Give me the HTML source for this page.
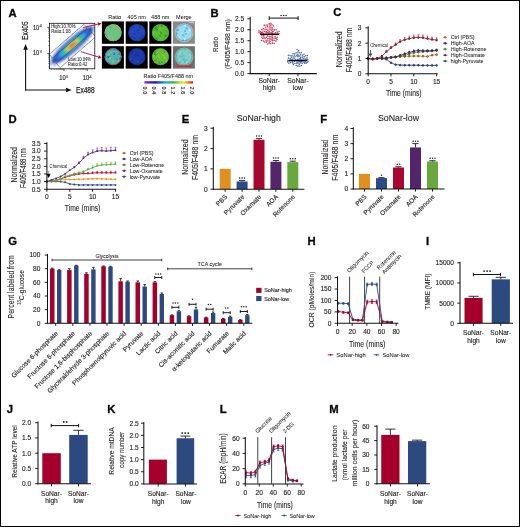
<!DOCTYPE html><html><head><meta charset="utf-8"><style>html,body{margin:0;padding:0;background:#fff;}svg{display:block;will-change:transform;} text{font-family:"Liberation Sans", sans-serif;stroke:#231f20;}</style></head><body><svg width="520" height="527" viewBox="0 0 520 527" font-family="'Liberation Sans', sans-serif" fill="#231f20"><defs><clipPath id="fbox"><rect x="49.4" y="23.3" width="45.4" height="45.5"/></clipPath><filter id="blur1" x="-20%" y="-20%" width="140%" height="140%"><feGaussianBlur stdDeviation="0.9"/></filter><filter id="blur2" x="-20%" y="-20%" width="140%" height="140%"><feGaussianBlur stdDeviation="0.45"/></filter><clipPath id="cc00"><circle cx="113.10" cy="32.70" r="8.60"/></clipPath><clipPath id="cc01"><circle cx="136.90" cy="32.70" r="8.60"/></clipPath><clipPath id="cc02"><circle cx="160.50" cy="32.70" r="8.60"/></clipPath><clipPath id="cc03"><circle cx="184.10" cy="32.70" r="8.60"/></clipPath><clipPath id="cc10"><circle cx="113.10" cy="56.80" r="8.50"/></clipPath><clipPath id="cc11"><circle cx="136.90" cy="56.80" r="8.50"/></clipPath><clipPath id="cc12"><circle cx="160.50" cy="56.80" r="8.50"/></clipPath><clipPath id="cc13"><circle cx="184.10" cy="56.80" r="8.50"/></clipPath><linearGradient id="cbar" x1="0" x2="1" y1="0" y2="0"><stop offset="0" stop-color="#a030a0"/><stop offset="0.22" stop-color="#1a1ab8"/><stop offset="0.45" stop-color="#20b0e8"/><stop offset="0.6" stop-color="#40b840"/><stop offset="0.8" stop-color="#f0f020"/><stop offset="1" stop-color="#e01818"/></linearGradient></defs><rect x="0" y="0" width="520" height="527" fill="#fff"/><text x="8.52" y="16.50" font-size="11.3" font-weight="bold" fill="#000" stroke-width="0.35">A</text>
<text transform="translate(28.40,30.70) rotate(-90)" font-size="9.0" text-anchor="middle" textLength="18.4" lengthAdjust="spacingAndGlyphs" stroke-width="0.1" style="stroke-width:0.25px">Ex405</text>
<line x1="25.60" y1="90.40" x2="25.60" y2="48.00" stroke="#111" stroke-width="1.1"/>
<polygon points="25.6,44 23.3,49.7 27.9,49.7" fill="#111"/>
<line x1="25.05" y1="90.00" x2="67.00" y2="90.00" stroke="#111" stroke-width="1.1"/>
<polygon points="71.7,90 66,87.7 66,92.3" fill="#111"/>
<text x="76.00" y="92.90" font-size="8.9" textLength="18.7" lengthAdjust="spacingAndGlyphs" stroke-width="0.1" style="stroke-width:0.25px">Ex488</text>
<g clip-path="url(#fbox)">
<g transform="translate(72,45.5) rotate(-41)">
<g fill="#3b6fd0" opacity="0.35"><circle cx="-3.3" cy="1.7" r="0.45"/><circle cx="-2.9" cy="-1.1" r="0.45"/><circle cx="-12.1" cy="-0.7" r="0.45"/><circle cx="14.5" cy="1.4" r="0.45"/><circle cx="13.5" cy="0.8" r="0.45"/><circle cx="5.1" cy="0.6" r="0.45"/><circle cx="-21.7" cy="2.9" r="0.45"/><circle cx="6.6" cy="1.7" r="0.45"/><circle cx="-22.0" cy="-5.9" r="0.45"/><circle cx="-11.6" cy="-1.6" r="0.45"/><circle cx="4.0" cy="-0.2" r="0.45"/><circle cx="6.8" cy="-2.2" r="0.45"/><circle cx="4.0" cy="1.3" r="0.45"/><circle cx="-8.6" cy="5.8" r="0.45"/><circle cx="7.2" cy="4.1" r="0.45"/><circle cx="-8.1" cy="-2.5" r="0.45"/><circle cx="-4.5" cy="-0.4" r="0.45"/><circle cx="8.2" cy="0.8" r="0.45"/><circle cx="-5.8" cy="-3.3" r="0.45"/><circle cx="-6.8" cy="4.2" r="0.45"/><circle cx="-10.5" cy="0.8" r="0.45"/><circle cx="5.5" cy="-5.1" r="0.45"/><circle cx="0.6" cy="4.4" r="0.45"/><circle cx="-26.2" cy="-1.1" r="0.45"/><circle cx="-1.4" cy="-2.8" r="0.45"/><circle cx="6.5" cy="-0.2" r="0.45"/><circle cx="-19.0" cy="2.8" r="0.45"/><circle cx="8.7" cy="3.2" r="0.45"/><circle cx="18.7" cy="1.2" r="0.45"/><circle cx="1.6" cy="-4.4" r="0.45"/><circle cx="8.0" cy="-2.1" r="0.45"/><circle cx="-5.9" cy="-4.3" r="0.45"/><circle cx="-12.6" cy="-1.8" r="0.45"/><circle cx="16.8" cy="-6.9" r="0.45"/><circle cx="-19.0" cy="0.8" r="0.45"/><circle cx="18.8" cy="2.0" r="0.45"/><circle cx="-24.7" cy="-8.6" r="0.45"/><circle cx="4.6" cy="-2.5" r="0.45"/><circle cx="-14.6" cy="3.3" r="0.45"/><circle cx="14.3" cy="0.5" r="0.45"/><circle cx="3.2" cy="1.5" r="0.45"/><circle cx="20.7" cy="2.1" r="0.45"/><circle cx="6.7" cy="1.9" r="0.45"/><circle cx="-20.4" cy="4.4" r="0.45"/><circle cx="12.4" cy="1.8" r="0.45"/><circle cx="-25.7" cy="-2.2" r="0.45"/><circle cx="10.9" cy="-6.2" r="0.45"/><circle cx="-2.4" cy="3.5" r="0.45"/><circle cx="-17.0" cy="5.5" r="0.45"/><circle cx="7.2" cy="-0.5" r="0.45"/><circle cx="4.2" cy="2.2" r="0.45"/><circle cx="1.6" cy="3.9" r="0.45"/><circle cx="-8.6" cy="-1.4" r="0.45"/><circle cx="13.5" cy="0.1" r="0.45"/><circle cx="-11.4" cy="3.2" r="0.45"/><circle cx="19.1" cy="-1.5" r="0.45"/><circle cx="-17.9" cy="-0.5" r="0.45"/><circle cx="-1.9" cy="-1.0" r="0.45"/><circle cx="18.3" cy="-3.5" r="0.45"/><circle cx="16.4" cy="-4.3" r="0.45"/><circle cx="-10.2" cy="2.1" r="0.45"/><circle cx="14.7" cy="2.9" r="0.45"/><circle cx="4.5" cy="0.5" r="0.45"/><circle cx="2.0" cy="2.0" r="0.45"/><circle cx="-2.3" cy="0.9" r="0.45"/><circle cx="7.4" cy="0.0" r="0.45"/><circle cx="9.9" cy="1.9" r="0.45"/><circle cx="26.1" cy="1.1" r="0.45"/><circle cx="-5.6" cy="-1.3" r="0.45"/><circle cx="-0.2" cy="3.1" r="0.45"/><circle cx="-4.4" cy="1.3" r="0.45"/><circle cx="23.9" cy="-8.7" r="0.45"/><circle cx="-14.6" cy="0.8" r="0.45"/><circle cx="5.2" cy="0.8" r="0.45"/><circle cx="-5.6" cy="2.2" r="0.45"/><circle cx="3.7" cy="-1.8" r="0.45"/><circle cx="31.6" cy="1.2" r="0.45"/><circle cx="-7.2" cy="-0.3" r="0.45"/><circle cx="-2.9" cy="-0.2" r="0.45"/><circle cx="-35.5" cy="-1.7" r="0.45"/><circle cx="13.1" cy="-4.0" r="0.45"/><circle cx="-0.9" cy="3.2" r="0.45"/><circle cx="11.1" cy="5.1" r="0.45"/><circle cx="-22.1" cy="-1.2" r="0.45"/><circle cx="-4.4" cy="2.1" r="0.45"/><circle cx="14.2" cy="-9.1" r="0.45"/><circle cx="14.2" cy="-4.9" r="0.45"/><circle cx="8.9" cy="-5.1" r="0.45"/><circle cx="2.3" cy="4.1" r="0.45"/><circle cx="-1.9" cy="0.6" r="0.45"/><circle cx="10.4" cy="0.5" r="0.45"/><circle cx="-1.2" cy="5.2" r="0.45"/><circle cx="13.6" cy="-1.0" r="0.45"/><circle cx="35.7" cy="-3.9" r="0.45"/><circle cx="11.9" cy="-0.9" r="0.45"/><circle cx="1.7" cy="2.4" r="0.45"/><circle cx="2.9" cy="2.2" r="0.45"/><circle cx="-19.9" cy="-5.1" r="0.45"/><circle cx="8.0" cy="-3.3" r="0.45"/><circle cx="-13.3" cy="-5.0" r="0.45"/><circle cx="16.5" cy="2.5" r="0.45"/><circle cx="19.1" cy="-3.2" r="0.45"/><circle cx="0.0" cy="-3.9" r="0.45"/><circle cx="10.0" cy="5.4" r="0.45"/><circle cx="-11.6" cy="5.3" r="0.45"/><circle cx="12.8" cy="-0.6" r="0.45"/><circle cx="-25.6" cy="4.8" r="0.45"/><circle cx="-1.3" cy="-2.0" r="0.45"/><circle cx="5.2" cy="1.4" r="0.45"/><circle cx="19.5" cy="-3.5" r="0.45"/><circle cx="14.8" cy="5.1" r="0.45"/><circle cx="18.9" cy="-0.6" r="0.45"/><circle cx="-9.7" cy="3.5" r="0.45"/><circle cx="1.5" cy="0.4" r="0.45"/><circle cx="18.5" cy="-0.9" r="0.45"/><circle cx="-29.9" cy="-1.3" r="0.45"/><circle cx="-24.1" cy="2.8" r="0.45"/><circle cx="4.1" cy="-2.1" r="0.45"/><circle cx="-0.1" cy="2.8" r="0.45"/><circle cx="1.0" cy="4.5" r="0.45"/><circle cx="-0.8" cy="3.5" r="0.45"/><circle cx="19.4" cy="5.5" r="0.45"/><circle cx="-8.7" cy="3.0" r="0.45"/><circle cx="-24.4" cy="-3.7" r="0.45"/><circle cx="-25.5" cy="3.6" r="0.45"/><circle cx="-16.0" cy="-0.0" r="0.45"/><circle cx="-2.5" cy="-0.1" r="0.45"/><circle cx="-7.7" cy="0.8" r="0.45"/><circle cx="23.3" cy="0.2" r="0.45"/><circle cx="6.9" cy="3.4" r="0.45"/><circle cx="-2.6" cy="-4.3" r="0.45"/><circle cx="-7.2" cy="3.7" r="0.45"/><circle cx="-21.4" cy="-2.0" r="0.45"/><circle cx="13.1" cy="2.7" r="0.45"/><circle cx="0.1" cy="2.7" r="0.45"/><circle cx="2.2" cy="-4.0" r="0.45"/><circle cx="-20.3" cy="-2.2" r="0.45"/><circle cx="12.0" cy="-1.9" r="0.45"/><circle cx="-11.7" cy="-2.6" r="0.45"/><circle cx="-19.9" cy="-0.4" r="0.45"/><circle cx="-15.3" cy="1.2" r="0.45"/><circle cx="-30.7" cy="1.1" r="0.45"/><circle cx="-8.3" cy="-6.6" r="0.45"/><circle cx="9.4" cy="-0.9" r="0.45"/><circle cx="-29.0" cy="-3.0" r="0.45"/><circle cx="3.8" cy="-1.6" r="0.45"/><circle cx="10.1" cy="2.5" r="0.45"/><circle cx="8.7" cy="1.1" r="0.45"/><circle cx="17.3" cy="2.2" r="0.45"/><circle cx="5.9" cy="-7.1" r="0.45"/><circle cx="11.7" cy="4.5" r="0.45"/><circle cx="-3.9" cy="-1.6" r="0.45"/><circle cx="25.2" cy="-6.0" r="0.45"/><circle cx="6.1" cy="8.2" r="0.45"/><circle cx="-12.1" cy="2.3" r="0.45"/><circle cx="24.5" cy="-0.4" r="0.45"/><circle cx="7.3" cy="3.1" r="0.45"/><circle cx="-11.8" cy="-0.3" r="0.45"/><circle cx="3.8" cy="2.8" r="0.45"/><circle cx="-0.4" cy="-0.7" r="0.45"/><circle cx="-13.2" cy="-1.2" r="0.45"/><circle cx="11.6" cy="0.3" r="0.45"/><circle cx="-11.1" cy="-2.9" r="0.45"/><circle cx="34.7" cy="3.9" r="0.45"/><circle cx="8.3" cy="-8.8" r="0.45"/><circle cx="8.1" cy="1.6" r="0.45"/><circle cx="21.9" cy="1.5" r="0.45"/><circle cx="-0.9" cy="1.8" r="0.45"/><circle cx="-25.3" cy="3.5" r="0.45"/><circle cx="4.2" cy="-2.4" r="0.45"/><circle cx="17.2" cy="6.2" r="0.45"/><circle cx="-18.2" cy="-2.3" r="0.45"/><circle cx="3.8" cy="0.6" r="0.45"/><circle cx="-5.2" cy="-3.3" r="0.45"/><circle cx="27.6" cy="3.5" r="0.45"/><circle cx="-15.5" cy="-4.6" r="0.45"/><circle cx="22.1" cy="3.4" r="0.45"/><circle cx="23.7" cy="2.8" r="0.45"/><circle cx="-11.3" cy="0.9" r="0.45"/><circle cx="-28.1" cy="-2.5" r="0.45"/><circle cx="-0.8" cy="1.8" r="0.45"/><circle cx="-9.5" cy="-0.4" r="0.45"/><circle cx="6.0" cy="1.3" r="0.45"/><circle cx="8.3" cy="0.7" r="0.45"/><circle cx="-4.2" cy="2.7" r="0.45"/><circle cx="0.6" cy="-2.8" r="0.45"/><circle cx="-8.1" cy="-0.0" r="0.45"/><circle cx="-1.4" cy="0.5" r="0.45"/><circle cx="-0.0" cy="0.6" r="0.45"/><circle cx="-1.7" cy="-4.3" r="0.45"/><circle cx="5.5" cy="3.6" r="0.45"/><circle cx="5.7" cy="-0.6" r="0.45"/><circle cx="5.8" cy="-3.3" r="0.45"/><circle cx="-24.6" cy="0.2" r="0.45"/><circle cx="-12.1" cy="2.5" r="0.45"/><circle cx="-14.1" cy="-8.9" r="0.45"/><circle cx="-13.5" cy="5.4" r="0.45"/><circle cx="-5.0" cy="-4.7" r="0.45"/><circle cx="-9.9" cy="1.8" r="0.45"/><circle cx="6.5" cy="0.6" r="0.45"/><circle cx="19.3" cy="2.4" r="0.45"/><circle cx="-0.3" cy="2.0" r="0.45"/><circle cx="21.5" cy="3.3" r="0.45"/><circle cx="13.3" cy="-3.7" r="0.45"/><circle cx="-1.9" cy="2.5" r="0.45"/><circle cx="-3.9" cy="3.6" r="0.45"/><circle cx="7.8" cy="3.1" r="0.45"/><circle cx="-2.8" cy="8.7" r="0.45"/><circle cx="16.1" cy="-0.7" r="0.45"/><circle cx="1.2" cy="8.8" r="0.45"/><circle cx="-4.5" cy="3.0" r="0.45"/><circle cx="12.7" cy="0.0" r="0.45"/><circle cx="-15.2" cy="0.6" r="0.45"/><circle cx="4.7" cy="3.8" r="0.45"/><circle cx="10.2" cy="0.1" r="0.45"/><circle cx="11.1" cy="1.8" r="0.45"/><circle cx="2.7" cy="0.2" r="0.45"/><circle cx="-3.2" cy="2.3" r="0.45"/><circle cx="-13.7" cy="-2.1" r="0.45"/><circle cx="0.1" cy="-5.0" r="0.45"/><circle cx="-5.7" cy="-6.8" r="0.45"/><circle cx="-8.9" cy="1.9" r="0.45"/><circle cx="7.4" cy="-0.2" r="0.45"/><circle cx="-3.0" cy="-4.8" r="0.45"/><circle cx="23.8" cy="1.8" r="0.45"/><circle cx="14.2" cy="-3.0" r="0.45"/><circle cx="-2.4" cy="-6.2" r="0.45"/><circle cx="10.1" cy="3.2" r="0.45"/><circle cx="-24.7" cy="-0.2" r="0.45"/><circle cx="8.2" cy="-6.0" r="0.45"/><circle cx="-23.7" cy="-3.6" r="0.45"/><circle cx="-8.2" cy="-4.8" r="0.45"/><circle cx="0.4" cy="0.8" r="0.45"/><circle cx="8.2" cy="2.4" r="0.45"/><circle cx="19.5" cy="4.0" r="0.45"/><circle cx="-17.1" cy="-1.7" r="0.45"/><circle cx="-13.8" cy="-3.7" r="0.45"/><circle cx="-1.1" cy="0.0" r="0.45"/><circle cx="6.4" cy="-5.4" r="0.45"/><circle cx="-16.1" cy="-0.1" r="0.45"/><circle cx="-2.6" cy="-1.1" r="0.45"/><circle cx="-0.8" cy="-2.6" r="0.45"/><circle cx="9.1" cy="1.2" r="0.45"/><circle cx="-1.1" cy="-2.3" r="0.45"/><circle cx="-2.3" cy="-9.3" r="0.45"/><circle cx="-12.8" cy="0.1" r="0.45"/><circle cx="-19.6" cy="0.7" r="0.45"/><circle cx="1.9" cy="-4.7" r="0.45"/><circle cx="-3.3" cy="-1.1" r="0.45"/><circle cx="6.0" cy="2.1" r="0.45"/><circle cx="-0.5" cy="-2.9" r="0.45"/><circle cx="-1.9" cy="-0.2" r="0.45"/><circle cx="9.5" cy="1.0" r="0.45"/><circle cx="-9.4" cy="-4.6" r="0.45"/><circle cx="-4.9" cy="-2.5" r="0.45"/><circle cx="-14.5" cy="-0.4" r="0.45"/><circle cx="-6.4" cy="0.4" r="0.45"/><circle cx="6.8" cy="-1.4" r="0.45"/><circle cx="30.2" cy="-1.1" r="0.45"/><circle cx="14.3" cy="0.4" r="0.45"/><circle cx="14.5" cy="-8.1" r="0.45"/><circle cx="-9.8" cy="0.8" r="0.45"/><circle cx="7.8" cy="7.9" r="0.45"/><circle cx="4.2" cy="4.4" r="0.45"/><circle cx="10.0" cy="3.2" r="0.45"/><circle cx="6.6" cy="-0.5" r="0.45"/><circle cx="6.6" cy="-3.7" r="0.45"/><circle cx="15.4" cy="-3.5" r="0.45"/><circle cx="3.2" cy="7.2" r="0.45"/><circle cx="-2.9" cy="0.1" r="0.45"/><circle cx="15.1" cy="0.1" r="0.45"/><circle cx="-10.5" cy="0.9" r="0.45"/><circle cx="7.6" cy="2.4" r="0.45"/><circle cx="-10.0" cy="6.0" r="0.45"/><circle cx="21.7" cy="0.1" r="0.45"/><circle cx="3.5" cy="-1.5" r="0.45"/><circle cx="18.4" cy="-2.4" r="0.45"/><circle cx="8.8" cy="-1.6" r="0.45"/><circle cx="-9.0" cy="2.4" r="0.45"/><circle cx="17.3" cy="-0.0" r="0.45"/><circle cx="-8.8" cy="2.8" r="0.45"/><circle cx="-0.6" cy="1.1" r="0.45"/><circle cx="19.8" cy="3.8" r="0.45"/><circle cx="-6.8" cy="7.8" r="0.45"/><circle cx="0.0" cy="2.7" r="0.45"/><circle cx="-8.4" cy="-0.2" r="0.45"/><circle cx="-22.7" cy="6.1" r="0.45"/><circle cx="17.8" cy="-4.1" r="0.45"/><circle cx="-19.6" cy="-5.5" r="0.45"/><circle cx="15.3" cy="-1.6" r="0.45"/><circle cx="-0.8" cy="-1.1" r="0.45"/><circle cx="-1.6" cy="-3.7" r="0.45"/><circle cx="0.3" cy="-4.9" r="0.45"/><circle cx="-0.9" cy="1.0" r="0.45"/><circle cx="6.1" cy="-0.8" r="0.45"/><circle cx="-11.7" cy="0.5" r="0.45"/><circle cx="-6.3" cy="5.3" r="0.45"/><circle cx="10.0" cy="-0.4" r="0.45"/><circle cx="-6.1" cy="-2.4" r="0.45"/><circle cx="-12.2" cy="-1.2" r="0.45"/><circle cx="3.8" cy="1.8" r="0.45"/><circle cx="7.4" cy="7.1" r="0.45"/><circle cx="-9.2" cy="0.0" r="0.45"/><circle cx="-6.8" cy="0.6" r="0.45"/><circle cx="2.0" cy="1.4" r="0.45"/><circle cx="-3.1" cy="1.2" r="0.45"/><circle cx="0.7" cy="2.6" r="0.45"/><circle cx="-24.6" cy="-3.0" r="0.45"/><circle cx="-0.0" cy="-3.5" r="0.45"/><circle cx="-13.6" cy="2.1" r="0.45"/><circle cx="-8.4" cy="2.2" r="0.45"/><circle cx="9.7" cy="1.0" r="0.45"/><circle cx="6.6" cy="-0.4" r="0.45"/><circle cx="-18.3" cy="-0.1" r="0.45"/><circle cx="5.9" cy="-1.8" r="0.45"/><circle cx="-1.3" cy="2.5" r="0.45"/><circle cx="-11.4" cy="2.2" r="0.45"/><circle cx="24.2" cy="-1.9" r="0.45"/><circle cx="1.9" cy="-0.5" r="0.45"/><circle cx="20.0" cy="1.1" r="0.45"/><circle cx="11.7" cy="-2.3" r="0.45"/><circle cx="-0.2" cy="-0.0" r="0.45"/><circle cx="-23.1" cy="4.9" r="0.45"/><circle cx="11.7" cy="-5.9" r="0.45"/><circle cx="9.7" cy="-0.4" r="0.45"/><circle cx="5.8" cy="1.2" r="0.45"/><circle cx="-19.5" cy="-0.7" r="0.45"/><circle cx="19.4" cy="-2.0" r="0.45"/><circle cx="-13.3" cy="-4.6" r="0.45"/><circle cx="-15.9" cy="1.1" r="0.45"/><circle cx="22.0" cy="1.5" r="0.45"/><circle cx="3.2" cy="7.6" r="0.45"/><circle cx="-6.8" cy="-2.3" r="0.45"/><circle cx="6.9" cy="1.9" r="0.45"/><circle cx="-13.2" cy="-4.0" r="0.45"/><circle cx="3.8" cy="0.8" r="0.45"/><circle cx="-17.0" cy="-0.7" r="0.45"/><circle cx="-7.1" cy="1.6" r="0.45"/><circle cx="-1.5" cy="-0.3" r="0.45"/><circle cx="-4.6" cy="3.6" r="0.45"/><circle cx="18.1" cy="-1.2" r="0.45"/><circle cx="11.0" cy="-2.6" r="0.45"/><circle cx="0.9" cy="2.5" r="0.45"/><circle cx="19.7" cy="-1.3" r="0.45"/><circle cx="-1.0" cy="0.7" r="0.45"/><circle cx="-19.5" cy="0.1" r="0.45"/><circle cx="-8.8" cy="1.3" r="0.45"/><circle cx="-14.7" cy="-6.7" r="0.45"/><circle cx="0.5" cy="0.9" r="0.45"/><circle cx="-7.1" cy="3.0" r="0.45"/><circle cx="-3.6" cy="-2.1" r="0.45"/><circle cx="6.2" cy="-5.3" r="0.45"/><circle cx="-8.8" cy="-0.1" r="0.45"/><circle cx="11.0" cy="-0.6" r="0.45"/><circle cx="4.0" cy="-2.2" r="0.45"/><circle cx="3.9" cy="5.7" r="0.45"/><circle cx="-8.9" cy="8.0" r="0.45"/><circle cx="-8.4" cy="0.1" r="0.45"/><circle cx="2.3" cy="3.5" r="0.45"/><circle cx="-16.1" cy="-7.1" r="0.45"/><circle cx="7.9" cy="2.7" r="0.45"/><circle cx="8.1" cy="8.9" r="0.45"/><circle cx="2.7" cy="0.9" r="0.45"/><circle cx="12.1" cy="1.3" r="0.45"/><circle cx="21.6" cy="-4.2" r="0.45"/><circle cx="-4.9" cy="-11.7" r="0.45"/><circle cx="10.6" cy="-1.3" r="0.45"/><circle cx="12.0" cy="7.3" r="0.45"/><circle cx="-0.1" cy="-0.9" r="0.45"/><circle cx="-6.5" cy="-2.8" r="0.45"/><circle cx="-8.2" cy="2.2" r="0.45"/><circle cx="0.5" cy="0.2" r="0.45"/><circle cx="-2.3" cy="3.1" r="0.45"/><circle cx="6.4" cy="-0.5" r="0.45"/><circle cx="8.6" cy="-0.5" r="0.45"/><circle cx="-15.0" cy="4.9" r="0.45"/><circle cx="6.0" cy="-3.3" r="0.45"/><circle cx="14.0" cy="1.2" r="0.45"/><circle cx="-20.3" cy="5.5" r="0.45"/><circle cx="4.3" cy="3.0" r="0.45"/><circle cx="2.6" cy="-0.5" r="0.45"/><circle cx="-20.1" cy="3.3" r="0.45"/><circle cx="0.4" cy="-1.0" r="0.45"/><circle cx="4.6" cy="0.3" r="0.45"/><circle cx="8.8" cy="-1.3" r="0.45"/><circle cx="-0.5" cy="-7.3" r="0.45"/><circle cx="-5.5" cy="2.3" r="0.45"/><circle cx="17.4" cy="-1.2" r="0.45"/><circle cx="-1.6" cy="5.4" r="0.45"/><circle cx="-4.2" cy="2.5" r="0.45"/><circle cx="21.8" cy="0.1" r="0.45"/><circle cx="15.9" cy="-2.4" r="0.45"/><circle cx="2.7" cy="-0.3" r="0.45"/><circle cx="1.5" cy="3.8" r="0.45"/><circle cx="31.1" cy="-2.3" r="0.45"/><circle cx="-7.5" cy="1.7" r="0.45"/><circle cx="-13.7" cy="1.7" r="0.45"/><circle cx="7.4" cy="-0.9" r="0.45"/><circle cx="6.9" cy="-5.3" r="0.45"/><circle cx="9.9" cy="-5.3" r="0.45"/><circle cx="-9.1" cy="-1.9" r="0.45"/><circle cx="-5.2" cy="2.9" r="0.45"/><circle cx="1.1" cy="-1.4" r="0.45"/><circle cx="7.1" cy="5.4" r="0.45"/><circle cx="0.1" cy="1.2" r="0.45"/><circle cx="16.1" cy="0.9" r="0.45"/><circle cx="-16.7" cy="8.5" r="0.45"/><circle cx="28.7" cy="-6.7" r="0.45"/><circle cx="-0.5" cy="1.4" r="0.45"/><circle cx="12.6" cy="2.3" r="0.45"/><circle cx="-3.5" cy="-3.6" r="0.45"/><circle cx="1.3" cy="3.5" r="0.45"/><circle cx="-14.2" cy="-3.5" r="0.45"/><circle cx="-0.3" cy="-6.6" r="0.45"/><circle cx="-3.4" cy="-1.5" r="0.45"/><circle cx="5.9" cy="-2.4" r="0.45"/><circle cx="-11.5" cy="-1.3" r="0.45"/><circle cx="-0.6" cy="-2.3" r="0.45"/><circle cx="0.2" cy="2.6" r="0.45"/><circle cx="15.4" cy="5.8" r="0.45"/><circle cx="-10.2" cy="-1.4" r="0.45"/><circle cx="-32.3" cy="6.5" r="0.45"/><circle cx="-9.4" cy="-0.1" r="0.45"/><circle cx="6.8" cy="-4.6" r="0.45"/><circle cx="6.0" cy="-0.1" r="0.45"/><circle cx="-23.7" cy="1.0" r="0.45"/><circle cx="15.5" cy="-6.4" r="0.45"/><circle cx="10.5" cy="0.7" r="0.45"/><circle cx="6.2" cy="1.5" r="0.45"/><circle cx="17.0" cy="-0.8" r="0.45"/><circle cx="11.4" cy="-1.4" r="0.45"/><circle cx="9.5" cy="-2.8" r="0.45"/><circle cx="-1.4" cy="5.9" r="0.45"/><circle cx="5.8" cy="-0.5" r="0.45"/><circle cx="-14.9" cy="-2.7" r="0.45"/><circle cx="2.5" cy="3.2" r="0.45"/><circle cx="5.5" cy="1.8" r="0.45"/><circle cx="-0.5" cy="4.6" r="0.45"/><circle cx="-5.1" cy="-1.9" r="0.45"/><circle cx="11.5" cy="0.2" r="0.45"/><circle cx="-3.6" cy="-2.0" r="0.45"/><circle cx="-3.3" cy="2.1" r="0.45"/><circle cx="4.6" cy="-4.1" r="0.45"/><circle cx="5.5" cy="0.6" r="0.45"/><circle cx="-13.0" cy="2.6" r="0.45"/><circle cx="-3.6" cy="-1.1" r="0.45"/><circle cx="10.3" cy="4.5" r="0.45"/><circle cx="-9.0" cy="1.5" r="0.45"/><circle cx="-11.4" cy="7.9" r="0.45"/><circle cx="-6.4" cy="4.1" r="0.45"/><circle cx="-8.4" cy="2.8" r="0.45"/><circle cx="28.8" cy="-8.6" r="0.45"/><circle cx="-5.6" cy="1.7" r="0.45"/><circle cx="-1.2" cy="-2.3" r="0.45"/><circle cx="28.0" cy="0.3" r="0.45"/><circle cx="-21.4" cy="2.9" r="0.45"/><circle cx="-22.4" cy="3.9" r="0.45"/><circle cx="-7.5" cy="0.5" r="0.45"/><circle cx="16.4" cy="0.4" r="0.45"/><circle cx="-18.1" cy="-5.8" r="0.45"/><circle cx="15.4" cy="2.5" r="0.45"/><circle cx="-10.6" cy="2.9" r="0.45"/><circle cx="6.5" cy="2.2" r="0.45"/><circle cx="-29.4" cy="-1.0" r="0.45"/><circle cx="11.7" cy="2.5" r="0.45"/><circle cx="11.5" cy="-8.4" r="0.45"/><circle cx="2.2" cy="1.7" r="0.45"/><circle cx="33.2" cy="-3.2" r="0.45"/><circle cx="-4.3" cy="0.1" r="0.45"/><circle cx="11.5" cy="-1.5" r="0.45"/><circle cx="14.9" cy="-2.7" r="0.45"/><circle cx="3.5" cy="-1.8" r="0.45"/><circle cx="2.1" cy="-2.3" r="0.45"/><circle cx="-20.8" cy="3.7" r="0.45"/><circle cx="3.9" cy="-1.9" r="0.45"/><circle cx="2.6" cy="3.4" r="0.45"/><circle cx="-12.7" cy="-0.4" r="0.45"/><circle cx="7.0" cy="1.8" r="0.45"/><circle cx="-4.4" cy="-7.2" r="0.45"/><circle cx="16.2" cy="1.1" r="0.45"/><circle cx="0.2" cy="-0.9" r="0.45"/><circle cx="3.4" cy="-1.4" r="0.45"/><circle cx="-13.3" cy="-2.5" r="0.45"/><circle cx="-7.8" cy="-2.1" r="0.45"/><circle cx="-15.1" cy="2.2" r="0.45"/><circle cx="-17.0" cy="2.2" r="0.45"/><circle cx="-13.2" cy="1.2" r="0.45"/><circle cx="17.9" cy="0.7" r="0.45"/><circle cx="-9.5" cy="0.2" r="0.45"/><circle cx="1.9" cy="-5.9" r="0.45"/><circle cx="-7.9" cy="0.6" r="0.45"/><circle cx="-6.1" cy="0.3" r="0.45"/><circle cx="9.5" cy="2.6" r="0.45"/><circle cx="11.8" cy="2.0" r="0.45"/><circle cx="-3.7" cy="-0.1" r="0.45"/><circle cx="-3.5" cy="-1.1" r="0.45"/><circle cx="-2.3" cy="-5.9" r="0.45"/><circle cx="-4.3" cy="-0.1" r="0.45"/><circle cx="-12.7" cy="-0.1" r="0.45"/><circle cx="6.7" cy="-0.6" r="0.45"/><circle cx="27.0" cy="-8.9" r="0.45"/><circle cx="-2.7" cy="-6.2" r="0.45"/><circle cx="12.7" cy="9.0" r="0.45"/><circle cx="-32.5" cy="0.4" r="0.45"/><circle cx="6.7" cy="-1.0" r="0.45"/><circle cx="7.2" cy="-7.6" r="0.45"/><circle cx="11.1" cy="1.3" r="0.45"/><circle cx="0.3" cy="-2.0" r="0.45"/><circle cx="8.3" cy="-1.7" r="0.45"/><circle cx="2.9" cy="-1.7" r="0.45"/><circle cx="-29.2" cy="-0.1" r="0.45"/><circle cx="2.6" cy="2.6" r="0.45"/><circle cx="-11.4" cy="-0.1" r="0.45"/><circle cx="8.0" cy="0.5" r="0.45"/><circle cx="16.2" cy="6.8" r="0.45"/><circle cx="-11.8" cy="-6.5" r="0.45"/><circle cx="11.1" cy="5.2" r="0.45"/><circle cx="12.0" cy="2.8" r="0.45"/><circle cx="-8.0" cy="-2.4" r="0.45"/><circle cx="11.5" cy="-3.1" r="0.45"/><circle cx="-23.6" cy="-3.4" r="0.45"/><circle cx="32.4" cy="6.5" r="0.45"/><circle cx="-8.9" cy="-2.5" r="0.45"/><circle cx="3.0" cy="-2.5" r="0.45"/><circle cx="17.0" cy="-0.3" r="0.45"/><circle cx="-14.1" cy="4.5" r="0.45"/><circle cx="-7.6" cy="0.8" r="0.45"/><circle cx="-0.2" cy="-1.1" r="0.45"/><circle cx="4.2" cy="-2.4" r="0.45"/><circle cx="-24.0" cy="-7.5" r="0.45"/><circle cx="-16.5" cy="-2.6" r="0.45"/><circle cx="-0.3" cy="0.2" r="0.45"/><circle cx="7.2" cy="0.4" r="0.45"/><circle cx="-10.3" cy="-2.4" r="0.45"/><circle cx="-27.5" cy="-0.6" r="0.45"/><circle cx="6.3" cy="1.8" r="0.45"/><circle cx="-1.6" cy="-0.6" r="0.45"/><circle cx="12.2" cy="0.1" r="0.45"/><circle cx="9.6" cy="2.0" r="0.45"/><circle cx="2.8" cy="4.4" r="0.45"/><circle cx="-7.4" cy="-1.2" r="0.45"/><circle cx="-10.5" cy="-2.7" r="0.45"/><circle cx="20.2" cy="6.0" r="0.45"/><circle cx="0.3" cy="1.9" r="0.45"/><circle cx="15.3" cy="2.7" r="0.45"/><circle cx="15.7" cy="-4.3" r="0.45"/><circle cx="-8.3" cy="1.5" r="0.45"/><circle cx="18.7" cy="0.4" r="0.45"/><circle cx="-11.2" cy="-1.2" r="0.45"/><circle cx="-8.6" cy="-2.9" r="0.45"/><circle cx="19.5" cy="-2.1" r="0.45"/><circle cx="0.3" cy="7.4" r="0.45"/><circle cx="15.4" cy="1.1" r="0.45"/><circle cx="-8.0" cy="1.4" r="0.45"/><circle cx="21.1" cy="2.1" r="0.45"/><circle cx="16.4" cy="0.3" r="0.45"/><circle cx="6.7" cy="-0.7" r="0.45"/><circle cx="5.5" cy="4.4" r="0.45"/><circle cx="-18.6" cy="-0.2" r="0.45"/><circle cx="3.1" cy="-1.9" r="0.45"/><circle cx="-4.0" cy="2.7" r="0.45"/><circle cx="26.0" cy="2.1" r="0.45"/><circle cx="4.2" cy="-5.3" r="0.45"/><circle cx="25.1" cy="0.3" r="0.45"/><circle cx="-0.4" cy="-3.8" r="0.45"/><circle cx="-0.7" cy="-3.7" r="0.45"/><circle cx="0.9" cy="1.6" r="0.45"/><circle cx="0.4" cy="1.0" r="0.45"/><circle cx="-11.1" cy="4.9" r="0.45"/><circle cx="-8.5" cy="-6.2" r="0.45"/><circle cx="-2.4" cy="-2.6" r="0.45"/><circle cx="-13.1" cy="-1.2" r="0.45"/><circle cx="3.8" cy="-4.0" r="0.45"/><circle cx="-1.8" cy="4.9" r="0.45"/><circle cx="8.9" cy="-0.5" r="0.45"/><circle cx="1.7" cy="-0.4" r="0.45"/><circle cx="-0.6" cy="2.5" r="0.45"/><circle cx="-1.2" cy="-8.2" r="0.45"/><circle cx="-0.3" cy="-3.0" r="0.45"/><circle cx="8.5" cy="-2.1" r="0.45"/><circle cx="1.9" cy="7.4" r="0.45"/><circle cx="-13.6" cy="-3.8" r="0.45"/><circle cx="-18.3" cy="-8.1" r="0.45"/><circle cx="-24.4" cy="1.2" r="0.45"/><circle cx="-8.3" cy="-6.4" r="0.45"/><circle cx="-19.3" cy="2.1" r="0.45"/><circle cx="-10.1" cy="-1.2" r="0.45"/><circle cx="4.3" cy="4.6" r="0.45"/><circle cx="25.2" cy="3.5" r="0.45"/><circle cx="1.9" cy="0.6" r="0.45"/><circle cx="23.4" cy="4.9" r="0.45"/><circle cx="-4.0" cy="1.6" r="0.45"/><circle cx="3.7" cy="0.2" r="0.45"/><circle cx="-6.5" cy="-4.5" r="0.45"/><circle cx="-6.9" cy="-5.3" r="0.45"/><circle cx="15.9" cy="1.8" r="0.45"/><circle cx="-15.7" cy="4.7" r="0.45"/><circle cx="11.6" cy="-6.5" r="0.45"/><circle cx="23.9" cy="2.8" r="0.45"/><circle cx="26.8" cy="-4.2" r="0.45"/><circle cx="6.9" cy="1.4" r="0.45"/><circle cx="2.6" cy="0.6" r="0.45"/><circle cx="13.7" cy="-5.1" r="0.45"/><circle cx="-16.1" cy="-4.7" r="0.45"/><circle cx="-7.2" cy="-2.1" r="0.45"/><circle cx="4.8" cy="0.9" r="0.45"/><circle cx="0.4" cy="-2.3" r="0.45"/><circle cx="-5.7" cy="3.2" r="0.45"/><circle cx="9.9" cy="0.3" r="0.45"/><circle cx="-4.2" cy="5.3" r="0.45"/><circle cx="-7.7" cy="2.2" r="0.45"/><circle cx="15.0" cy="-0.9" r="0.45"/><circle cx="10.7" cy="-3.8" r="0.45"/><circle cx="13.2" cy="0.7" r="0.45"/><circle cx="-20.6" cy="2.3" r="0.45"/><circle cx="-11.6" cy="4.4" r="0.45"/><circle cx="-8.8" cy="-0.6" r="0.45"/><circle cx="3.7" cy="-1.1" r="0.45"/><circle cx="3.4" cy="-1.9" r="0.45"/><circle cx="8.7" cy="0.0" r="0.45"/><circle cx="2.7" cy="-9.4" r="0.45"/><circle cx="15.1" cy="0.1" r="0.45"/><circle cx="-23.2" cy="0.3" r="0.45"/><circle cx="6.1" cy="3.6" r="0.45"/><circle cx="-14.1" cy="5.3" r="0.45"/><circle cx="-2.1" cy="8.1" r="0.45"/><circle cx="-1.9" cy="2.3" r="0.45"/><circle cx="-4.8" cy="-3.8" r="0.45"/><circle cx="14.3" cy="3.1" r="0.45"/><circle cx="20.0" cy="2.9" r="0.45"/><circle cx="-7.5" cy="-5.7" r="0.45"/><circle cx="-8.5" cy="-2.3" r="0.45"/><circle cx="-10.6" cy="2.0" r="0.45"/><circle cx="4.3" cy="-0.9" r="0.45"/><circle cx="2.2" cy="-0.5" r="0.45"/><circle cx="2.8" cy="2.6" r="0.45"/><circle cx="12.5" cy="-2.3" r="0.45"/><circle cx="-19.6" cy="4.9" r="0.45"/><circle cx="1.5" cy="3.8" r="0.45"/><circle cx="-21.4" cy="-1.1" r="0.45"/><circle cx="0.4" cy="-4.9" r="0.45"/><circle cx="-6.7" cy="2.5" r="0.45"/><circle cx="14.0" cy="5.4" r="0.45"/><circle cx="-11.2" cy="-4.8" r="0.45"/><circle cx="6.8" cy="3.2" r="0.45"/><circle cx="2.5" cy="-4.4" r="0.45"/><circle cx="10.2" cy="2.7" r="0.45"/><circle cx="7.2" cy="-1.7" r="0.45"/><circle cx="4.0" cy="2.7" r="0.45"/><circle cx="-7.3" cy="-6.3" r="0.45"/><circle cx="4.3" cy="1.6" r="0.45"/><circle cx="0.2" cy="3.0" r="0.45"/><circle cx="-7.6" cy="-0.3" r="0.45"/><circle cx="-4.0" cy="1.9" r="0.45"/><circle cx="20.7" cy="-0.9" r="0.45"/><circle cx="26.7" cy="5.2" r="0.45"/><circle cx="10.3" cy="2.0" r="0.45"/><circle cx="23.0" cy="-0.6" r="0.45"/><circle cx="-1.5" cy="-3.6" r="0.45"/><circle cx="6.1" cy="4.6" r="0.45"/><circle cx="6.9" cy="1.4" r="0.45"/><circle cx="-2.6" cy="0.6" r="0.45"/><circle cx="-18.5" cy="3.6" r="0.45"/><circle cx="-5.3" cy="-3.8" r="0.45"/><circle cx="-9.8" cy="-2.8" r="0.45"/><circle cx="11.1" cy="3.6" r="0.45"/><circle cx="-17.7" cy="3.1" r="0.45"/><circle cx="11.5" cy="-2.0" r="0.45"/><circle cx="-19.3" cy="-2.5" r="0.45"/><circle cx="-8.2" cy="1.2" r="0.45"/><circle cx="-4.6" cy="-6.9" r="0.45"/><circle cx="3.0" cy="-5.2" r="0.45"/><circle cx="11.8" cy="-4.1" r="0.45"/><circle cx="-9.0" cy="-2.9" r="0.45"/><circle cx="-7.1" cy="4.4" r="0.45"/><circle cx="11.1" cy="2.0" r="0.45"/><circle cx="4.2" cy="-5.3" r="0.45"/><circle cx="-6.8" cy="-1.9" r="0.45"/><circle cx="-12.7" cy="1.7" r="0.45"/><circle cx="-9.6" cy="-2.4" r="0.45"/><circle cx="-13.6" cy="-7.0" r="0.45"/><circle cx="7.7" cy="4.5" r="0.45"/><circle cx="2.3" cy="-3.3" r="0.45"/><circle cx="-35.2" cy="0.6" r="0.45"/><circle cx="15.8" cy="1.0" r="0.45"/><circle cx="12.1" cy="5.0" r="0.45"/><circle cx="14.6" cy="-1.5" r="0.45"/><circle cx="13.7" cy="2.6" r="0.45"/><circle cx="-20.0" cy="-1.4" r="0.45"/><circle cx="-18.5" cy="-0.4" r="0.45"/><circle cx="7.5" cy="-3.6" r="0.45"/><circle cx="-26.7" cy="4.4" r="0.45"/><circle cx="4.9" cy="5.0" r="0.45"/><circle cx="-17.2" cy="3.6" r="0.45"/><circle cx="27.0" cy="6.8" r="0.45"/><circle cx="-2.7" cy="0.9" r="0.45"/><circle cx="-2.0" cy="3.4" r="0.45"/><circle cx="13.5" cy="0.3" r="0.45"/><circle cx="-17.7" cy="2.5" r="0.45"/></g>
<g filter="url(#blur1)">
<ellipse cx="0.5" cy="0" rx="31" ry="7.6" fill="#a8c0ec" opacity="0.75"/>
<ellipse cx="0.5" cy="0" rx="27" ry="6.3" fill="#2448b8" opacity="1"/>
<ellipse cx="0.5" cy="0" rx="22" ry="5.0" fill="#2a70dc" opacity="1"/>
<ellipse cx="0.5" cy="0" rx="17" ry="3.9" fill="#30b4e0" opacity="1"/>
<ellipse cx="0.5" cy="0" rx="13" ry="3.1" fill="#48c060" opacity="1"/>
<ellipse cx="0.5" cy="0" rx="9.5" ry="2.4" fill="#c8e040" opacity="1"/>
<ellipse cx="0.5" cy="0" rx="6.5" ry="1.75" fill="#f0a020" opacity="1"/>
<ellipse cx="0.5" cy="0" rx="3.8" ry="1.1" fill="#f03a20" opacity="1"/>
</g>
<rect x="-23" y="-8.2" width="46" height="5" fill="none" stroke="#333" stroke-width="0.45"/>
<rect x="-23.5" y="3" width="47" height="6" fill="none" stroke="#333" stroke-width="0.45"/>
</g></g>
<rect x="49.4" y="23.3" width="45.4" height="45.5" fill="none" stroke="#111" stroke-width="0.8"/>
<text x="51.20" y="28.40" font-size="4.5" textLength="24.3" lengthAdjust="spacingAndGlyphs" stroke-width="0.06">High:10.70%</text>
<text x="51.20" y="32.90" font-size="4.5" textLength="19.3" lengthAdjust="spacingAndGlyphs" stroke-width="0.06">Ratio:1.08</text>
<text x="68.30" y="61.30" font-size="4.5" textLength="22.7" lengthAdjust="spacingAndGlyphs" stroke-width="0.06">Low:10.04%</text>
<text x="67.80" y="66.20" font-size="4.5" textLength="19.5" lengthAdjust="spacingAndGlyphs" stroke-width="0.06">Ratio:0.42</text>
<line x1="47.20" y1="27.60" x2="49.40" y2="27.60" stroke="#111" stroke-width="0.7"/>
<line x1="47.20" y1="53.40" x2="49.40" y2="53.40" stroke="#111" stroke-width="0.7"/>
<line x1="48.20" y1="45.63" x2="49.40" y2="45.63" stroke="#111" stroke-width="0.5"/>
<line x1="48.20" y1="41.09" x2="49.40" y2="41.09" stroke="#111" stroke-width="0.5"/>
<line x1="48.20" y1="66.89" x2="49.40" y2="66.89" stroke="#111" stroke-width="0.5"/>
<line x1="48.20" y1="37.87" x2="49.40" y2="37.87" stroke="#111" stroke-width="0.5"/>
<line x1="48.20" y1="63.67" x2="49.40" y2="63.67" stroke="#111" stroke-width="0.5"/>
<line x1="48.20" y1="35.37" x2="49.40" y2="35.37" stroke="#111" stroke-width="0.5"/>
<line x1="48.20" y1="61.17" x2="49.40" y2="61.17" stroke="#111" stroke-width="0.5"/>
<line x1="48.20" y1="33.32" x2="49.40" y2="33.32" stroke="#111" stroke-width="0.5"/>
<line x1="48.20" y1="59.12" x2="49.40" y2="59.12" stroke="#111" stroke-width="0.5"/>
<line x1="48.20" y1="31.60" x2="49.40" y2="31.60" stroke="#111" stroke-width="0.5"/>
<line x1="48.20" y1="57.40" x2="49.40" y2="57.40" stroke="#111" stroke-width="0.5"/>
<line x1="48.20" y1="30.10" x2="49.40" y2="30.10" stroke="#111" stroke-width="0.5"/>
<line x1="48.20" y1="55.90" x2="49.40" y2="55.90" stroke="#111" stroke-width="0.5"/>
<line x1="48.20" y1="28.78" x2="49.40" y2="28.78" stroke="#111" stroke-width="0.5"/>
<line x1="48.20" y1="54.58" x2="49.40" y2="54.58" stroke="#111" stroke-width="0.5"/>
<line x1="64.00" y1="68.80" x2="64.00" y2="71.00" stroke="#111" stroke-width="0.7"/>
<line x1="87.30" y1="68.80" x2="87.30" y2="71.00" stroke="#111" stroke-width="0.7"/>
<line x1="71.01" y1="68.80" x2="71.01" y2="70.00" stroke="#111" stroke-width="0.5"/>
<line x1="51.82" y1="68.80" x2="51.82" y2="70.00" stroke="#111" stroke-width="0.5"/>
<line x1="75.12" y1="68.80" x2="75.12" y2="70.00" stroke="#111" stroke-width="0.5"/>
<line x1="54.73" y1="68.80" x2="54.73" y2="70.00" stroke="#111" stroke-width="0.5"/>
<line x1="78.03" y1="68.80" x2="78.03" y2="70.00" stroke="#111" stroke-width="0.5"/>
<line x1="56.99" y1="68.80" x2="56.99" y2="70.00" stroke="#111" stroke-width="0.5"/>
<line x1="80.29" y1="68.80" x2="80.29" y2="70.00" stroke="#111" stroke-width="0.5"/>
<line x1="58.83" y1="68.80" x2="58.83" y2="70.00" stroke="#111" stroke-width="0.5"/>
<line x1="82.13" y1="68.80" x2="82.13" y2="70.00" stroke="#111" stroke-width="0.5"/>
<line x1="60.39" y1="68.80" x2="60.39" y2="70.00" stroke="#111" stroke-width="0.5"/>
<line x1="83.69" y1="68.80" x2="83.69" y2="70.00" stroke="#111" stroke-width="0.5"/>
<line x1="61.74" y1="68.80" x2="61.74" y2="70.00" stroke="#111" stroke-width="0.5"/>
<line x1="85.04" y1="68.80" x2="85.04" y2="70.00" stroke="#111" stroke-width="0.5"/>
<line x1="62.93" y1="68.80" x2="62.93" y2="70.00" stroke="#111" stroke-width="0.5"/>
<line x1="86.23" y1="68.80" x2="86.23" y2="70.00" stroke="#111" stroke-width="0.5"/>
<text x="39.20" y="29.80" font-size="6.3" text-anchor="end" textLength="6.3" lengthAdjust="spacingAndGlyphs" stroke-width="0.14">10</text>
<text x="39.60" y="27.30" font-size="4.2" stroke-width="0.06">4</text>
<text x="39.20" y="55.20" font-size="6.3" text-anchor="end" textLength="6.3" lengthAdjust="spacingAndGlyphs" stroke-width="0.14">10</text>
<text x="39.60" y="52.70" font-size="4.2" stroke-width="0.06">3</text>
<text x="59.20" y="80.40" font-size="6.3" textLength="6.5" lengthAdjust="spacingAndGlyphs" stroke-width="0.14">10</text>
<text x="65.70" y="77.50" font-size="4.2" stroke-width="0.06">3</text>
<text x="82.80" y="80.40" font-size="6.3" textLength="6.5" lengthAdjust="spacingAndGlyphs" stroke-width="0.14">10</text>
<text x="89.20" y="77.50" font-size="4.2" stroke-width="0.06">4</text>
<line x1="83.10" y1="27.60" x2="98.50" y2="24.00" stroke="#b0103a" stroke-width="0.9"/>
<polygon points="101.6,23.3 97.6,22.3 98.4,26.0" fill="#b0103a"/>
<line x1="81.00" y1="51.70" x2="98.50" y2="57.00" stroke="#b0103a" stroke-width="0.9"/>
<polygon points="101.6,58.0 98.9,55.0 97.8,58.7" fill="#b0103a"/>
<text x="114.60" y="18.70" font-size="5.5" text-anchor="middle" stroke-width="0.06">Ratio</text>
<text x="136.70" y="18.70" font-size="5.5" text-anchor="middle" stroke-width="0.06">405 nm</text>
<text x="160.30" y="18.70" font-size="5.5" text-anchor="middle" stroke-width="0.06">488 nm</text>
<text x="183.90" y="18.70" font-size="5.5" text-anchor="middle" stroke-width="0.06">Merge</text>
<rect x="101.90" y="21.40" width="22.00" height="22.40" fill="#000"/>
<circle cx="113.10" cy="32.70" r="8.60" fill="#6cc480"/>
<g clip-path="url(#cc00)"><circle cx="110.45" cy="36.25" r="0.68" fill="#a0d060" opacity="0.75"/><circle cx="118.90" cy="30.40" r="0.68" fill="#a0d060" opacity="0.75"/><circle cx="109.71" cy="33.52" r="1.24" fill="#58b8b8" opacity="0.75"/><circle cx="115.60" cy="26.32" r="0.88" fill="#d0a040" opacity="0.75"/><circle cx="111.68" cy="25.07" r="0.62" fill="#a0d060" opacity="0.75"/><circle cx="108.53" cy="33.63" r="0.94" fill="#80d070" opacity="0.75"/><circle cx="114.20" cy="26.91" r="1.13" fill="#80d070" opacity="0.75"/><circle cx="112.52" cy="37.94" r="0.70" fill="#a0d060" opacity="0.75"/><circle cx="110.52" cy="27.32" r="1.14" fill="#4aa0c8" opacity="0.75"/><circle cx="108.73" cy="38.12" r="0.76" fill="#a0d060" opacity="0.75"/><circle cx="106.92" cy="35.68" r="1.03" fill="#4aa0c8" opacity="0.75"/><circle cx="115.82" cy="36.58" r="0.81" fill="#58b8b8" opacity="0.75"/><circle cx="116.95" cy="25.48" r="1.13" fill="#80d070" opacity="0.75"/><circle cx="108.14" cy="31.73" r="0.97" fill="#58b8b8" opacity="0.75"/><circle cx="113.68" cy="34.93" r="0.73" fill="#d0a040" opacity="0.75"/><circle cx="115.71" cy="34.63" r="0.69" fill="#a0d060" opacity="0.75"/><circle cx="113.10" cy="32.70" r="8.25" fill="none" stroke="#8cb860" stroke-width="0.9" opacity="0.8"/><circle cx="108.49" cy="39.36" r="0.56" fill="#c04030"/><circle cx="115.20" cy="24.88" r="0.57" fill="#e0b040"/><circle cx="106.81" cy="27.60" r="0.81" fill="#e0b040"/><circle cx="119.70" cy="28.01" r="0.72" fill="#e0b040"/><circle cx="117.39" cy="25.83" r="0.58" fill="#e0b040"/><circle cx="114.96" cy="40.58" r="0.53" fill="#c04030"/><circle cx="109.25" cy="25.57" r="0.55" fill="#e07030"/><circle cx="112.36" cy="40.77" r="0.59" fill="#e07030"/><circle cx="105.11" cy="34.06" r="0.72" fill="#c04030"/></g>
<rect x="125.70" y="21.40" width="22.00" height="22.40" fill="#000"/>
<circle cx="136.90" cy="32.70" r="8.60" fill="#2446b8"/>
<g clip-path="url(#cc01)"><circle cx="133.70" cy="33.37" r="0.89" fill="#2c52c8" opacity="0.75"/><circle cx="140.30" cy="38.42" r="1.09" fill="#1a3aa8" opacity="0.75"/><circle cx="140.08" cy="27.75" r="0.95" fill="#1c3698" opacity="0.75"/><circle cx="135.20" cy="38.32" r="0.84" fill="#1c3698" opacity="0.75"/><circle cx="143.01" cy="35.83" r="1.01" fill="#1a3aa8" opacity="0.75"/><circle cx="138.73" cy="32.94" r="1.09" fill="#2c52c8" opacity="0.75"/><circle cx="137.85" cy="30.24" r="0.89" fill="#1a3aa8" opacity="0.75"/><circle cx="144.02" cy="34.24" r="1.00" fill="#2c52c8" opacity="0.75"/><circle cx="142.69" cy="36.60" r="0.77" fill="#1c3698" opacity="0.75"/><circle cx="129.16" cy="29.96" r="0.73" fill="#2c52c8" opacity="0.75"/><circle cx="131.24" cy="35.70" r="1.16" fill="#2c52c8" opacity="0.75"/><circle cx="133.19" cy="37.47" r="0.77" fill="#2c52c8" opacity="0.75"/><circle cx="140.42" cy="29.08" r="0.66" fill="#2c52c8" opacity="0.75"/><circle cx="138.19" cy="27.92" r="0.75" fill="#2c52c8" opacity="0.75"/><circle cx="142.80" cy="38.79" r="0.57" fill="#1a3aa8" opacity="0.75"/><circle cx="131.75" cy="36.50" r="0.82" fill="#1c3698" opacity="0.75"/><circle cx="141.39" cy="34.15" r="0.50" fill="#1a3aa8" opacity="0.75"/><circle cx="139.49" cy="27.37" r="1.11" fill="#1a3aa8" opacity="0.75"/><circle cx="138.89" cy="24.74" r="0.99" fill="#1c3698" opacity="0.75"/><circle cx="141.15" cy="38.33" r="1.05" fill="#1c3698" opacity="0.75"/><circle cx="138.38" cy="33.55" r="1.01" fill="#1c3698" opacity="0.75"/><circle cx="137.12" cy="29.97" r="0.65" fill="#1a3aa8" opacity="0.75"/><circle cx="134.50" cy="33.99" r="1.24" fill="#1a3aa8" opacity="0.75"/><circle cx="131.60" cy="38.42" r="1.13" fill="#1c3698" opacity="0.75"/><circle cx="134.92" cy="24.96" r="0.65" fill="#1a3aa8" opacity="0.75"/><circle cx="134.55" cy="37.83" r="1.01" fill="#1a3aa8" opacity="0.75"/><circle cx="136.90" cy="32.70" r="8.25" fill="none" stroke="#1a36a0" stroke-width="0.9" opacity="0.8"/></g>
<rect x="149.30" y="21.40" width="22.00" height="22.40" fill="#000"/>
<circle cx="160.50" cy="32.70" r="8.60" fill="#5abd34"/>
<g clip-path="url(#cc02)"><circle cx="154.29" cy="32.79" r="1.16" fill="#6cc840" opacity="0.75"/><circle cx="153.16" cy="28.94" r="0.86" fill="#3a9a2c" opacity="0.75"/><circle cx="157.68" cy="26.70" r="1.29" fill="#2f8a30" opacity="0.75"/><circle cx="166.39" cy="31.99" r="0.83" fill="#3a9a2c" opacity="0.75"/><circle cx="165.63" cy="35.64" r="1.22" fill="#2f8a30" opacity="0.75"/><circle cx="161.09" cy="32.76" r="1.05" fill="#3a9a2c" opacity="0.75"/><circle cx="168.44" cy="32.03" r="0.67" fill="#3a9a2c" opacity="0.75"/><circle cx="161.29" cy="33.53" r="1.08" fill="#3a9a2c" opacity="0.75"/><circle cx="153.43" cy="34.96" r="1.24" fill="#6cc840" opacity="0.75"/><circle cx="161.59" cy="25.52" r="1.18" fill="#2f8a30" opacity="0.75"/><circle cx="160.77" cy="28.05" r="0.95" fill="#6cc840" opacity="0.75"/><circle cx="152.45" cy="34.74" r="0.70" fill="#3a9a2c" opacity="0.75"/><circle cx="160.31" cy="31.80" r="0.51" fill="#2f8a30" opacity="0.75"/><circle cx="157.88" cy="26.47" r="0.81" fill="#6cc840" opacity="0.75"/><circle cx="160.05" cy="29.23" r="1.19" fill="#6cc840" opacity="0.75"/><circle cx="156.75" cy="29.64" r="1.26" fill="#2f8a30" opacity="0.75"/><circle cx="153.94" cy="35.36" r="0.62" fill="#3a9a2c" opacity="0.75"/><circle cx="155.99" cy="37.93" r="1.00" fill="#6cc840" opacity="0.75"/><circle cx="152.99" cy="33.79" r="0.86" fill="#6cc840" opacity="0.75"/><circle cx="161.90" cy="26.38" r="0.73" fill="#3a9a2c" opacity="0.75"/><circle cx="155.50" cy="27.89" r="1.14" fill="#2f8a30" opacity="0.75"/><circle cx="157.20" cy="38.52" r="1.28" fill="#3a9a2c" opacity="0.75"/><circle cx="156.66" cy="29.86" r="0.84" fill="#3a9a2c" opacity="0.75"/><circle cx="155.41" cy="37.68" r="0.98" fill="#3a9a2c" opacity="0.75"/><circle cx="162.12" cy="28.42" r="0.50" fill="#6cc840" opacity="0.75"/><circle cx="160.11" cy="36.09" r="1.24" fill="#3a9a2c" opacity="0.75"/><circle cx="160.50" cy="32.70" r="8.25" fill="none" stroke="#48a82c" stroke-width="0.9" opacity="0.8"/></g>
<rect x="172.90" y="21.40" width="22.00" height="22.40" fill="#8a8a8a"/>
<circle cx="184.10" cy="32.70" r="9.50" fill="#b4b4b8"/>
<circle cx="184.10" cy="32.70" r="8.60" fill="#98dcee"/>
<g clip-path="url(#cc03)"><circle cx="183.33" cy="35.83" r="1.21" fill="#70c4e4" opacity="0.75"/><circle cx="182.92" cy="40.55" r="1.15" fill="#5aa0d8" opacity="0.75"/><circle cx="182.67" cy="34.76" r="0.94" fill="#5aa0d8" opacity="0.75"/><circle cx="186.38" cy="39.79" r="1.25" fill="#70c4e4" opacity="0.75"/><circle cx="183.35" cy="34.62" r="0.82" fill="#70c4e4" opacity="0.75"/><circle cx="189.99" cy="29.75" r="0.51" fill="#5aa0d8" opacity="0.75"/><circle cx="181.63" cy="33.34" r="1.15" fill="#b8ecf6" opacity="0.75"/><circle cx="184.80" cy="39.21" r="1.22" fill="#d8f4fa" opacity="0.75"/><circle cx="177.57" cy="33.67" r="0.65" fill="#70c4e4" opacity="0.75"/><circle cx="190.56" cy="36.93" r="0.73" fill="#d8f4fa" opacity="0.75"/><circle cx="179.04" cy="36.26" r="0.62" fill="#b8ecf6" opacity="0.75"/><circle cx="189.44" cy="29.88" r="1.19" fill="#d8f4fa" opacity="0.75"/><circle cx="178.97" cy="27.05" r="0.62" fill="#b8ecf6" opacity="0.75"/><circle cx="180.62" cy="37.83" r="0.52" fill="#b8ecf6" opacity="0.75"/><circle cx="186.36" cy="40.40" r="0.95" fill="#70c4e4" opacity="0.75"/><circle cx="183.55" cy="40.27" r="0.84" fill="#5aa0d8" opacity="0.75"/><circle cx="184.94" cy="24.96" r="1.27" fill="#d8f4fa" opacity="0.75"/><circle cx="186.88" cy="28.54" r="1.30" fill="#5aa0d8" opacity="0.75"/><circle cx="185.78" cy="33.67" r="0.95" fill="#5aa0d8" opacity="0.75"/><circle cx="176.22" cy="33.35" r="1.22" fill="#5aa0d8" opacity="0.75"/><circle cx="190.48" cy="29.30" r="0.57" fill="#d8f4fa" opacity="0.75"/><circle cx="177.77" cy="29.99" r="1.27" fill="#5aa0d8" opacity="0.75"/><circle cx="187.35" cy="39.93" r="0.80" fill="#70c4e4" opacity="0.75"/><circle cx="188.14" cy="32.49" r="0.53" fill="#d8f4fa" opacity="0.75"/><circle cx="186.05" cy="31.94" r="0.94" fill="#b8ecf6" opacity="0.75"/><circle cx="185.07" cy="31.11" r="1.13" fill="#5aa0d8" opacity="0.75"/><circle cx="184.10" cy="32.70" r="8.25" fill="none" stroke="#5890c8" stroke-width="0.9" opacity="0.8"/></g>
<path d="M188.90,22.60 l4.5,0 l0,1.2" fill="none" stroke="#d8d8d8" stroke-width="0.8"/>
<rect x="101.90" y="46.20" width="22.00" height="22.40" fill="#000"/>
<circle cx="113.10" cy="56.80" r="8.50" fill="#50b0b8"/>
<g clip-path="url(#cc10)"><circle cx="116.14" cy="57.91" r="1.10" fill="#60c060" opacity="0.75"/><circle cx="111.04" cy="52.64" r="0.97" fill="#80d060" opacity="0.75"/><circle cx="116.91" cy="59.78" r="0.71" fill="#2a58c0" opacity="0.75"/><circle cx="109.40" cy="60.50" r="0.85" fill="#60c060" opacity="0.75"/><circle cx="119.99" cy="52.68" r="0.87" fill="#60c060" opacity="0.75"/><circle cx="114.12" cy="53.59" r="1.17" fill="#2a58c0" opacity="0.75"/><circle cx="120.34" cy="53.61" r="1.21" fill="#60c060" opacity="0.75"/><circle cx="114.57" cy="48.61" r="1.24" fill="#40a0e0" opacity="0.75"/><circle cx="116.79" cy="51.16" r="0.86" fill="#c0c840" opacity="0.75"/><circle cx="111.29" cy="60.49" r="0.59" fill="#c0c840" opacity="0.75"/><circle cx="115.60" cy="59.93" r="0.55" fill="#80d060" opacity="0.75"/><circle cx="105.46" cy="59.21" r="0.85" fill="#60c060" opacity="0.75"/><circle cx="112.54" cy="62.23" r="0.62" fill="#c0c840" opacity="0.75"/><circle cx="108.92" cy="54.80" r="1.14" fill="#c0c840" opacity="0.75"/><circle cx="108.31" cy="57.07" r="1.22" fill="#2a58c0" opacity="0.75"/><circle cx="116.57" cy="61.80" r="1.00" fill="#80d060" opacity="0.75"/><circle cx="118.77" cy="53.92" r="1.17" fill="#2a58c0" opacity="0.75"/><circle cx="112.91" cy="60.61" r="0.79" fill="#c0c840" opacity="0.75"/><circle cx="121.27" cy="56.70" r="0.58" fill="#c0c840" opacity="0.75"/><circle cx="110.15" cy="58.53" r="1.17" fill="#c0c840" opacity="0.75"/><circle cx="117.29" cy="62.16" r="0.85" fill="#3878d0" opacity="0.75"/><circle cx="111.38" cy="59.48" r="0.50" fill="#3878d0" opacity="0.75"/><circle cx="111.94" cy="61.77" r="0.53" fill="#40a0e0" opacity="0.75"/><circle cx="114.37" cy="63.10" r="0.61" fill="#60c060" opacity="0.75"/><circle cx="109.06" cy="56.25" r="0.64" fill="#3878d0" opacity="0.75"/><circle cx="115.31" cy="58.00" r="0.99" fill="#40a0e0" opacity="0.75"/><circle cx="113.35" cy="53.25" r="0.61" fill="#80d060" opacity="0.75"/><circle cx="111.09" cy="49.41" r="0.97" fill="#60c060" opacity="0.75"/><circle cx="120.16" cy="57.25" r="0.92" fill="#80d060" opacity="0.75"/><circle cx="118.39" cy="53.73" r="0.78" fill="#c0c840" opacity="0.75"/><circle cx="117.41" cy="50.18" r="0.89" fill="#2a58c0" opacity="0.75"/><circle cx="106.84" cy="60.80" r="0.61" fill="#80d060" opacity="0.75"/><circle cx="112.73" cy="60.45" r="1.17" fill="#c0c840" opacity="0.75"/><circle cx="120.03" cy="58.43" r="0.96" fill="#2a58c0" opacity="0.75"/><circle cx="108.02" cy="63.25" r="1.27" fill="#2a58c0" opacity="0.75"/><circle cx="118.31" cy="61.74" r="1.15" fill="#c0c840" opacity="0.75"/><circle cx="114.54" cy="49.01" r="0.96" fill="#2a58c0" opacity="0.75"/><circle cx="112.38" cy="59.49" r="1.08" fill="#40a0e0" opacity="0.75"/><circle cx="113.10" cy="56.80" r="8.15" fill="none" stroke="#7a4a80" stroke-width="0.9" opacity="0.8"/><circle cx="105.13" cy="56.13" r="0.71" fill="#b02828"/><circle cx="118.41" cy="62.78" r="0.60" fill="#d04030"/><circle cx="114.42" cy="64.69" r="0.57" fill="#d04030"/><circle cx="110.07" cy="64.20" r="0.72" fill="#d04030"/><circle cx="121.04" cy="57.78" r="0.87" fill="#b02828"/><circle cx="115.81" cy="64.33" r="0.51" fill="#b02828"/><circle cx="107.88" cy="50.74" r="0.69" fill="#d04030"/><circle cx="110.75" cy="49.15" r="0.54" fill="#d04030"/><circle cx="111.46" cy="48.97" r="0.52" fill="#d04030"/></g>
<rect x="125.70" y="46.20" width="22.00" height="22.40" fill="#000"/>
<circle cx="136.90" cy="56.80" r="8.50" fill="#1c3aa8"/>
<g clip-path="url(#cc11)"><circle cx="130.55" cy="58.23" r="1.11" fill="#12289a" opacity="0.75"/><circle cx="140.80" cy="60.56" r="0.61" fill="#1a34a0" opacity="0.75"/><circle cx="137.47" cy="60.81" r="1.04" fill="#2848c0" opacity="0.75"/><circle cx="136.83" cy="53.36" r="1.16" fill="#1a34a0" opacity="0.75"/><circle cx="132.68" cy="60.35" r="1.17" fill="#1a34a0" opacity="0.75"/><circle cx="145.06" cy="58.69" r="0.54" fill="#2848c0" opacity="0.75"/><circle cx="134.70" cy="60.34" r="0.77" fill="#2848c0" opacity="0.75"/><circle cx="140.42" cy="51.47" r="1.29" fill="#2848c0" opacity="0.75"/><circle cx="140.01" cy="49.62" r="0.54" fill="#1a34a0" opacity="0.75"/><circle cx="141.14" cy="62.38" r="0.78" fill="#2848c0" opacity="0.75"/><circle cx="136.43" cy="56.02" r="0.59" fill="#12289a" opacity="0.75"/><circle cx="141.97" cy="59.16" r="0.90" fill="#12289a" opacity="0.75"/><circle cx="137.75" cy="62.25" r="0.82" fill="#2848c0" opacity="0.75"/><circle cx="131.78" cy="51.12" r="1.21" fill="#12289a" opacity="0.75"/><circle cx="143.55" cy="58.26" r="0.71" fill="#1a34a0" opacity="0.75"/><circle cx="132.09" cy="52.08" r="1.15" fill="#12289a" opacity="0.75"/><circle cx="133.82" cy="53.86" r="0.92" fill="#2848c0" opacity="0.75"/><circle cx="137.04" cy="58.48" r="0.59" fill="#2848c0" opacity="0.75"/><circle cx="135.13" cy="54.44" r="0.98" fill="#1a34a0" opacity="0.75"/><circle cx="138.91" cy="55.37" r="0.97" fill="#12289a" opacity="0.75"/><circle cx="131.25" cy="59.04" r="1.21" fill="#2848c0" opacity="0.75"/><circle cx="132.97" cy="54.72" r="1.09" fill="#1a34a0" opacity="0.75"/><circle cx="129.44" cy="54.57" r="0.99" fill="#1a34a0" opacity="0.75"/><circle cx="137.84" cy="62.00" r="0.94" fill="#2848c0" opacity="0.75"/><circle cx="130.80" cy="58.33" r="0.99" fill="#2848c0" opacity="0.75"/><circle cx="137.53" cy="55.44" r="0.77" fill="#12289a" opacity="0.75"/><circle cx="136.90" cy="56.80" r="8.15" fill="none" stroke="#142c88" stroke-width="0.9" opacity="0.8"/></g>
<rect x="149.30" y="46.20" width="22.00" height="22.40" fill="#000"/>
<circle cx="160.50" cy="56.80" r="8.50" fill="#66c034"/>
<g clip-path="url(#cc12)"><circle cx="155.25" cy="56.39" r="0.97" fill="#3a9a30" opacity="0.75"/><circle cx="163.54" cy="55.23" r="1.26" fill="#80d040" opacity="0.75"/><circle cx="154.91" cy="54.72" r="0.73" fill="#3a9a30" opacity="0.75"/><circle cx="158.39" cy="63.97" r="0.63" fill="#3a9a30" opacity="0.75"/><circle cx="156.56" cy="53.70" r="1.03" fill="#2f8a30" opacity="0.75"/><circle cx="156.20" cy="60.45" r="1.09" fill="#3a9a30" opacity="0.75"/><circle cx="152.12" cy="55.69" r="1.04" fill="#3a9a30" opacity="0.75"/><circle cx="154.48" cy="60.27" r="0.61" fill="#3a9a30" opacity="0.75"/><circle cx="154.66" cy="51.57" r="1.16" fill="#2f8a30" opacity="0.75"/><circle cx="167.00" cy="61.22" r="1.24" fill="#80d040" opacity="0.75"/><circle cx="159.71" cy="63.50" r="1.01" fill="#2f8a30" opacity="0.75"/><circle cx="166.03" cy="62.49" r="0.50" fill="#2f8a30" opacity="0.75"/><circle cx="155.35" cy="53.72" r="1.27" fill="#2f8a30" opacity="0.75"/><circle cx="165.12" cy="63.13" r="0.72" fill="#2f8a30" opacity="0.75"/><circle cx="156.41" cy="53.53" r="0.86" fill="#80d040" opacity="0.75"/><circle cx="159.30" cy="61.70" r="0.78" fill="#2f8a30" opacity="0.75"/><circle cx="155.54" cy="55.00" r="0.76" fill="#2f8a30" opacity="0.75"/><circle cx="164.02" cy="51.93" r="0.86" fill="#3a9a30" opacity="0.75"/><circle cx="153.09" cy="55.05" r="0.85" fill="#80d040" opacity="0.75"/><circle cx="158.30" cy="55.56" r="1.24" fill="#80d040" opacity="0.75"/><circle cx="167.00" cy="55.52" r="0.69" fill="#80d040" opacity="0.75"/><circle cx="162.07" cy="62.12" r="1.23" fill="#3a9a30" opacity="0.75"/><circle cx="164.75" cy="57.49" r="1.22" fill="#80d040" opacity="0.75"/><circle cx="167.06" cy="53.21" r="0.93" fill="#80d040" opacity="0.75"/><circle cx="154.42" cy="56.13" r="1.05" fill="#80d040" opacity="0.75"/><circle cx="158.83" cy="57.18" r="1.04" fill="#80d040" opacity="0.75"/><circle cx="160.50" cy="56.80" r="8.15" fill="none" stroke="#50a830" stroke-width="0.9" opacity="0.8"/></g>
<rect x="172.90" y="46.20" width="22.00" height="22.40" fill="#6e6e6e"/>
<circle cx="184.10" cy="56.80" r="9.40" fill="#a0a0a4"/>
<circle cx="184.10" cy="56.80" r="8.50" fill="#7ccccc"/>
<g clip-path="url(#cc13)"><circle cx="190.72" cy="54.55" r="0.92" fill="#5aa8d8" opacity="0.75"/><circle cx="179.03" cy="60.04" r="1.02" fill="#98dcd4" opacity="0.75"/><circle cx="190.18" cy="51.08" r="0.89" fill="#b0e6ec" opacity="0.75"/><circle cx="184.98" cy="48.79" r="0.97" fill="#5aa8d8" opacity="0.75"/><circle cx="186.39" cy="61.01" r="1.28" fill="#68c098" opacity="0.75"/><circle cx="181.28" cy="56.58" r="1.22" fill="#68c098" opacity="0.75"/><circle cx="187.73" cy="49.16" r="1.21" fill="#b0e6ec" opacity="0.75"/><circle cx="179.92" cy="52.29" r="1.15" fill="#98dcd4" opacity="0.75"/><circle cx="180.42" cy="56.69" r="0.65" fill="#5aa8d8" opacity="0.75"/><circle cx="178.98" cy="63.55" r="1.01" fill="#5aa8d8" opacity="0.75"/><circle cx="183.78" cy="55.98" r="0.50" fill="#5aa8d8" opacity="0.75"/><circle cx="188.75" cy="54.13" r="0.58" fill="#5aa8d8" opacity="0.75"/><circle cx="182.24" cy="53.52" r="0.90" fill="#68c098" opacity="0.75"/><circle cx="189.65" cy="50.98" r="0.91" fill="#98dcd4" opacity="0.75"/><circle cx="179.24" cy="54.34" r="0.60" fill="#98dcd4" opacity="0.75"/><circle cx="178.07" cy="56.10" r="0.52" fill="#5aa8d8" opacity="0.75"/><circle cx="187.04" cy="62.19" r="1.16" fill="#b0e6ec" opacity="0.75"/><circle cx="184.84" cy="54.81" r="0.51" fill="#68c098" opacity="0.75"/><circle cx="186.67" cy="60.06" r="0.72" fill="#5aa8d8" opacity="0.75"/><circle cx="183.82" cy="59.47" r="1.22" fill="#5aa8d8" opacity="0.75"/><circle cx="180.78" cy="61.44" r="0.81" fill="#5aa8d8" opacity="0.75"/><circle cx="185.10" cy="62.05" r="1.11" fill="#5aa8d8" opacity="0.75"/><circle cx="177.88" cy="59.28" r="0.70" fill="#5aa8d8" opacity="0.75"/><circle cx="187.61" cy="62.29" r="0.64" fill="#5aa8d8" opacity="0.75"/><circle cx="190.28" cy="52.24" r="0.74" fill="#68c098" opacity="0.75"/><circle cx="189.90" cy="55.31" r="1.26" fill="#98dcd4" opacity="0.75"/><circle cx="184.10" cy="56.80" r="8.15" fill="none" stroke="#40b060" stroke-width="0.9" opacity="0.8"/></g>
<rect x="176.20" y="65.20" width="15.60" height="1.50" fill="#d82838"/>
<rect x="144.40" y="81.20" width="48.60" height="2.40" fill="url(#cbar)"/>
<text x="143.50" y="78.00" font-size="5.5" textLength="49.5" lengthAdjust="spacingAndGlyphs" stroke-width="0.06">Ratio F405/F488 nm</text>
<text transform="translate(143.00,86.60) rotate(90)" font-size="6.2" textLength="7.6" lengthAdjust="spacingAndGlyphs" stroke-width="0.14">0.0</text>
<text transform="translate(152.47,86.60) rotate(90)" font-size="6.2" textLength="7.6" lengthAdjust="spacingAndGlyphs" stroke-width="0.14">0.4</text>
<text transform="translate(161.94,86.60) rotate(90)" font-size="6.2" textLength="7.6" lengthAdjust="spacingAndGlyphs" stroke-width="0.14">0.8</text>
<text transform="translate(171.41,86.60) rotate(90)" font-size="6.2" textLength="7.6" lengthAdjust="spacingAndGlyphs" stroke-width="0.14">1.2</text>
<text transform="translate(180.88,86.60) rotate(90)" font-size="6.2" textLength="7.6" lengthAdjust="spacingAndGlyphs" stroke-width="0.14">1.6</text>
<text transform="translate(190.35,86.60) rotate(90)" font-size="6.2" textLength="7.6" lengthAdjust="spacingAndGlyphs" stroke-width="0.14">2.0</text>
<text x="210.39" y="16.50" font-size="11.3" font-weight="bold" fill="#000" stroke-width="0.35">B</text>
<line x1="250.20" y1="74.05" x2="250.20" y2="16.70" stroke="#111" stroke-width="1.05"/>
<line x1="247.40" y1="73.60" x2="250.20" y2="73.60" stroke="#111" stroke-width="0.9450000000000001"/>
<text x="244.10" y="75.98" font-size="6.6" text-anchor="end" stroke-width="0.14">0.0</text>
<line x1="247.40" y1="62.64" x2="250.20" y2="62.64" stroke="#111" stroke-width="0.9450000000000001"/>
<text x="244.10" y="65.02" font-size="6.6" text-anchor="end" stroke-width="0.14">0.5</text>
<line x1="247.40" y1="51.68" x2="250.20" y2="51.68" stroke="#111" stroke-width="0.9450000000000001"/>
<text x="244.10" y="54.06" font-size="6.6" text-anchor="end" stroke-width="0.14">1.0</text>
<line x1="247.40" y1="40.72" x2="250.20" y2="40.72" stroke="#111" stroke-width="0.9450000000000001"/>
<text x="244.10" y="43.10" font-size="6.6" text-anchor="end" stroke-width="0.14">1.5</text>
<line x1="247.40" y1="29.76" x2="250.20" y2="29.76" stroke="#111" stroke-width="0.9450000000000001"/>
<text x="244.10" y="32.14" font-size="6.6" text-anchor="end" stroke-width="0.14">2.0</text>
<line x1="247.40" y1="18.80" x2="250.20" y2="18.80" stroke="#111" stroke-width="0.9450000000000001"/>
<text x="244.10" y="21.18" font-size="6.6" text-anchor="end" stroke-width="0.14">2.5</text>
<line x1="249.75" y1="73.60" x2="316.80" y2="73.60" stroke="#111" stroke-width="1.05"/>
<line x1="269.20" y1="73.60" x2="269.20" y2="76.20" stroke="#111" stroke-width="0.9450000000000001"/>
<line x1="297.90" y1="73.60" x2="297.90" y2="76.20" stroke="#111" stroke-width="0.9450000000000001"/>
<text transform="translate(218.30,44.50) rotate(-90)" font-size="7.8" text-anchor="middle" textLength="14.8" lengthAdjust="spacingAndGlyphs" stroke-width="0.1">Ratio</text>
<text transform="translate(229.60,44.10) rotate(-90)" font-size="7.2" text-anchor="middle" textLength="49.8" lengthAdjust="spacingAndGlyphs" stroke-width="0.1">(F405/F488 nm)</text>
<g fill="#c8385a"><circle cx="269.20" cy="39.98" r="0.8"/><circle cx="269.20" cy="26.94" r="0.8"/><circle cx="269.20" cy="33.27" r="0.8"/><circle cx="269.20" cy="31.26" r="0.8"/><circle cx="269.20" cy="38.32" r="0.8"/><circle cx="270.60" cy="34.30" r="0.8"/><circle cx="270.95" cy="32.68" r="0.8"/><circle cx="269.20" cy="29.03" r="0.8"/><circle cx="270.95" cy="39.84" r="0.8"/><circle cx="267.80" cy="34.23" r="0.8"/><circle cx="269.20" cy="36.56" r="0.8"/><circle cx="270.95" cy="27.16" r="0.8"/><circle cx="272.35" cy="33.51" r="0.8"/><circle cx="269.90" cy="41.44" r="0.8"/><circle cx="270.95" cy="29.14" r="0.8"/><circle cx="269.20" cy="42.91" r="0.8"/><circle cx="267.80" cy="41.07" r="0.8"/><circle cx="266.05" cy="40.34" r="0.8"/><circle cx="269.20" cy="23.84" r="0.8"/><circle cx="270.25" cy="25.17" r="0.8"/><circle cx="267.80" cy="30.48" r="0.8"/><circle cx="270.60" cy="43.69" r="0.8"/><circle cx="266.75" cy="29.25" r="0.8"/><circle cx="266.05" cy="34.02" r="0.8"/><circle cx="266.40" cy="31.57" r="0.8"/><circle cx="267.45" cy="38.72" r="0.8"/><circle cx="270.95" cy="36.52" r="0.8"/><circle cx="272.70" cy="29.82" r="0.8"/><circle cx="272.35" cy="40.78" r="0.8"/><circle cx="274.10" cy="40.46" r="0.8"/><circle cx="267.80" cy="24.97" r="0.8"/><circle cx="267.80" cy="43.94" r="0.8"/><circle cx="271.30" cy="30.73" r="0.8"/><circle cx="272.00" cy="24.87" r="0.8"/><circle cx="274.10" cy="33.65" r="0.8"/><circle cx="265.00" cy="29.37" r="0.8"/><circle cx="264.65" cy="34.84" r="0.8"/><circle cx="272.70" cy="39.11" r="0.8"/><circle cx="272.70" cy="31.75" r="0.8"/><circle cx="267.45" cy="35.88" r="0.8"/><circle cx="264.65" cy="31.50" r="0.8"/><circle cx="263.60" cy="33.60" r="0.8"/><circle cx="275.50" cy="34.56" r="0.8"/><circle cx="275.50" cy="32.71" r="0.8"/><circle cx="261.85" cy="32.83" r="0.8"/><circle cx="274.45" cy="29.92" r="0.8"/><circle cx="266.05" cy="24.94" r="0.8"/><circle cx="266.40" cy="37.26" r="0.8"/><circle cx="266.40" cy="42.16" r="0.8"/><circle cx="272.35" cy="35.67" r="0.8"/><circle cx="264.65" cy="41.95" r="0.8"/><circle cx="270.95" cy="38.24" r="0.8"/><circle cx="270.95" cy="23.18" r="0.8"/><circle cx="267.45" cy="26.59" r="0.8"/><circle cx="277.25" cy="34.11" r="0.8"/><circle cx="260.45" cy="33.87" r="0.8"/><circle cx="267.80" cy="32.46" r="0.8"/><circle cx="265.00" cy="38.44" r="0.8"/><circle cx="279.00" cy="33.75" r="0.8"/><circle cx="273.40" cy="25.93" r="0.8"/><circle cx="265.70" cy="27.28" r="0.8"/><circle cx="277.25" cy="32.15" r="0.8"/><circle cx="260.45" cy="31.72" r="0.8"/><circle cx="274.10" cy="38.28" r="0.8"/><circle cx="263.95" cy="37.15" r="0.8"/><circle cx="259.05" cy="32.78" r="0.8"/><circle cx="263.25" cy="41.02" r="0.8"/><circle cx="262.90" cy="38.55" r="0.8"/><circle cx="275.15" cy="36.85" r="0.8"/><circle cx="263.25" cy="28.69" r="0.8"/><circle cx="272.35" cy="43.13" r="0.8"/><circle cx="272.35" cy="27.95" r="0.8"/><circle cx="262.90" cy="30.99" r="0.8"/><circle cx="272.35" cy="37.44" r="0.8"/><circle cx="275.85" cy="38.39" r="0.8"/><circle cx="261.85" cy="37.19" r="0.8"/><circle cx="263.25" cy="35.66" r="0.8"/><circle cx="262.43" cy="32.83" r="0.8"/><circle cx="266.08" cy="32.68" r="0.8"/><circle cx="260.89" cy="32.23" r="0.8"/><circle cx="275.85" cy="40.97" r="0.8"/><circle cx="271.98" cy="32.84" r="0.8"/><circle cx="279.00" cy="31.51" r="0.8"/><circle cx="261.80" cy="33.16" r="0.8"/><circle cx="273.00" cy="31.57" r="0.8"/><circle cx="277.25" cy="37.57" r="0.8"/><circle cx="261.50" cy="35.16" r="0.8"/><circle cx="261.50" cy="40.49" r="0.8"/><circle cx="274.10" cy="43.35" r="0.8"/><circle cx="264.30" cy="25.41" r="0.8"/><circle cx="276.20" cy="29.74" r="0.8"/><circle cx="276.90" cy="39.63" r="0.8"/><circle cx="259.05" cy="30.91" r="0.8"/><circle cx="268.92" cy="32.25" r="0.8"/><circle cx="261.85" cy="29.56" r="0.8"/></g>
<g fill="#4a70a8"><circle cx="297.90" cy="56.75" r="0.8"/><circle cx="297.90" cy="61.07" r="0.8"/><circle cx="299.65" cy="61.01" r="0.8"/><circle cx="296.15" cy="60.88" r="0.8"/><circle cx="297.90" cy="59.34" r="0.8"/><circle cx="301.05" cy="59.89" r="0.8"/><circle cx="299.65" cy="56.03" r="0.8"/><circle cx="296.50" cy="55.75" r="0.8"/><circle cx="297.90" cy="54.24" r="0.8"/><circle cx="294.40" cy="61.21" r="0.8"/><circle cx="297.90" cy="63.23" r="0.8"/><circle cx="297.90" cy="65.88" r="0.8"/><circle cx="295.80" cy="59.31" r="0.8"/><circle cx="301.40" cy="61.59" r="0.8"/><circle cx="295.10" cy="56.78" r="0.8"/><circle cx="302.80" cy="60.15" r="0.8"/><circle cx="300.70" cy="57.29" r="0.8"/><circle cx="299.65" cy="58.96" r="0.8"/><circle cx="302.45" cy="57.08" r="0.8"/><circle cx="299.30" cy="64.14" r="0.8"/><circle cx="296.15" cy="63.48" r="0.8"/><circle cx="297.90" cy="52.12" r="0.8"/><circle cx="293.35" cy="56.96" r="0.8"/><circle cx="292.65" cy="60.98" r="0.8"/><circle cx="304.20" cy="56.66" r="0.8"/><circle cx="300.35" cy="62.83" r="0.8"/><circle cx="300.70" cy="54.75" r="0.8"/><circle cx="304.55" cy="60.46" r="0.8"/><circle cx="290.90" cy="61.00" r="0.8"/><circle cx="294.40" cy="63.29" r="0.8"/><circle cx="303.15" cy="62.11" r="0.8"/><circle cx="292.65" cy="62.91" r="0.8"/><circle cx="306.30" cy="60.80" r="0.8"/><circle cx="289.15" cy="61.08" r="0.8"/><circle cx="308.05" cy="61.54" r="0.8"/><circle cx="291.95" cy="55.84" r="0.8"/><circle cx="299.65" cy="52.88" r="0.8"/><circle cx="287.75" cy="61.90" r="0.8"/><circle cx="300.95" cy="61.46" r="0.8"/><circle cx="287.75" cy="60.18" r="0.8"/><circle cx="294.05" cy="58.64" r="0.8"/><circle cx="292.30" cy="59.32" r="0.8"/><circle cx="296.15" cy="52.78" r="0.8"/><circle cx="304.55" cy="63.28" r="0.8"/><circle cx="303.15" cy="58.56" r="0.8"/><circle cx="301.40" cy="52.58" r="0.8"/><circle cx="294.40" cy="55.29" r="0.8"/><circle cx="290.55" cy="62.60" r="0.8"/><circle cx="291.60" cy="57.42" r="0.8"/><circle cx="291.53" cy="60.23" r="0.8"/><circle cx="305.60" cy="55.82" r="0.8"/><circle cx="305.60" cy="59.08" r="0.8"/><circle cx="294.75" cy="53.71" r="0.8"/><circle cx="290.20" cy="55.82" r="0.8"/><circle cx="290.20" cy="58.56" r="0.8"/><circle cx="307.70" cy="59.73" r="0.8"/><circle cx="307.35" cy="55.60" r="0.8"/><circle cx="301.37" cy="60.26" r="0.8"/><circle cx="302.17" cy="61.32" r="0.8"/><circle cx="299.65" cy="66.12" r="0.8"/><circle cx="292.33" cy="61.84" r="0.8"/><circle cx="297.05" cy="62.30" r="0.8"/><circle cx="298.74" cy="61.76" r="0.8"/><circle cx="301.91" cy="61.56" r="0.8"/><circle cx="302.71" cy="60.47" r="0.8"/><circle cx="302.10" cy="63.50" r="0.8"/><circle cx="306.30" cy="63.10" r="0.8"/><circle cx="307.00" cy="57.90" r="0.8"/><circle cx="288.45" cy="58.11" r="0.8"/><circle cx="298.60" cy="50.58" r="0.8"/><circle cx="306.25" cy="59.84" r="0.8"/><circle cx="299.26" cy="61.24" r="0.8"/><circle cx="305.07" cy="61.39" r="0.8"/><circle cx="301.56" cy="61.47" r="0.8"/><circle cx="304.03" cy="58.68" r="0.8"/><circle cx="302.45" cy="55.19" r="0.8"/><circle cx="296.15" cy="65.56" r="0.8"/><circle cx="290.44" cy="58.95" r="0.8"/><circle cx="293.35" cy="64.67" r="0.8"/><circle cx="297.96" cy="59.84" r="0.8"/><circle cx="298.05" cy="61.19" r="0.8"/><circle cx="304.81" cy="62.91" r="0.8"/><circle cx="293.00" cy="53.87" r="0.8"/><circle cx="297.20" cy="49.49" r="0.8"/><circle cx="307.04" cy="59.95" r="0.8"/><circle cx="300.48" cy="58.66" r="0.8"/><circle cx="307.29" cy="62.23" r="0.8"/><circle cx="301.40" cy="65.51" r="0.8"/><circle cx="288.80" cy="63.22" r="0.8"/><circle cx="303.85" cy="54.31" r="0.8"/><circle cx="288.45" cy="55.41" r="0.8"/><circle cx="298.21" cy="55.73" r="0.8"/><circle cx="297.08" cy="54.96" r="0.8"/><circle cx="301.69" cy="61.36" r="0.8"/><circle cx="298.80" cy="61.60" r="0.8"/></g>
<line x1="260.30" y1="34.30" x2="278.90" y2="34.30" stroke="#000" stroke-width="1.3"/>
<line x1="288.50" y1="60.50" x2="307.20" y2="60.50" stroke="#000" stroke-width="1.3"/>
<line x1="269.20" y1="18.10" x2="298.10" y2="18.10" stroke="#111" stroke-width="1.0"/>
<line x1="269.20" y1="16.20" x2="269.20" y2="20.00" stroke="#111" stroke-width="1.0"/>
<line x1="298.10" y1="16.20" x2="298.10" y2="20.00" stroke="#111" stroke-width="1.0"/>
<circle cx="281.08" cy="15.50" r="0.78" fill="#1a1a1a"/>
<circle cx="283.60" cy="15.50" r="0.78" fill="#1a1a1a"/>
<circle cx="286.12" cy="15.50" r="0.78" fill="#1a1a1a"/>
<text x="269.20" y="83.20" font-size="6.8" text-anchor="middle" stroke-width="0.14">SoNar-</text>
<text x="269.20" y="90.30" font-size="6.8" text-anchor="middle" stroke-width="0.14">high</text>
<text x="297.90" y="83.20" font-size="6.8" text-anchor="middle" stroke-width="0.14">SoNar-</text>
<text x="297.90" y="90.30" font-size="6.8" text-anchor="middle" stroke-width="0.14">low</text>
<text x="333.19" y="16.40" font-size="11.3" font-weight="bold" fill="#000" stroke-width="0.35">C</text>
<polyline points="368.20,58.50 372.76,58.96 377.32,58.50 381.88,58.50 386.44,59.27 391.00,62.78 395.56,64.62 400.12,65.08 404.68,65.23 409.24,65.23 413.80,65.23 418.36,65.23 422.92,65.38 427.48,65.38 432.04,65.38 436.60,65.38" fill="none" stroke="#2c4d8e" stroke-width="0.9"/>
<circle cx="368.20" cy="58.50" r="0.95" fill="#2c4d8e" stroke="#1a1a1a" stroke-width="0.45"/>
<circle cx="372.76" cy="58.96" r="0.95" fill="#2c4d8e" stroke="#1a1a1a" stroke-width="0.45"/>
<circle cx="377.32" cy="58.50" r="0.95" fill="#2c4d8e" stroke="#1a1a1a" stroke-width="0.45"/>
<circle cx="381.88" cy="58.50" r="0.95" fill="#2c4d8e" stroke="#1a1a1a" stroke-width="0.45"/>
<circle cx="386.44" cy="59.27" r="0.95" fill="#2c4d8e" stroke="#1a1a1a" stroke-width="0.45"/>
<circle cx="391.00" cy="62.78" r="0.95" fill="#2c4d8e" stroke="#1a1a1a" stroke-width="0.45"/>
<circle cx="395.56" cy="64.62" r="0.95" fill="#2c4d8e" stroke="#1a1a1a" stroke-width="0.45"/>
<circle cx="400.12" cy="65.08" r="0.95" fill="#2c4d8e" stroke="#1a1a1a" stroke-width="0.45"/>
<circle cx="404.68" cy="65.23" r="0.95" fill="#2c4d8e" stroke="#1a1a1a" stroke-width="0.45"/>
<circle cx="409.24" cy="65.23" r="0.95" fill="#2c4d8e" stroke="#1a1a1a" stroke-width="0.45"/>
<circle cx="413.80" cy="65.23" r="0.95" fill="#2c4d8e" stroke="#1a1a1a" stroke-width="0.45"/>
<circle cx="418.36" cy="65.23" r="0.95" fill="#2c4d8e" stroke="#1a1a1a" stroke-width="0.45"/>
<circle cx="422.92" cy="65.38" r="0.95" fill="#2c4d8e" stroke="#1a1a1a" stroke-width="0.45"/>
<circle cx="427.48" cy="65.38" r="0.95" fill="#2c4d8e" stroke="#1a1a1a" stroke-width="0.45"/>
<circle cx="432.04" cy="65.38" r="0.95" fill="#2c4d8e" stroke="#1a1a1a" stroke-width="0.45"/>
<circle cx="436.60" cy="65.38" r="0.95" fill="#2c4d8e" stroke="#1a1a1a" stroke-width="0.45"/>
<polyline points="368.20,58.50 372.76,58.96 377.32,58.50 381.88,58.19 386.44,57.73 391.00,57.28 395.56,56.97 400.12,56.66 404.68,56.51 409.24,56.20 413.80,56.05 418.36,56.05 422.92,56.20 427.48,56.51 432.04,55.13 436.60,54.67" fill="none" stroke="#e8951e" stroke-width="0.9"/>
<circle cx="368.20" cy="58.50" r="0.95" fill="#e8951e" stroke="#1a1a1a" stroke-width="0.45"/>
<circle cx="372.76" cy="58.96" r="0.95" fill="#e8951e" stroke="#1a1a1a" stroke-width="0.45"/>
<circle cx="377.32" cy="58.50" r="0.95" fill="#e8951e" stroke="#1a1a1a" stroke-width="0.45"/>
<circle cx="381.88" cy="58.19" r="0.95" fill="#e8951e" stroke="#1a1a1a" stroke-width="0.45"/>
<circle cx="386.44" cy="57.73" r="0.95" fill="#e8951e" stroke="#1a1a1a" stroke-width="0.45"/>
<circle cx="391.00" cy="57.28" r="0.95" fill="#e8951e" stroke="#1a1a1a" stroke-width="0.45"/>
<circle cx="395.56" cy="56.97" r="0.95" fill="#e8951e" stroke="#1a1a1a" stroke-width="0.45"/>
<circle cx="400.12" cy="56.66" r="0.95" fill="#e8951e" stroke="#1a1a1a" stroke-width="0.45"/>
<circle cx="404.68" cy="56.51" r="0.95" fill="#e8951e" stroke="#1a1a1a" stroke-width="0.45"/>
<circle cx="409.24" cy="56.20" r="0.95" fill="#e8951e" stroke="#1a1a1a" stroke-width="0.45"/>
<circle cx="413.80" cy="56.05" r="0.95" fill="#e8951e" stroke="#1a1a1a" stroke-width="0.45"/>
<circle cx="418.36" cy="56.05" r="0.95" fill="#e8951e" stroke="#1a1a1a" stroke-width="0.45"/>
<circle cx="422.92" cy="56.20" r="0.95" fill="#e8951e" stroke="#1a1a1a" stroke-width="0.45"/>
<circle cx="427.48" cy="56.51" r="0.95" fill="#e8951e" stroke="#1a1a1a" stroke-width="0.45"/>
<circle cx="432.04" cy="55.13" r="0.95" fill="#e8951e" stroke="#1a1a1a" stroke-width="0.45"/>
<circle cx="436.60" cy="54.67" r="0.95" fill="#e8951e" stroke="#1a1a1a" stroke-width="0.45"/>
<polyline points="368.20,58.50 372.76,58.96 377.32,58.50 381.88,58.19 386.44,57.73 391.00,57.28 395.56,56.97 400.12,56.20 404.68,55.44 409.24,53.91 413.80,52.69 418.36,52.07 422.92,51.61 427.48,51.31 432.04,50.85 436.60,50.08" fill="none" stroke="#5fb043" stroke-width="0.9"/>
<line x1="404.68" y1="55.44" x2="404.68" y2="54.98" stroke="#5fb043" stroke-width="0.6"/>
<line x1="403.78" y1="54.98" x2="405.58" y2="54.98" stroke="#5fb043" stroke-width="0.6"/>
<line x1="409.24" y1="53.91" x2="409.24" y2="53.14" stroke="#5fb043" stroke-width="0.6"/>
<line x1="408.34" y1="53.14" x2="410.14" y2="53.14" stroke="#5fb043" stroke-width="0.6"/>
<line x1="413.80" y1="52.69" x2="413.80" y2="51.77" stroke="#5fb043" stroke-width="0.6"/>
<line x1="412.90" y1="51.77" x2="414.70" y2="51.77" stroke="#5fb043" stroke-width="0.6"/>
<line x1="418.36" y1="52.07" x2="418.36" y2="51.00" stroke="#5fb043" stroke-width="0.6"/>
<line x1="417.46" y1="51.00" x2="419.26" y2="51.00" stroke="#5fb043" stroke-width="0.6"/>
<line x1="422.92" y1="51.61" x2="422.92" y2="50.54" stroke="#5fb043" stroke-width="0.6"/>
<line x1="422.02" y1="50.54" x2="423.82" y2="50.54" stroke="#5fb043" stroke-width="0.6"/>
<line x1="427.48" y1="51.31" x2="427.48" y2="50.24" stroke="#5fb043" stroke-width="0.6"/>
<line x1="426.58" y1="50.24" x2="428.38" y2="50.24" stroke="#5fb043" stroke-width="0.6"/>
<line x1="432.04" y1="50.85" x2="432.04" y2="49.78" stroke="#5fb043" stroke-width="0.6"/>
<line x1="431.14" y1="49.78" x2="432.94" y2="49.78" stroke="#5fb043" stroke-width="0.6"/>
<line x1="436.60" y1="50.08" x2="436.60" y2="49.01" stroke="#5fb043" stroke-width="0.6"/>
<line x1="435.70" y1="49.01" x2="437.50" y2="49.01" stroke="#5fb043" stroke-width="0.6"/>
<circle cx="368.20" cy="58.50" r="0.95" fill="#5fb043" stroke="#1a1a1a" stroke-width="0.45"/>
<circle cx="372.76" cy="58.96" r="0.95" fill="#5fb043" stroke="#1a1a1a" stroke-width="0.45"/>
<circle cx="377.32" cy="58.50" r="0.95" fill="#5fb043" stroke="#1a1a1a" stroke-width="0.45"/>
<circle cx="381.88" cy="58.19" r="0.95" fill="#5fb043" stroke="#1a1a1a" stroke-width="0.45"/>
<circle cx="386.44" cy="57.73" r="0.95" fill="#5fb043" stroke="#1a1a1a" stroke-width="0.45"/>
<circle cx="391.00" cy="57.28" r="0.95" fill="#5fb043" stroke="#1a1a1a" stroke-width="0.45"/>
<circle cx="395.56" cy="56.97" r="0.95" fill="#5fb043" stroke="#1a1a1a" stroke-width="0.45"/>
<circle cx="400.12" cy="56.20" r="0.95" fill="#5fb043" stroke="#1a1a1a" stroke-width="0.45"/>
<circle cx="404.68" cy="55.44" r="0.95" fill="#5fb043" stroke="#1a1a1a" stroke-width="0.45"/>
<circle cx="409.24" cy="53.91" r="0.95" fill="#5fb043" stroke="#1a1a1a" stroke-width="0.45"/>
<circle cx="413.80" cy="52.69" r="0.95" fill="#5fb043" stroke="#1a1a1a" stroke-width="0.45"/>
<circle cx="418.36" cy="52.07" r="0.95" fill="#5fb043" stroke="#1a1a1a" stroke-width="0.45"/>
<circle cx="422.92" cy="51.61" r="0.95" fill="#5fb043" stroke="#1a1a1a" stroke-width="0.45"/>
<circle cx="427.48" cy="51.31" r="0.95" fill="#5fb043" stroke="#1a1a1a" stroke-width="0.45"/>
<circle cx="432.04" cy="50.85" r="0.95" fill="#5fb043" stroke="#1a1a1a" stroke-width="0.45"/>
<circle cx="436.60" cy="50.08" r="0.95" fill="#5fb043" stroke="#1a1a1a" stroke-width="0.45"/>
<polyline points="368.20,58.50 372.76,58.96 377.32,58.50 381.88,58.50 386.44,58.19 391.00,57.58 395.56,56.97 400.12,55.44 404.68,53.91 409.24,52.38 413.80,51.16 418.36,50.54 422.92,50.85 427.48,50.85 432.04,50.85 436.60,50.54" fill="none" stroke="#5b2a86" stroke-width="0.9"/>
<line x1="395.56" y1="56.97" x2="395.56" y2="56.51" stroke="#5b2a86" stroke-width="0.6"/>
<line x1="394.66" y1="56.51" x2="396.46" y2="56.51" stroke="#5b2a86" stroke-width="0.6"/>
<line x1="400.12" y1="55.44" x2="400.12" y2="54.67" stroke="#5b2a86" stroke-width="0.6"/>
<line x1="399.22" y1="54.67" x2="401.02" y2="54.67" stroke="#5b2a86" stroke-width="0.6"/>
<line x1="404.68" y1="53.91" x2="404.68" y2="52.99" stroke="#5b2a86" stroke-width="0.6"/>
<line x1="403.78" y1="52.99" x2="405.58" y2="52.99" stroke="#5b2a86" stroke-width="0.6"/>
<line x1="409.24" y1="52.38" x2="409.24" y2="51.16" stroke="#5b2a86" stroke-width="0.6"/>
<line x1="408.34" y1="51.16" x2="410.14" y2="51.16" stroke="#5b2a86" stroke-width="0.6"/>
<line x1="413.80" y1="51.16" x2="413.80" y2="49.93" stroke="#5b2a86" stroke-width="0.6"/>
<line x1="412.90" y1="49.93" x2="414.70" y2="49.93" stroke="#5b2a86" stroke-width="0.6"/>
<line x1="418.36" y1="50.54" x2="418.36" y2="49.32" stroke="#5b2a86" stroke-width="0.6"/>
<line x1="417.46" y1="49.32" x2="419.26" y2="49.32" stroke="#5b2a86" stroke-width="0.6"/>
<line x1="422.92" y1="50.85" x2="422.92" y2="49.78" stroke="#5b2a86" stroke-width="0.6"/>
<line x1="422.02" y1="49.78" x2="423.82" y2="49.78" stroke="#5b2a86" stroke-width="0.6"/>
<line x1="427.48" y1="50.85" x2="427.48" y2="49.78" stroke="#5b2a86" stroke-width="0.6"/>
<line x1="426.58" y1="49.78" x2="428.38" y2="49.78" stroke="#5b2a86" stroke-width="0.6"/>
<line x1="432.04" y1="50.85" x2="432.04" y2="49.93" stroke="#5b2a86" stroke-width="0.6"/>
<line x1="431.14" y1="49.93" x2="432.94" y2="49.93" stroke="#5b2a86" stroke-width="0.6"/>
<line x1="436.60" y1="50.54" x2="436.60" y2="49.63" stroke="#5b2a86" stroke-width="0.6"/>
<line x1="435.70" y1="49.63" x2="437.50" y2="49.63" stroke="#5b2a86" stroke-width="0.6"/>
<circle cx="368.20" cy="58.50" r="0.95" fill="#5b2a86" stroke="#1a1a1a" stroke-width="0.45"/>
<circle cx="372.76" cy="58.96" r="0.95" fill="#5b2a86" stroke="#1a1a1a" stroke-width="0.45"/>
<circle cx="377.32" cy="58.50" r="0.95" fill="#5b2a86" stroke="#1a1a1a" stroke-width="0.45"/>
<circle cx="381.88" cy="58.50" r="0.95" fill="#5b2a86" stroke="#1a1a1a" stroke-width="0.45"/>
<circle cx="386.44" cy="58.19" r="0.95" fill="#5b2a86" stroke="#1a1a1a" stroke-width="0.45"/>
<circle cx="391.00" cy="57.58" r="0.95" fill="#5b2a86" stroke="#1a1a1a" stroke-width="0.45"/>
<circle cx="395.56" cy="56.97" r="0.95" fill="#5b2a86" stroke="#1a1a1a" stroke-width="0.45"/>
<circle cx="400.12" cy="55.44" r="0.95" fill="#5b2a86" stroke="#1a1a1a" stroke-width="0.45"/>
<circle cx="404.68" cy="53.91" r="0.95" fill="#5b2a86" stroke="#1a1a1a" stroke-width="0.45"/>
<circle cx="409.24" cy="52.38" r="0.95" fill="#5b2a86" stroke="#1a1a1a" stroke-width="0.45"/>
<circle cx="413.80" cy="51.16" r="0.95" fill="#5b2a86" stroke="#1a1a1a" stroke-width="0.45"/>
<circle cx="418.36" cy="50.54" r="0.95" fill="#5b2a86" stroke="#1a1a1a" stroke-width="0.45"/>
<circle cx="422.92" cy="50.85" r="0.95" fill="#5b2a86" stroke="#1a1a1a" stroke-width="0.45"/>
<circle cx="427.48" cy="50.85" r="0.95" fill="#5b2a86" stroke="#1a1a1a" stroke-width="0.45"/>
<circle cx="432.04" cy="50.85" r="0.95" fill="#5b2a86" stroke="#1a1a1a" stroke-width="0.45"/>
<circle cx="436.60" cy="50.54" r="0.95" fill="#5b2a86" stroke="#1a1a1a" stroke-width="0.45"/>
<polyline points="368.20,58.50 372.76,58.96 377.32,58.50 381.88,56.20 386.44,51.61 391.00,47.79 395.56,44.73 400.12,41.67 404.68,39.68 409.24,38.61 413.80,37.69 418.36,37.54 422.92,37.69 427.48,38.61 432.04,39.53 436.60,40.14" fill="none" stroke="#c0143c" stroke-width="0.9"/>
<line x1="381.88" y1="56.20" x2="381.88" y2="55.44" stroke="#c0143c" stroke-width="0.6"/>
<line x1="380.98" y1="55.44" x2="382.78" y2="55.44" stroke="#c0143c" stroke-width="0.6"/>
<line x1="386.44" y1="51.61" x2="386.44" y2="50.54" stroke="#c0143c" stroke-width="0.6"/>
<line x1="385.54" y1="50.54" x2="387.34" y2="50.54" stroke="#c0143c" stroke-width="0.6"/>
<line x1="391.00" y1="47.79" x2="391.00" y2="46.26" stroke="#c0143c" stroke-width="0.6"/>
<line x1="390.10" y1="46.26" x2="391.90" y2="46.26" stroke="#c0143c" stroke-width="0.6"/>
<line x1="395.56" y1="44.73" x2="395.56" y2="42.89" stroke="#c0143c" stroke-width="0.6"/>
<line x1="394.66" y1="42.89" x2="396.46" y2="42.89" stroke="#c0143c" stroke-width="0.6"/>
<line x1="400.12" y1="41.67" x2="400.12" y2="39.53" stroke="#c0143c" stroke-width="0.6"/>
<line x1="399.22" y1="39.53" x2="401.02" y2="39.53" stroke="#c0143c" stroke-width="0.6"/>
<line x1="404.68" y1="39.68" x2="404.68" y2="37.23" stroke="#c0143c" stroke-width="0.6"/>
<line x1="403.78" y1="37.23" x2="405.58" y2="37.23" stroke="#c0143c" stroke-width="0.6"/>
<line x1="409.24" y1="38.61" x2="409.24" y2="36.01" stroke="#c0143c" stroke-width="0.6"/>
<line x1="408.34" y1="36.01" x2="410.14" y2="36.01" stroke="#c0143c" stroke-width="0.6"/>
<line x1="413.80" y1="37.69" x2="413.80" y2="34.94" stroke="#c0143c" stroke-width="0.6"/>
<line x1="412.90" y1="34.94" x2="414.70" y2="34.94" stroke="#c0143c" stroke-width="0.6"/>
<line x1="418.36" y1="37.54" x2="418.36" y2="34.63" stroke="#c0143c" stroke-width="0.6"/>
<line x1="417.46" y1="34.63" x2="419.26" y2="34.63" stroke="#c0143c" stroke-width="0.6"/>
<line x1="422.92" y1="37.69" x2="422.92" y2="35.09" stroke="#c0143c" stroke-width="0.6"/>
<line x1="422.02" y1="35.09" x2="423.82" y2="35.09" stroke="#c0143c" stroke-width="0.6"/>
<line x1="427.48" y1="38.61" x2="427.48" y2="36.01" stroke="#c0143c" stroke-width="0.6"/>
<line x1="426.58" y1="36.01" x2="428.38" y2="36.01" stroke="#c0143c" stroke-width="0.6"/>
<line x1="432.04" y1="39.53" x2="432.04" y2="37.08" stroke="#c0143c" stroke-width="0.6"/>
<line x1="431.14" y1="37.08" x2="432.94" y2="37.08" stroke="#c0143c" stroke-width="0.6"/>
<line x1="436.60" y1="40.14" x2="436.60" y2="37.84" stroke="#c0143c" stroke-width="0.6"/>
<line x1="435.70" y1="37.84" x2="437.50" y2="37.84" stroke="#c0143c" stroke-width="0.6"/>
<circle cx="368.20" cy="58.50" r="0.95" fill="#c0143c" stroke="#1a1a1a" stroke-width="0.45"/>
<circle cx="372.76" cy="58.96" r="0.95" fill="#c0143c" stroke="#1a1a1a" stroke-width="0.45"/>
<circle cx="377.32" cy="58.50" r="0.95" fill="#c0143c" stroke="#1a1a1a" stroke-width="0.45"/>
<circle cx="381.88" cy="56.20" r="0.95" fill="#c0143c" stroke="#1a1a1a" stroke-width="0.45"/>
<circle cx="386.44" cy="51.61" r="0.95" fill="#c0143c" stroke="#1a1a1a" stroke-width="0.45"/>
<circle cx="391.00" cy="47.79" r="0.95" fill="#c0143c" stroke="#1a1a1a" stroke-width="0.45"/>
<circle cx="395.56" cy="44.73" r="0.95" fill="#c0143c" stroke="#1a1a1a" stroke-width="0.45"/>
<circle cx="400.12" cy="41.67" r="0.95" fill="#c0143c" stroke="#1a1a1a" stroke-width="0.45"/>
<circle cx="404.68" cy="39.68" r="0.95" fill="#c0143c" stroke="#1a1a1a" stroke-width="0.45"/>
<circle cx="409.24" cy="38.61" r="0.95" fill="#c0143c" stroke="#1a1a1a" stroke-width="0.45"/>
<circle cx="413.80" cy="37.69" r="0.95" fill="#c0143c" stroke="#1a1a1a" stroke-width="0.45"/>
<circle cx="418.36" cy="37.54" r="0.95" fill="#c0143c" stroke="#1a1a1a" stroke-width="0.45"/>
<circle cx="422.92" cy="37.69" r="0.95" fill="#c0143c" stroke="#1a1a1a" stroke-width="0.45"/>
<circle cx="427.48" cy="38.61" r="0.95" fill="#c0143c" stroke="#1a1a1a" stroke-width="0.45"/>
<circle cx="432.04" cy="39.53" r="0.95" fill="#c0143c" stroke="#1a1a1a" stroke-width="0.45"/>
<circle cx="436.60" cy="40.14" r="0.95" fill="#c0143c" stroke="#1a1a1a" stroke-width="0.45"/>
<line x1="368.20" y1="74.25" x2="368.20" y2="26.20" stroke="#111" stroke-width="1.05"/>
<line x1="365.40" y1="73.80" x2="368.20" y2="73.80" stroke="#111" stroke-width="0.9450000000000001"/>
<text x="361.30" y="76.18" font-size="6.6" text-anchor="end" stroke-width="0.14">0</text>
<line x1="365.40" y1="58.50" x2="368.20" y2="58.50" stroke="#111" stroke-width="0.9450000000000001"/>
<text x="361.30" y="60.88" font-size="6.6" text-anchor="end" stroke-width="0.14">1</text>
<line x1="365.40" y1="43.20" x2="368.20" y2="43.20" stroke="#111" stroke-width="0.9450000000000001"/>
<text x="361.30" y="45.58" font-size="6.6" text-anchor="end" stroke-width="0.14">2</text>
<line x1="365.40" y1="27.90" x2="368.20" y2="27.90" stroke="#111" stroke-width="0.9450000000000001"/>
<text x="361.30" y="30.28" font-size="6.6" text-anchor="end" stroke-width="0.14">3</text>
<line x1="367.75" y1="73.80" x2="437.70" y2="73.80" stroke="#111" stroke-width="1.05"/>
<line x1="368.20" y1="73.80" x2="368.20" y2="76.40" stroke="#111" stroke-width="0.9450000000000001"/>
<text x="368.20" y="83.70" font-size="6.6" text-anchor="middle" stroke-width="0.14">0</text>
<line x1="391.00" y1="73.80" x2="391.00" y2="76.40" stroke="#111" stroke-width="0.9450000000000001"/>
<text x="391.00" y="83.70" font-size="6.6" text-anchor="middle" stroke-width="0.14">5</text>
<line x1="413.80" y1="73.80" x2="413.80" y2="76.40" stroke="#111" stroke-width="0.9450000000000001"/>
<text x="413.80" y="83.70" font-size="6.6" text-anchor="middle" stroke-width="0.14">10</text>
<line x1="436.60" y1="73.80" x2="436.60" y2="76.40" stroke="#111" stroke-width="0.9450000000000001"/>
<text x="436.60" y="83.70" font-size="6.6" text-anchor="middle" stroke-width="0.14">15</text>
<text x="403.80" y="95.70" font-size="8.6" text-anchor="middle" textLength="35.6" lengthAdjust="spacingAndGlyphs" stroke-width="0.1">Time (mins)</text>
<text transform="translate(342.10,49.30) rotate(-90)" font-size="8.3" text-anchor="middle" textLength="36" lengthAdjust="spacingAndGlyphs" stroke-width="0.1">Normalized</text>
<text transform="translate(352.40,50.10) rotate(-90)" font-size="8.2" text-anchor="middle" textLength="44.5" lengthAdjust="spacingAndGlyphs" stroke-width="0.1">F405/F488 nm</text>
<text x="370.20" y="47.00" font-size="4.8" fill="#444" textLength="17.6" lengthAdjust="spacingAndGlyphs" stroke-width="0.06">Chemical</text>
<line x1="370.40" y1="50.00" x2="370.40" y2="55.00" stroke="#111" stroke-width="0.75"/>
<path d="M369.0,53.4 L370.4,56.5 L371.8,53.4" fill="none" stroke="#111" stroke-width="0.75"/>
<line x1="443.00" y1="37.30" x2="447.40" y2="37.30" stroke="#e8951e" stroke-width="0.8"/>
<circle cx="445.20" cy="37.30" r="0.9" fill="#e8951e" stroke="#1a1a1a" stroke-width="0.4"/>
<text x="450.80" y="39.21" font-size="5.3" stroke-width="0.06">Ctrl (PBS)</text>
<line x1="443.00" y1="43.25" x2="447.40" y2="43.25" stroke="#5b2a86" stroke-width="0.8"/>
<circle cx="445.20" cy="43.25" r="0.9" fill="#5b2a86" stroke="#1a1a1a" stroke-width="0.4"/>
<text x="450.80" y="45.16" font-size="5.3" stroke-width="0.06">High-AOA</text>
<line x1="443.00" y1="49.20" x2="447.40" y2="49.20" stroke="#5fb043" stroke-width="0.8"/>
<circle cx="445.20" cy="49.20" r="0.9" fill="#5fb043" stroke="#1a1a1a" stroke-width="0.4"/>
<text x="450.80" y="51.11" font-size="5.3" stroke-width="0.06">High-Rotenone</text>
<line x1="443.00" y1="55.15" x2="447.40" y2="55.15" stroke="#c0143c" stroke-width="0.8"/>
<circle cx="445.20" cy="55.15" r="0.9" fill="#c0143c" stroke="#1a1a1a" stroke-width="0.4"/>
<text x="450.80" y="57.06" font-size="5.3" stroke-width="0.06">High-Oxamate</text>
<line x1="443.00" y1="61.10" x2="447.40" y2="61.10" stroke="#2c4d8e" stroke-width="0.8"/>
<circle cx="445.20" cy="61.10" r="0.9" fill="#2c4d8e" stroke="#1a1a1a" stroke-width="0.4"/>
<text x="450.80" y="63.01" font-size="5.3" stroke-width="0.06">high-Pyruvate</text>
<text x="8.39" y="122.70" font-size="11.3" font-weight="bold" fill="#000" stroke-width="0.35">D</text>
<polyline points="46.90,181.60 51.47,181.60 56.04,181.60 60.61,181.60 65.18,182.36 69.75,183.89 74.32,184.50 78.89,184.95 83.46,184.95 88.03,184.95 92.60,184.95 97.17,184.95 101.74,184.95 106.31,184.95 110.88,184.95 115.45,184.95" fill="none" stroke="#2c4d8e" stroke-width="0.9"/>
<circle cx="46.90" cy="181.60" r="1.0" fill="#2c4d8e"/>
<circle cx="51.47" cy="181.60" r="1.0" fill="#2c4d8e"/>
<circle cx="56.04" cy="181.60" r="1.0" fill="#2c4d8e"/>
<circle cx="60.61" cy="181.60" r="1.0" fill="#2c4d8e"/>
<circle cx="65.18" cy="182.36" r="1.0" fill="#2c4d8e"/>
<circle cx="69.75" cy="183.89" r="1.0" fill="#2c4d8e"/>
<circle cx="74.32" cy="184.50" r="1.0" fill="#2c4d8e"/>
<circle cx="78.89" cy="184.95" r="1.0" fill="#2c4d8e"/>
<circle cx="83.46" cy="184.95" r="1.0" fill="#2c4d8e"/>
<circle cx="88.03" cy="184.95" r="1.0" fill="#2c4d8e"/>
<circle cx="92.60" cy="184.95" r="1.0" fill="#2c4d8e"/>
<circle cx="97.17" cy="184.95" r="1.0" fill="#2c4d8e"/>
<circle cx="101.74" cy="184.95" r="1.0" fill="#2c4d8e"/>
<circle cx="106.31" cy="184.95" r="1.0" fill="#2c4d8e"/>
<circle cx="110.88" cy="184.95" r="1.0" fill="#2c4d8e"/>
<circle cx="115.45" cy="184.95" r="1.0" fill="#2c4d8e"/>
<polyline points="46.90,181.60 51.47,181.29 56.04,180.69 60.61,179.62 65.18,179.62 69.75,179.62 74.32,179.47 78.89,179.31 83.46,179.16 88.03,179.01 92.60,178.70 97.17,178.70 101.74,178.85 106.31,179.01 110.88,179.16 115.45,179.16" fill="none" stroke="#e8951e" stroke-width="0.9"/>
<circle cx="46.90" cy="181.60" r="1.0" fill="#e8951e"/>
<circle cx="51.47" cy="181.29" r="1.0" fill="#e8951e"/>
<circle cx="56.04" cy="180.69" r="1.0" fill="#e8951e"/>
<circle cx="60.61" cy="179.62" r="1.0" fill="#e8951e"/>
<circle cx="65.18" cy="179.62" r="1.0" fill="#e8951e"/>
<circle cx="69.75" cy="179.62" r="1.0" fill="#e8951e"/>
<circle cx="74.32" cy="179.47" r="1.0" fill="#e8951e"/>
<circle cx="78.89" cy="179.31" r="1.0" fill="#e8951e"/>
<circle cx="83.46" cy="179.16" r="1.0" fill="#e8951e"/>
<circle cx="88.03" cy="179.01" r="1.0" fill="#e8951e"/>
<circle cx="92.60" cy="178.70" r="1.0" fill="#e8951e"/>
<circle cx="97.17" cy="178.70" r="1.0" fill="#e8951e"/>
<circle cx="101.74" cy="178.85" r="1.0" fill="#e8951e"/>
<circle cx="106.31" cy="179.01" r="1.0" fill="#e8951e"/>
<circle cx="110.88" cy="179.16" r="1.0" fill="#e8951e"/>
<circle cx="115.45" cy="179.16" r="1.0" fill="#e8951e"/>
<polyline points="46.90,181.60 51.47,181.29 56.04,180.38 60.61,178.85 65.18,177.33 69.75,175.81 74.32,174.74 78.89,173.97 83.46,173.52 88.03,173.52 92.60,173.06 97.17,172.75 101.74,172.75 106.31,172.75 110.88,172.75 115.45,172.75" fill="none" stroke="#c0143c" stroke-width="0.9"/>
<line x1="74.32" y1="174.74" x2="74.32" y2="174.13" stroke="#c0143c" stroke-width="0.6"/>
<line x1="73.42" y1="174.13" x2="75.22" y2="174.13" stroke="#c0143c" stroke-width="0.6"/>
<line x1="78.89" y1="173.97" x2="78.89" y2="173.06" stroke="#c0143c" stroke-width="0.6"/>
<line x1="77.99" y1="173.06" x2="79.79" y2="173.06" stroke="#c0143c" stroke-width="0.6"/>
<line x1="83.46" y1="173.52" x2="83.46" y2="172.45" stroke="#c0143c" stroke-width="0.6"/>
<line x1="82.56" y1="172.45" x2="84.36" y2="172.45" stroke="#c0143c" stroke-width="0.6"/>
<line x1="88.03" y1="173.52" x2="88.03" y2="172.30" stroke="#c0143c" stroke-width="0.6"/>
<line x1="87.13" y1="172.30" x2="88.93" y2="172.30" stroke="#c0143c" stroke-width="0.6"/>
<line x1="92.60" y1="173.06" x2="92.60" y2="171.84" stroke="#c0143c" stroke-width="0.6"/>
<line x1="91.70" y1="171.84" x2="93.50" y2="171.84" stroke="#c0143c" stroke-width="0.6"/>
<line x1="97.17" y1="172.75" x2="97.17" y2="171.23" stroke="#c0143c" stroke-width="0.6"/>
<line x1="96.27" y1="171.23" x2="98.07" y2="171.23" stroke="#c0143c" stroke-width="0.6"/>
<line x1="101.74" y1="172.75" x2="101.74" y2="171.23" stroke="#c0143c" stroke-width="0.6"/>
<line x1="100.84" y1="171.23" x2="102.64" y2="171.23" stroke="#c0143c" stroke-width="0.6"/>
<line x1="106.31" y1="172.75" x2="106.31" y2="171.23" stroke="#c0143c" stroke-width="0.6"/>
<line x1="105.41" y1="171.23" x2="107.21" y2="171.23" stroke="#c0143c" stroke-width="0.6"/>
<line x1="110.88" y1="172.75" x2="110.88" y2="171.23" stroke="#c0143c" stroke-width="0.6"/>
<line x1="109.98" y1="171.23" x2="111.78" y2="171.23" stroke="#c0143c" stroke-width="0.6"/>
<line x1="115.45" y1="172.75" x2="115.45" y2="171.23" stroke="#c0143c" stroke-width="0.6"/>
<line x1="114.55" y1="171.23" x2="116.35" y2="171.23" stroke="#c0143c" stroke-width="0.6"/>
<circle cx="46.90" cy="181.60" r="1.0" fill="#c0143c"/>
<circle cx="51.47" cy="181.29" r="1.0" fill="#c0143c"/>
<circle cx="56.04" cy="180.38" r="1.0" fill="#c0143c"/>
<circle cx="60.61" cy="178.85" r="1.0" fill="#c0143c"/>
<circle cx="65.18" cy="177.33" r="1.0" fill="#c0143c"/>
<circle cx="69.75" cy="175.81" r="1.0" fill="#c0143c"/>
<circle cx="74.32" cy="174.74" r="1.0" fill="#c0143c"/>
<circle cx="78.89" cy="173.97" r="1.0" fill="#c0143c"/>
<circle cx="83.46" cy="173.52" r="1.0" fill="#c0143c"/>
<circle cx="88.03" cy="173.52" r="1.0" fill="#c0143c"/>
<circle cx="92.60" cy="173.06" r="1.0" fill="#c0143c"/>
<circle cx="97.17" cy="172.75" r="1.0" fill="#c0143c"/>
<circle cx="101.74" cy="172.75" r="1.0" fill="#c0143c"/>
<circle cx="106.31" cy="172.75" r="1.0" fill="#c0143c"/>
<circle cx="110.88" cy="172.75" r="1.0" fill="#c0143c"/>
<circle cx="115.45" cy="172.75" r="1.0" fill="#c0143c"/>
<polyline points="46.90,181.60 51.47,181.14 56.04,180.38 60.61,178.85 65.18,176.26 69.75,175.35 74.32,173.82 78.89,172.75 83.46,171.69 88.03,169.55 92.60,167.72 97.17,165.74 101.74,164.98 106.31,164.67 110.88,164.52 115.45,163.91" fill="none" stroke="#5fb043" stroke-width="0.9"/>
<line x1="74.32" y1="173.82" x2="74.32" y2="173.21" stroke="#5fb043" stroke-width="0.6"/>
<line x1="73.42" y1="173.21" x2="75.22" y2="173.21" stroke="#5fb043" stroke-width="0.6"/>
<line x1="78.89" y1="172.75" x2="78.89" y2="171.99" stroke="#5fb043" stroke-width="0.6"/>
<line x1="77.99" y1="171.99" x2="79.79" y2="171.99" stroke="#5fb043" stroke-width="0.6"/>
<line x1="83.46" y1="171.69" x2="83.46" y2="170.77" stroke="#5fb043" stroke-width="0.6"/>
<line x1="82.56" y1="170.77" x2="84.36" y2="170.77" stroke="#5fb043" stroke-width="0.6"/>
<line x1="88.03" y1="169.55" x2="88.03" y2="168.33" stroke="#5fb043" stroke-width="0.6"/>
<line x1="87.13" y1="168.33" x2="88.93" y2="168.33" stroke="#5fb043" stroke-width="0.6"/>
<line x1="92.60" y1="167.72" x2="92.60" y2="165.89" stroke="#5fb043" stroke-width="0.6"/>
<line x1="91.70" y1="165.89" x2="93.50" y2="165.89" stroke="#5fb043" stroke-width="0.6"/>
<line x1="97.17" y1="165.74" x2="97.17" y2="163.61" stroke="#5fb043" stroke-width="0.6"/>
<line x1="96.27" y1="163.61" x2="98.07" y2="163.61" stroke="#5fb043" stroke-width="0.6"/>
<line x1="101.74" y1="164.98" x2="101.74" y2="162.84" stroke="#5fb043" stroke-width="0.6"/>
<line x1="100.84" y1="162.84" x2="102.64" y2="162.84" stroke="#5fb043" stroke-width="0.6"/>
<line x1="106.31" y1="164.67" x2="106.31" y2="162.54" stroke="#5fb043" stroke-width="0.6"/>
<line x1="105.41" y1="162.54" x2="107.21" y2="162.54" stroke="#5fb043" stroke-width="0.6"/>
<line x1="110.88" y1="164.52" x2="110.88" y2="162.38" stroke="#5fb043" stroke-width="0.6"/>
<line x1="109.98" y1="162.38" x2="111.78" y2="162.38" stroke="#5fb043" stroke-width="0.6"/>
<line x1="115.45" y1="163.91" x2="115.45" y2="161.78" stroke="#5fb043" stroke-width="0.6"/>
<line x1="114.55" y1="161.78" x2="116.35" y2="161.78" stroke="#5fb043" stroke-width="0.6"/>
<circle cx="46.90" cy="181.60" r="1.0" fill="#5fb043"/>
<circle cx="51.47" cy="181.14" r="1.0" fill="#5fb043"/>
<circle cx="56.04" cy="180.38" r="1.0" fill="#5fb043"/>
<circle cx="60.61" cy="178.85" r="1.0" fill="#5fb043"/>
<circle cx="65.18" cy="176.26" r="1.0" fill="#5fb043"/>
<circle cx="69.75" cy="175.35" r="1.0" fill="#5fb043"/>
<circle cx="74.32" cy="173.82" r="1.0" fill="#5fb043"/>
<circle cx="78.89" cy="172.75" r="1.0" fill="#5fb043"/>
<circle cx="83.46" cy="171.69" r="1.0" fill="#5fb043"/>
<circle cx="88.03" cy="169.55" r="1.0" fill="#5fb043"/>
<circle cx="92.60" cy="167.72" r="1.0" fill="#5fb043"/>
<circle cx="97.17" cy="165.74" r="1.0" fill="#5fb043"/>
<circle cx="101.74" cy="164.98" r="1.0" fill="#5fb043"/>
<circle cx="106.31" cy="164.67" r="1.0" fill="#5fb043"/>
<circle cx="110.88" cy="164.52" r="1.0" fill="#5fb043"/>
<circle cx="115.45" cy="163.91" r="1.0" fill="#5fb043"/>
<polyline points="46.90,181.60 51.47,179.92 56.04,178.40 60.61,176.57 65.18,173.82 69.75,170.31 74.32,167.26 78.89,163.15 83.46,158.12 88.03,154.61 92.60,152.62 97.17,151.10 101.74,150.64 106.31,151.10 110.88,150.64 115.45,150.34" fill="none" stroke="#5b2a86" stroke-width="0.9"/>
<line x1="74.32" y1="167.26" x2="74.32" y2="166.50" stroke="#5b2a86" stroke-width="0.6"/>
<line x1="73.42" y1="166.50" x2="75.22" y2="166.50" stroke="#5b2a86" stroke-width="0.6"/>
<line x1="78.89" y1="163.15" x2="78.89" y2="161.93" stroke="#5b2a86" stroke-width="0.6"/>
<line x1="77.99" y1="161.93" x2="79.79" y2="161.93" stroke="#5b2a86" stroke-width="0.6"/>
<line x1="83.46" y1="158.12" x2="83.46" y2="156.28" stroke="#5b2a86" stroke-width="0.6"/>
<line x1="82.56" y1="156.28" x2="84.36" y2="156.28" stroke="#5b2a86" stroke-width="0.6"/>
<line x1="88.03" y1="154.61" x2="88.03" y2="152.32" stroke="#5b2a86" stroke-width="0.6"/>
<line x1="87.13" y1="152.32" x2="88.93" y2="152.32" stroke="#5b2a86" stroke-width="0.6"/>
<line x1="92.60" y1="152.62" x2="92.60" y2="149.88" stroke="#5b2a86" stroke-width="0.6"/>
<line x1="91.70" y1="149.88" x2="93.50" y2="149.88" stroke="#5b2a86" stroke-width="0.6"/>
<line x1="97.17" y1="151.10" x2="97.17" y2="148.05" stroke="#5b2a86" stroke-width="0.6"/>
<line x1="96.27" y1="148.05" x2="98.07" y2="148.05" stroke="#5b2a86" stroke-width="0.6"/>
<line x1="101.74" y1="150.64" x2="101.74" y2="147.59" stroke="#5b2a86" stroke-width="0.6"/>
<line x1="100.84" y1="147.59" x2="102.64" y2="147.59" stroke="#5b2a86" stroke-width="0.6"/>
<line x1="106.31" y1="151.10" x2="106.31" y2="148.05" stroke="#5b2a86" stroke-width="0.6"/>
<line x1="105.41" y1="148.05" x2="107.21" y2="148.05" stroke="#5b2a86" stroke-width="0.6"/>
<line x1="110.88" y1="150.64" x2="110.88" y2="147.29" stroke="#5b2a86" stroke-width="0.6"/>
<line x1="109.98" y1="147.29" x2="111.78" y2="147.29" stroke="#5b2a86" stroke-width="0.6"/>
<line x1="115.45" y1="150.34" x2="115.45" y2="147.29" stroke="#5b2a86" stroke-width="0.6"/>
<line x1="114.55" y1="147.29" x2="116.35" y2="147.29" stroke="#5b2a86" stroke-width="0.6"/>
<circle cx="46.90" cy="181.60" r="1.0" fill="#5b2a86"/>
<circle cx="51.47" cy="179.92" r="1.0" fill="#5b2a86"/>
<circle cx="56.04" cy="178.40" r="1.0" fill="#5b2a86"/>
<circle cx="60.61" cy="176.57" r="1.0" fill="#5b2a86"/>
<circle cx="65.18" cy="173.82" r="1.0" fill="#5b2a86"/>
<circle cx="69.75" cy="170.31" r="1.0" fill="#5b2a86"/>
<circle cx="74.32" cy="167.26" r="1.0" fill="#5b2a86"/>
<circle cx="78.89" cy="163.15" r="1.0" fill="#5b2a86"/>
<circle cx="83.46" cy="158.12" r="1.0" fill="#5b2a86"/>
<circle cx="88.03" cy="154.61" r="1.0" fill="#5b2a86"/>
<circle cx="92.60" cy="152.62" r="1.0" fill="#5b2a86"/>
<circle cx="97.17" cy="151.10" r="1.0" fill="#5b2a86"/>
<circle cx="101.74" cy="150.64" r="1.0" fill="#5b2a86"/>
<circle cx="106.31" cy="151.10" r="1.0" fill="#5b2a86"/>
<circle cx="110.88" cy="150.64" r="1.0" fill="#5b2a86"/>
<circle cx="115.45" cy="150.34" r="1.0" fill="#5b2a86"/>
<line x1="46.90" y1="189.67" x2="46.90" y2="142.20" stroke="#111" stroke-width="1.05"/>
<line x1="44.10" y1="189.22" x2="46.90" y2="189.22" stroke="#111" stroke-width="0.9450000000000001"/>
<text x="40.80" y="191.60" font-size="6.6" text-anchor="end" stroke-width="0.14">0.5</text>
<line x1="44.10" y1="181.60" x2="46.90" y2="181.60" stroke="#111" stroke-width="0.9450000000000001"/>
<text x="40.80" y="183.98" font-size="6.6" text-anchor="end" stroke-width="0.14">1.0</text>
<line x1="44.10" y1="173.97" x2="46.90" y2="173.97" stroke="#111" stroke-width="0.9450000000000001"/>
<text x="40.80" y="176.35" font-size="6.6" text-anchor="end" stroke-width="0.14">1.5</text>
<line x1="44.10" y1="166.35" x2="46.90" y2="166.35" stroke="#111" stroke-width="0.9450000000000001"/>
<text x="40.80" y="168.73" font-size="6.6" text-anchor="end" stroke-width="0.14">2.0</text>
<line x1="44.10" y1="158.72" x2="46.90" y2="158.72" stroke="#111" stroke-width="0.9450000000000001"/>
<text x="40.80" y="161.10" font-size="6.6" text-anchor="end" stroke-width="0.14">2.5</text>
<line x1="44.10" y1="151.10" x2="46.90" y2="151.10" stroke="#111" stroke-width="0.9450000000000001"/>
<text x="40.80" y="153.48" font-size="6.6" text-anchor="end" stroke-width="0.14">3.0</text>
<line x1="44.10" y1="143.47" x2="46.90" y2="143.47" stroke="#111" stroke-width="0.9450000000000001"/>
<text x="40.80" y="145.85" font-size="6.6" text-anchor="end" stroke-width="0.14">3.5</text>
<line x1="46.45" y1="189.22" x2="116.20" y2="189.22" stroke="#111" stroke-width="1.05"/>
<line x1="46.90" y1="189.22" x2="46.90" y2="191.82" stroke="#111" stroke-width="0.9450000000000001"/>
<text x="46.90" y="199.12" font-size="6.6" text-anchor="middle" stroke-width="0.14">0</text>
<line x1="69.75" y1="189.22" x2="69.75" y2="191.82" stroke="#111" stroke-width="0.9450000000000001"/>
<text x="69.75" y="199.12" font-size="6.6" text-anchor="middle" stroke-width="0.14">5</text>
<line x1="92.60" y1="189.22" x2="92.60" y2="191.82" stroke="#111" stroke-width="0.9450000000000001"/>
<text x="92.60" y="199.12" font-size="6.6" text-anchor="middle" stroke-width="0.14">10</text>
<line x1="115.45" y1="189.22" x2="115.45" y2="191.82" stroke="#111" stroke-width="0.9450000000000001"/>
<text x="115.45" y="199.12" font-size="6.6" text-anchor="middle" stroke-width="0.14">15</text>
<text x="82.60" y="211.00" font-size="8.6" text-anchor="middle" textLength="35.6" lengthAdjust="spacingAndGlyphs" stroke-width="0.1">Time (mins)</text>
<text transform="translate(17.00,164.70) rotate(-90)" font-size="8.3" text-anchor="middle" textLength="35.4" lengthAdjust="spacingAndGlyphs" stroke-width="0.1">Normalized</text>
<text transform="translate(26.40,168.20) rotate(-90)" font-size="8.2" text-anchor="middle" textLength="39.5" lengthAdjust="spacingAndGlyphs" stroke-width="0.1">F405/F488 nm</text>
<text x="49.60" y="168.30" font-size="4.8" fill="#444" textLength="17.6" lengthAdjust="spacingAndGlyphs" stroke-width="0.06">Chemical</text>
<line x1="48.60" y1="171.00" x2="48.60" y2="175.00" stroke="#666" stroke-width="0.6"/>
<path d="M47.0,174.2 L48.6,177.4 L50.2,174.2 Z" fill="#000" stroke="#000" stroke-width="0.6"/>
<line x1="121.90" y1="153.10" x2="126.30" y2="153.10" stroke="#e8951e" stroke-width="0.8"/>
<circle cx="124.10" cy="153.10" r="0.9" fill="#e8951e" stroke="#1a1a1a" stroke-width="0.4"/>
<text x="129.70" y="155.01" font-size="5.3" stroke-width="0.06">Ctrl (PBS)</text>
<line x1="121.90" y1="158.98" x2="126.30" y2="158.98" stroke="#5b2a86" stroke-width="0.8"/>
<circle cx="124.10" cy="158.98" r="0.9" fill="#5b2a86" stroke="#1a1a1a" stroke-width="0.4"/>
<text x="129.70" y="160.89" font-size="5.3" stroke-width="0.06">Low-AOA</text>
<line x1="121.90" y1="164.86" x2="126.30" y2="164.86" stroke="#5fb043" stroke-width="0.8"/>
<circle cx="124.10" cy="164.86" r="0.9" fill="#5fb043" stroke="#1a1a1a" stroke-width="0.4"/>
<text x="129.70" y="166.77" font-size="5.3" stroke-width="0.06">Low-Rotenone</text>
<line x1="121.90" y1="170.74" x2="126.30" y2="170.74" stroke="#c0143c" stroke-width="0.8"/>
<circle cx="124.10" cy="170.74" r="0.9" fill="#c0143c" stroke="#1a1a1a" stroke-width="0.4"/>
<text x="129.70" y="172.65" font-size="5.3" stroke-width="0.06">Low-Oxamate</text>
<line x1="121.90" y1="176.62" x2="126.30" y2="176.62" stroke="#2c4d8e" stroke-width="0.8"/>
<circle cx="124.10" cy="176.62" r="0.9" fill="#2c4d8e" stroke="#1a1a1a" stroke-width="0.4"/>
<text x="129.70" y="178.53" font-size="5.3" stroke-width="0.06">low-Pyruvate</text>
<text x="181.69" y="122.80" font-size="11.3" font-weight="bold" fill="#000" stroke-width="0.35">E</text>
<text x="258.80" y="120.80" font-size="8.6" text-anchor="middle" textLength="44" lengthAdjust="spacingAndGlyphs" stroke-width="0.1">SoNar-high</text>
<rect x="219.70" y="168.87" width="11.00" height="20.33" fill="#e0901c"/>
<rect x="236.60" y="181.47" width="11.00" height="7.73" fill="#2b4b88"/>
<line x1="242.10" y1="181.47" x2="242.10" y2="180.46" stroke="#111" stroke-width="0.85"/>
<line x1="239.02" y1="180.46" x2="245.18" y2="180.46" stroke="#111" stroke-width="0.85"/>
<circle cx="239.67" cy="177.96" r="0.76" fill="#1a1a1a"/>
<circle cx="242.10" cy="177.96" r="0.76" fill="#1a1a1a"/>
<circle cx="244.53" cy="177.96" r="0.76" fill="#1a1a1a"/>
<rect x="253.50" y="139.80" width="11.00" height="49.40" fill="#a8062f"/>
<line x1="259.00" y1="139.80" x2="259.00" y2="138.58" stroke="#111" stroke-width="0.85"/>
<line x1="255.92" y1="138.58" x2="262.08" y2="138.58" stroke="#111" stroke-width="0.85"/>
<circle cx="256.57" cy="136.08" r="0.76" fill="#1a1a1a"/>
<circle cx="259.00" cy="136.08" r="0.76" fill="#1a1a1a"/>
<circle cx="261.43" cy="136.08" r="0.76" fill="#1a1a1a"/>
<rect x="270.40" y="161.75" width="11.00" height="27.45" fill="#55256c"/>
<line x1="275.90" y1="161.75" x2="275.90" y2="160.53" stroke="#111" stroke-width="0.85"/>
<line x1="272.82" y1="160.53" x2="278.98" y2="160.53" stroke="#111" stroke-width="0.85"/>
<circle cx="273.47" cy="158.03" r="0.76" fill="#1a1a1a"/>
<circle cx="275.90" cy="158.03" r="0.76" fill="#1a1a1a"/>
<circle cx="278.33" cy="158.03" r="0.76" fill="#1a1a1a"/>
<rect x="287.30" y="162.16" width="11.00" height="27.04" fill="#69a83e"/>
<line x1="292.80" y1="162.16" x2="292.80" y2="161.14" stroke="#111" stroke-width="0.85"/>
<line x1="289.72" y1="161.14" x2="295.88" y2="161.14" stroke="#111" stroke-width="0.85"/>
<circle cx="290.37" cy="158.64" r="0.76" fill="#1a1a1a"/>
<circle cx="292.80" cy="158.64" r="0.76" fill="#1a1a1a"/>
<circle cx="295.23" cy="158.64" r="0.76" fill="#1a1a1a"/>
<line x1="213.30" y1="189.65" x2="213.30" y2="126.70" stroke="#111" stroke-width="1.05"/>
<line x1="210.50" y1="189.20" x2="213.30" y2="189.20" stroke="#111" stroke-width="0.9450000000000001"/>
<text x="207.70" y="191.58" font-size="6.6" text-anchor="end" stroke-width="0.14">0</text>
<line x1="210.50" y1="168.87" x2="213.30" y2="168.87" stroke="#111" stroke-width="0.9450000000000001"/>
<text x="207.70" y="171.25" font-size="6.6" text-anchor="end" stroke-width="0.14">1</text>
<line x1="210.50" y1="148.54" x2="213.30" y2="148.54" stroke="#111" stroke-width="0.9450000000000001"/>
<text x="207.70" y="150.92" font-size="6.6" text-anchor="end" stroke-width="0.14">2</text>
<line x1="210.50" y1="128.21" x2="213.30" y2="128.21" stroke="#111" stroke-width="0.9450000000000001"/>
<text x="207.70" y="130.59" font-size="6.6" text-anchor="end" stroke-width="0.14">3</text>
<line x1="212.85" y1="189.20" x2="304.40" y2="189.20" stroke="#111" stroke-width="1.05"/>
<line x1="225.20" y1="189.20" x2="225.20" y2="191.80" stroke="#111" stroke-width="0.9450000000000001"/>
<line x1="242.10" y1="189.20" x2="242.10" y2="191.80" stroke="#111" stroke-width="0.9450000000000001"/>
<line x1="259.00" y1="189.20" x2="259.00" y2="191.80" stroke="#111" stroke-width="0.9450000000000001"/>
<line x1="275.90" y1="189.20" x2="275.90" y2="191.80" stroke="#111" stroke-width="0.9450000000000001"/>
<line x1="292.80" y1="189.20" x2="292.80" y2="191.80" stroke="#111" stroke-width="0.9450000000000001"/>
<text transform="translate(227.80,197.30) rotate(-45)" font-size="6.5" text-anchor="end" stroke-width="0.14">PBS</text>
<text transform="translate(244.70,197.30) rotate(-45)" font-size="6.5" text-anchor="end" stroke-width="0.14">Pyruvate</text>
<text transform="translate(261.60,197.30) rotate(-45)" font-size="6.5" text-anchor="end" stroke-width="0.14">Oxamate</text>
<text transform="translate(278.50,197.30) rotate(-45)" font-size="6.5" text-anchor="end" stroke-width="0.14">AOA</text>
<text transform="translate(295.40,197.30) rotate(-45)" font-size="6.5" text-anchor="end" stroke-width="0.14">Rotenone</text>
<text transform="translate(188.20,157.10) rotate(-90)" font-size="8.3" text-anchor="middle" textLength="35.4" lengthAdjust="spacingAndGlyphs" stroke-width="0.1">Normalized</text>
<text transform="translate(197.80,157.50) rotate(-90)" font-size="8.2" text-anchor="middle" textLength="45" lengthAdjust="spacingAndGlyphs" stroke-width="0.1">F405/F488 nm</text>
<text x="320.14" y="122.90" font-size="11.3" font-weight="bold" fill="#000" stroke-width="0.35">F</text>
<text x="398.50" y="120.80" font-size="8.6" text-anchor="middle" textLength="41" lengthAdjust="spacingAndGlyphs" stroke-width="0.1">SoNar-low</text>
<rect x="359.00" y="173.88" width="11.00" height="15.12" fill="#e0901c"/>
<rect x="376.00" y="178.11" width="11.00" height="10.89" fill="#2b4b88"/>
<line x1="381.50" y1="178.11" x2="381.50" y2="177.66" stroke="#111" stroke-width="0.85"/>
<line x1="378.42" y1="177.66" x2="384.58" y2="177.66" stroke="#111" stroke-width="0.85"/>
<circle cx="381.50" cy="175.16" r="0.76" fill="#1a1a1a"/>
<rect x="393.00" y="167.53" width="11.00" height="21.47" fill="#a8062f"/>
<line x1="398.50" y1="167.53" x2="398.50" y2="166.77" stroke="#111" stroke-width="0.85"/>
<line x1="395.42" y1="166.77" x2="401.58" y2="166.77" stroke="#111" stroke-width="0.85"/>
<circle cx="397.29" cy="164.27" r="0.76" fill="#1a1a1a"/>
<circle cx="399.71" cy="164.27" r="0.76" fill="#1a1a1a"/>
<rect x="410.00" y="147.42" width="11.00" height="41.58" fill="#55256c"/>
<line x1="415.50" y1="147.42" x2="415.50" y2="143.64" stroke="#111" stroke-width="0.85"/>
<line x1="412.42" y1="143.64" x2="418.58" y2="143.64" stroke="#111" stroke-width="0.85"/>
<circle cx="413.07" cy="141.14" r="0.76" fill="#1a1a1a"/>
<circle cx="415.50" cy="141.14" r="0.76" fill="#1a1a1a"/>
<circle cx="417.93" cy="141.14" r="0.76" fill="#1a1a1a"/>
<rect x="427.00" y="161.48" width="11.00" height="27.52" fill="#69a83e"/>
<line x1="432.50" y1="161.48" x2="432.50" y2="160.73" stroke="#111" stroke-width="0.85"/>
<line x1="429.42" y1="160.73" x2="435.58" y2="160.73" stroke="#111" stroke-width="0.85"/>
<circle cx="430.07" cy="158.23" r="0.76" fill="#1a1a1a"/>
<circle cx="432.50" cy="158.23" r="0.76" fill="#1a1a1a"/>
<circle cx="434.93" cy="158.23" r="0.76" fill="#1a1a1a"/>
<line x1="353.30" y1="189.45" x2="353.30" y2="127.20" stroke="#111" stroke-width="1.05"/>
<line x1="350.50" y1="189.00" x2="353.30" y2="189.00" stroke="#111" stroke-width="0.9450000000000001"/>
<text x="348.20" y="191.38" font-size="6.6" text-anchor="end" stroke-width="0.14">0</text>
<line x1="350.50" y1="173.88" x2="353.30" y2="173.88" stroke="#111" stroke-width="0.9450000000000001"/>
<text x="348.20" y="176.26" font-size="6.6" text-anchor="end" stroke-width="0.14">1</text>
<line x1="350.50" y1="158.76" x2="353.30" y2="158.76" stroke="#111" stroke-width="0.9450000000000001"/>
<text x="348.20" y="161.14" font-size="6.6" text-anchor="end" stroke-width="0.14">2</text>
<line x1="350.50" y1="143.64" x2="353.30" y2="143.64" stroke="#111" stroke-width="0.9450000000000001"/>
<text x="348.20" y="146.02" font-size="6.6" text-anchor="end" stroke-width="0.14">3</text>
<line x1="350.50" y1="128.52" x2="353.30" y2="128.52" stroke="#111" stroke-width="0.9450000000000001"/>
<text x="348.20" y="130.90" font-size="6.6" text-anchor="end" stroke-width="0.14">4</text>
<line x1="352.85" y1="189.00" x2="444.50" y2="189.00" stroke="#111" stroke-width="1.05"/>
<line x1="364.50" y1="189.00" x2="364.50" y2="191.60" stroke="#111" stroke-width="0.9450000000000001"/>
<line x1="381.50" y1="189.00" x2="381.50" y2="191.60" stroke="#111" stroke-width="0.9450000000000001"/>
<line x1="398.50" y1="189.00" x2="398.50" y2="191.60" stroke="#111" stroke-width="0.9450000000000001"/>
<line x1="415.50" y1="189.00" x2="415.50" y2="191.60" stroke="#111" stroke-width="0.9450000000000001"/>
<line x1="432.50" y1="189.00" x2="432.50" y2="191.60" stroke="#111" stroke-width="0.9450000000000001"/>
<text transform="translate(367.10,197.30) rotate(-45)" font-size="6.5" text-anchor="end" stroke-width="0.14">PBS</text>
<text transform="translate(384.10,197.30) rotate(-45)" font-size="6.5" text-anchor="end" stroke-width="0.14">Pyruvate</text>
<text transform="translate(401.10,197.30) rotate(-45)" font-size="6.5" text-anchor="end" stroke-width="0.14">Oxamate</text>
<text transform="translate(418.10,197.30) rotate(-45)" font-size="6.5" text-anchor="end" stroke-width="0.14">AOA</text>
<text transform="translate(435.10,197.30) rotate(-45)" font-size="6.5" text-anchor="end" stroke-width="0.14">Rotenone</text>
<text transform="translate(327.60,157.20) rotate(-90)" font-size="8.3" text-anchor="middle" textLength="34.4" lengthAdjust="spacingAndGlyphs" stroke-width="0.1">Normalized</text>
<text transform="translate(337.60,157.70) rotate(-90)" font-size="8.2" text-anchor="middle" textLength="46" lengthAdjust="spacingAndGlyphs" stroke-width="0.1">F405/F488 nm</text>
<text x="8.34" y="245.10" font-size="11.3" font-weight="bold" fill="#000" stroke-width="0.35">G</text>
<rect x="50.00" y="268.70" width="4.50" height="54.60" fill="#a5002b"/>
<line x1="52.25" y1="268.70" x2="52.25" y2="268.15" stroke="#111" stroke-width="0.85"/>
<line x1="50.99" y1="268.15" x2="53.51" y2="268.15" stroke="#111" stroke-width="0.85"/>
<rect x="57.00" y="270.06" width="4.40" height="53.24" fill="#2c4a80"/>
<line x1="59.20" y1="270.06" x2="59.20" y2="269.72" stroke="#111" stroke-width="0.85"/>
<line x1="57.97" y1="269.72" x2="60.43" y2="269.72" stroke="#111" stroke-width="0.85"/>
<rect x="67.10" y="270.06" width="4.50" height="53.24" fill="#a5002b"/>
<line x1="69.35" y1="270.06" x2="69.35" y2="268.70" stroke="#111" stroke-width="0.85"/>
<line x1="68.09" y1="268.70" x2="70.61" y2="268.70" stroke="#111" stroke-width="0.85"/>
<rect x="74.10" y="265.63" width="4.40" height="57.67" fill="#2c4a80"/>
<line x1="76.30" y1="265.63" x2="76.30" y2="265.29" stroke="#111" stroke-width="0.85"/>
<line x1="75.07" y1="265.29" x2="77.53" y2="265.29" stroke="#111" stroke-width="0.85"/>
<rect x="84.20" y="273.82" width="4.50" height="49.48" fill="#a5002b"/>
<line x1="86.45" y1="273.82" x2="86.45" y2="272.80" stroke="#111" stroke-width="0.85"/>
<line x1="85.19" y1="272.80" x2="87.71" y2="272.80" stroke="#111" stroke-width="0.85"/>
<rect x="91.20" y="269.38" width="4.40" height="53.92" fill="#2c4a80"/>
<line x1="93.40" y1="269.38" x2="93.40" y2="267.34" stroke="#111" stroke-width="0.85"/>
<line x1="92.17" y1="267.34" x2="94.63" y2="267.34" stroke="#111" stroke-width="0.85"/>
<rect x="101.30" y="266.31" width="4.50" height="56.99" fill="#a5002b"/>
<line x1="103.55" y1="266.31" x2="103.55" y2="265.97" stroke="#111" stroke-width="0.85"/>
<line x1="102.29" y1="265.97" x2="104.81" y2="265.97" stroke="#111" stroke-width="0.85"/>
<rect x="108.30" y="266.65" width="4.40" height="56.65" fill="#2c4a80"/>
<line x1="110.50" y1="266.65" x2="110.50" y2="266.31" stroke="#111" stroke-width="0.85"/>
<line x1="109.27" y1="266.31" x2="111.73" y2="266.31" stroke="#111" stroke-width="0.85"/>
<rect x="118.40" y="281.33" width="4.50" height="41.97" fill="#a5002b"/>
<line x1="120.65" y1="281.33" x2="120.65" y2="278.60" stroke="#111" stroke-width="0.85"/>
<line x1="119.39" y1="278.60" x2="121.91" y2="278.60" stroke="#111" stroke-width="0.85"/>
<rect x="125.40" y="281.67" width="4.40" height="41.63" fill="#2c4a80"/>
<line x1="127.60" y1="281.67" x2="127.60" y2="280.99" stroke="#111" stroke-width="0.85"/>
<line x1="126.37" y1="280.99" x2="128.83" y2="280.99" stroke="#111" stroke-width="0.85"/>
<rect x="135.50" y="282.35" width="4.50" height="40.95" fill="#a5002b"/>
<line x1="137.75" y1="282.35" x2="137.75" y2="280.99" stroke="#111" stroke-width="0.85"/>
<line x1="136.49" y1="280.99" x2="139.01" y2="280.99" stroke="#111" stroke-width="0.85"/>
<rect x="142.50" y="286.58" width="4.40" height="36.72" fill="#2c4a80"/>
<line x1="144.70" y1="286.58" x2="144.70" y2="284.53" stroke="#111" stroke-width="0.85"/>
<line x1="143.47" y1="284.53" x2="145.93" y2="284.53" stroke="#111" stroke-width="0.85"/>
<rect x="152.60" y="282.35" width="4.50" height="40.95" fill="#a5002b"/>
<line x1="154.85" y1="282.35" x2="154.85" y2="281.67" stroke="#111" stroke-width="0.85"/>
<line x1="153.59" y1="281.67" x2="156.11" y2="281.67" stroke="#111" stroke-width="0.85"/>
<rect x="159.60" y="294.02" width="4.40" height="29.28" fill="#2c4a80"/>
<line x1="161.80" y1="294.02" x2="161.80" y2="293.00" stroke="#111" stroke-width="0.85"/>
<line x1="160.57" y1="293.00" x2="163.03" y2="293.00" stroke="#111" stroke-width="0.85"/>
<line x1="154.80" y1="277.50" x2="161.80" y2="277.50" stroke="#111" stroke-width="0.95"/>
<line x1="154.80" y1="276.00" x2="154.80" y2="279.00" stroke="#111" stroke-width="0.95"/>
<line x1="161.80" y1="276.00" x2="161.80" y2="279.00" stroke="#111" stroke-width="0.95"/>
<circle cx="155.87" cy="274.00" r="0.76" fill="#1a1a1a"/>
<circle cx="158.30" cy="274.00" r="0.76" fill="#1a1a1a"/>
<circle cx="160.73" cy="274.00" r="0.76" fill="#1a1a1a"/>
<rect x="169.70" y="315.18" width="4.50" height="8.12" fill="#a5002b"/>
<line x1="171.95" y1="315.18" x2="171.95" y2="314.84" stroke="#111" stroke-width="0.85"/>
<line x1="170.69" y1="314.84" x2="173.21" y2="314.84" stroke="#111" stroke-width="0.85"/>
<rect x="176.70" y="311.29" width="4.40" height="12.01" fill="#2c4a80"/>
<line x1="178.90" y1="311.29" x2="178.90" y2="310.61" stroke="#111" stroke-width="0.85"/>
<line x1="177.67" y1="310.61" x2="180.13" y2="310.61" stroke="#111" stroke-width="0.85"/>
<line x1="171.90" y1="307.30" x2="178.90" y2="307.30" stroke="#111" stroke-width="0.95"/>
<line x1="171.90" y1="305.80" x2="171.90" y2="308.80" stroke="#111" stroke-width="0.95"/>
<line x1="178.90" y1="305.80" x2="178.90" y2="308.80" stroke="#111" stroke-width="0.95"/>
<circle cx="172.97" cy="302.90" r="0.76" fill="#1a1a1a"/>
<circle cx="175.40" cy="302.90" r="0.76" fill="#1a1a1a"/>
<circle cx="177.83" cy="302.90" r="0.76" fill="#1a1a1a"/>
<rect x="186.80" y="316.20" width="4.50" height="7.10" fill="#a5002b"/>
<line x1="189.05" y1="316.20" x2="189.05" y2="315.86" stroke="#111" stroke-width="0.85"/>
<line x1="187.79" y1="315.86" x2="190.31" y2="315.86" stroke="#111" stroke-width="0.85"/>
<rect x="193.80" y="309.38" width="4.40" height="13.92" fill="#2c4a80"/>
<line x1="196.00" y1="309.38" x2="196.00" y2="307.33" stroke="#111" stroke-width="0.85"/>
<line x1="194.77" y1="307.33" x2="197.23" y2="307.33" stroke="#111" stroke-width="0.85"/>
<line x1="189.00" y1="304.30" x2="196.00" y2="304.30" stroke="#111" stroke-width="0.95"/>
<line x1="189.00" y1="302.80" x2="189.00" y2="305.80" stroke="#111" stroke-width="0.95"/>
<line x1="196.00" y1="302.80" x2="196.00" y2="305.80" stroke="#111" stroke-width="0.95"/>
<circle cx="192.50" cy="299.30" r="0.76" fill="#1a1a1a"/>
<rect x="203.90" y="317.50" width="4.50" height="5.80" fill="#a5002b"/>
<line x1="206.15" y1="317.50" x2="206.15" y2="317.16" stroke="#111" stroke-width="0.85"/>
<line x1="204.89" y1="317.16" x2="207.41" y2="317.16" stroke="#111" stroke-width="0.85"/>
<rect x="210.90" y="313.06" width="4.40" height="10.24" fill="#2c4a80"/>
<line x1="213.10" y1="313.06" x2="213.10" y2="312.04" stroke="#111" stroke-width="0.85"/>
<line x1="211.87" y1="312.04" x2="214.33" y2="312.04" stroke="#111" stroke-width="0.85"/>
<line x1="206.10" y1="309.20" x2="213.10" y2="309.20" stroke="#111" stroke-width="0.95"/>
<line x1="206.10" y1="307.70" x2="206.10" y2="310.70" stroke="#111" stroke-width="0.95"/>
<line x1="213.10" y1="307.70" x2="213.10" y2="310.70" stroke="#111" stroke-width="0.95"/>
<circle cx="208.39" cy="304.40" r="0.76" fill="#1a1a1a"/>
<circle cx="210.82" cy="304.40" r="0.76" fill="#1a1a1a"/>
<rect x="221.00" y="318.80" width="4.50" height="4.50" fill="#a5002b"/>
<line x1="223.25" y1="318.80" x2="223.25" y2="318.45" stroke="#111" stroke-width="0.85"/>
<line x1="221.99" y1="318.45" x2="224.51" y2="318.45" stroke="#111" stroke-width="0.85"/>
<rect x="228.00" y="316.88" width="4.40" height="6.42" fill="#2c4a80"/>
<line x1="230.20" y1="316.88" x2="230.20" y2="316.20" stroke="#111" stroke-width="0.85"/>
<line x1="228.97" y1="316.20" x2="231.43" y2="316.20" stroke="#111" stroke-width="0.85"/>
<line x1="223.20" y1="312.70" x2="230.20" y2="312.70" stroke="#111" stroke-width="0.95"/>
<line x1="223.20" y1="311.20" x2="223.20" y2="314.20" stroke="#111" stroke-width="0.95"/>
<line x1="230.20" y1="311.20" x2="230.20" y2="314.20" stroke="#111" stroke-width="0.95"/>
<circle cx="225.48" cy="308.00" r="0.76" fill="#1a1a1a"/>
<circle cx="227.91" cy="308.00" r="0.76" fill="#1a1a1a"/>
<rect x="238.10" y="320.02" width="4.50" height="3.28" fill="#a5002b"/>
<line x1="240.35" y1="320.02" x2="240.35" y2="319.68" stroke="#111" stroke-width="0.85"/>
<line x1="239.09" y1="319.68" x2="241.61" y2="319.68" stroke="#111" stroke-width="0.85"/>
<rect x="245.10" y="315.18" width="4.40" height="8.12" fill="#2c4a80"/>
<line x1="247.30" y1="315.18" x2="247.30" y2="314.50" stroke="#111" stroke-width="0.85"/>
<line x1="246.07" y1="314.50" x2="248.53" y2="314.50" stroke="#111" stroke-width="0.85"/>
<line x1="240.30" y1="311.50" x2="247.30" y2="311.50" stroke="#111" stroke-width="0.95"/>
<line x1="240.30" y1="310.00" x2="240.30" y2="313.00" stroke="#111" stroke-width="0.95"/>
<line x1="247.30" y1="310.00" x2="247.30" y2="313.00" stroke="#111" stroke-width="0.95"/>
<circle cx="241.37" cy="306.80" r="0.76" fill="#1a1a1a"/>
<circle cx="243.80" cy="306.80" r="0.76" fill="#1a1a1a"/>
<circle cx="246.23" cy="306.80" r="0.76" fill="#1a1a1a"/>
<line x1="47.50" y1="323.75" x2="47.50" y2="254.00" stroke="#111" stroke-width="1.05"/>
<line x1="44.70" y1="323.30" x2="47.50" y2="323.30" stroke="#111" stroke-width="0.9450000000000001"/>
<text x="40.40" y="325.68" font-size="6.6" text-anchor="end" stroke-width="0.14">0</text>
<line x1="44.70" y1="309.65" x2="47.50" y2="309.65" stroke="#111" stroke-width="0.9450000000000001"/>
<text x="40.40" y="312.03" font-size="6.6" text-anchor="end" stroke-width="0.14">20</text>
<line x1="44.70" y1="296.00" x2="47.50" y2="296.00" stroke="#111" stroke-width="0.9450000000000001"/>
<text x="40.40" y="298.38" font-size="6.6" text-anchor="end" stroke-width="0.14">40</text>
<line x1="44.70" y1="282.35" x2="47.50" y2="282.35" stroke="#111" stroke-width="0.9450000000000001"/>
<text x="40.40" y="284.73" font-size="6.6" text-anchor="end" stroke-width="0.14">60</text>
<line x1="44.70" y1="268.70" x2="47.50" y2="268.70" stroke="#111" stroke-width="0.9450000000000001"/>
<text x="40.40" y="271.08" font-size="6.6" text-anchor="end" stroke-width="0.14">80</text>
<line x1="44.70" y1="255.05" x2="47.50" y2="255.05" stroke="#111" stroke-width="0.9450000000000001"/>
<text x="40.40" y="257.43" font-size="6.6" text-anchor="end" stroke-width="0.14">100</text>
<line x1="47.05" y1="323.30" x2="252.30" y2="323.30" stroke="#111" stroke-width="1.05"/>
<line x1="55.70" y1="323.30" x2="55.70" y2="325.90" stroke="#111" stroke-width="0.9450000000000001"/>
<line x1="72.80" y1="323.30" x2="72.80" y2="325.90" stroke="#111" stroke-width="0.9450000000000001"/>
<line x1="89.90" y1="323.30" x2="89.90" y2="325.90" stroke="#111" stroke-width="0.9450000000000001"/>
<line x1="107.00" y1="323.30" x2="107.00" y2="325.90" stroke="#111" stroke-width="0.9450000000000001"/>
<line x1="124.10" y1="323.30" x2="124.10" y2="325.90" stroke="#111" stroke-width="0.9450000000000001"/>
<line x1="141.20" y1="323.30" x2="141.20" y2="325.90" stroke="#111" stroke-width="0.9450000000000001"/>
<line x1="158.30" y1="323.30" x2="158.30" y2="325.90" stroke="#111" stroke-width="0.9450000000000001"/>
<line x1="175.40" y1="323.30" x2="175.40" y2="325.90" stroke="#111" stroke-width="0.9450000000000001"/>
<line x1="192.50" y1="323.30" x2="192.50" y2="325.90" stroke="#111" stroke-width="0.9450000000000001"/>
<line x1="209.60" y1="323.30" x2="209.60" y2="325.90" stroke="#111" stroke-width="0.9450000000000001"/>
<line x1="226.70" y1="323.30" x2="226.70" y2="325.90" stroke="#111" stroke-width="0.9450000000000001"/>
<line x1="243.80" y1="323.30" x2="243.80" y2="325.90" stroke="#111" stroke-width="0.9450000000000001"/>
<text transform="translate(58.30,333.80) rotate(-45)" font-size="6.6" text-anchor="end" stroke-width="0.14">Glucose 6-phosphate</text>
<text transform="translate(75.40,333.80) rotate(-45)" font-size="6.6" text-anchor="end" stroke-width="0.14">Fructose 6-phosphate</text>
<text transform="translate(92.50,333.80) rotate(-45)" font-size="6.6" text-anchor="end" stroke-width="0.14">Fructose 1,6-bisphosphate</text>
<text transform="translate(109.60,333.80) rotate(-45)" font-size="6.6" text-anchor="end" stroke-width="0.14">Glyceraldehyde 3-phosphate</text>
<text transform="translate(126.70,333.80) rotate(-45)" font-size="6.6" text-anchor="end" stroke-width="0.14">Phosphoenolpyruvic acid</text>
<text transform="translate(143.80,333.80) rotate(-45)" font-size="6.6" text-anchor="end" stroke-width="0.14">Pyruvate</text>
<text transform="translate(160.90,333.80) rotate(-45)" font-size="6.6" text-anchor="end" stroke-width="0.14">Lactic acid</text>
<text transform="translate(178.00,333.80) rotate(-45)" font-size="6.6" text-anchor="end" stroke-width="0.14">Citric acid</text>
<text transform="translate(195.10,333.80) rotate(-45)" font-size="6.6" text-anchor="end" stroke-width="0.14">Cis-aconitic acid</text>
<text transform="translate(212.20,333.80) rotate(-45)" font-size="6.6" text-anchor="end" stroke-width="0.14">&#945;-ketoglutaric acid</text>
<text transform="translate(229.30,333.80) rotate(-45)" font-size="6.6" text-anchor="end" stroke-width="0.14">Fumarate</text>
<text transform="translate(246.40,333.80) rotate(-45)" font-size="6.6" text-anchor="end" stroke-width="0.14">Malic acid</text>
<line x1="52.00" y1="260.00" x2="161.70" y2="260.00" stroke="#111" stroke-width="0.8"/>
<line x1="52.00" y1="258.70" x2="52.00" y2="261.30" stroke="#111" stroke-width="0.8"/>
<line x1="161.70" y1="258.70" x2="161.70" y2="261.30" stroke="#111" stroke-width="0.8"/>
<text x="107.00" y="257.60" font-size="5.4" text-anchor="middle" textLength="23" lengthAdjust="spacingAndGlyphs" stroke-width="0.06">Glycolysis</text>
<line x1="167.70" y1="268.80" x2="251.90" y2="268.80" stroke="#111" stroke-width="0.8"/>
<line x1="167.70" y1="267.50" x2="167.70" y2="270.10" stroke="#111" stroke-width="0.8"/>
<line x1="251.90" y1="267.50" x2="251.90" y2="270.10" stroke="#111" stroke-width="0.8"/>
<text x="209.70" y="265.60" font-size="5.6" text-anchor="middle" textLength="24.4" lengthAdjust="spacingAndGlyphs" stroke-width="0.06">TCA cycle</text>
<text transform="translate(14.40,286.80) rotate(-90)" font-size="8.4" text-anchor="middle" textLength="63.2" lengthAdjust="spacingAndGlyphs" stroke-width="0.1">Percent labeled from</text>
<text transform="translate(23.9,287.4) rotate(-90)" font-size="7.8" text-anchor="middle" stroke-width="0.1" textLength="34.6" lengthAdjust="spacingAndGlyphs"><tspan font-size="4.6" dy="-2.8">13</tspan><tspan dy="2.8">C-glucose</tspan></text>
<rect x="256.20" y="287.80" width="5.30" height="5.10" fill="#a5002b"/>
<rect x="256.20" y="296.00" width="5.30" height="5.10" fill="#2c4a80"/>
<text x="264.20" y="292.40" font-size="6.2" textLength="27.6" lengthAdjust="spacingAndGlyphs" stroke-width="0.14">SoNar-high</text>
<text x="264.20" y="300.60" font-size="6.2" textLength="25" lengthAdjust="spacingAndGlyphs" stroke-width="0.14">SoNar-low</text>
<text x="307.54" y="245.30" font-size="11.3" font-weight="bold" fill="#000" stroke-width="0.35">H</text>
<line x1="349.60" y1="276.60" x2="349.60" y2="323.30" stroke="#111" stroke-width="0.8"/>
<line x1="364.60" y1="276.60" x2="364.60" y2="323.30" stroke="#111" stroke-width="0.8"/>
<line x1="379.70" y1="276.60" x2="379.70" y2="323.30" stroke="#111" stroke-width="0.8"/>
<polyline points="338.23,303.19 343.36,303.42 348.13,303.65 352.89,319.19 358.02,319.87 362.42,319.87 367.19,284.46 371.95,284.00 376.72,284.46 382.21,321.01 387.34,321.70 391.74,321.93" fill="none" stroke="#2c4a80" stroke-width="0.9"/>
<line x1="338.23" y1="302.28" x2="338.23" y2="304.11" stroke="#2c4a80" stroke-width="0.8"/>
<line x1="337.13" y1="302.28" x2="339.33" y2="302.28" stroke="#2c4a80" stroke-width="0.7"/>
<line x1="337.13" y1="304.11" x2="339.33" y2="304.11" stroke="#2c4a80" stroke-width="0.7"/>
<circle cx="338.23" cy="303.19" r="1.05" fill="#2c4a80"/>
<line x1="343.36" y1="302.74" x2="343.36" y2="304.11" stroke="#2c4a80" stroke-width="0.8"/>
<line x1="342.26" y1="302.74" x2="344.46" y2="302.74" stroke="#2c4a80" stroke-width="0.7"/>
<line x1="342.26" y1="304.11" x2="344.46" y2="304.11" stroke="#2c4a80" stroke-width="0.7"/>
<circle cx="343.36" cy="303.42" r="1.05" fill="#2c4a80"/>
<line x1="348.13" y1="302.96" x2="348.13" y2="304.33" stroke="#2c4a80" stroke-width="0.8"/>
<line x1="347.03" y1="302.96" x2="349.23" y2="302.96" stroke="#2c4a80" stroke-width="0.7"/>
<line x1="347.03" y1="304.33" x2="349.23" y2="304.33" stroke="#2c4a80" stroke-width="0.7"/>
<circle cx="348.13" cy="303.65" r="1.05" fill="#2c4a80"/>
<line x1="352.89" y1="318.50" x2="352.89" y2="319.87" stroke="#2c4a80" stroke-width="0.8"/>
<line x1="351.79" y1="318.50" x2="353.99" y2="318.50" stroke="#2c4a80" stroke-width="0.7"/>
<line x1="351.79" y1="319.87" x2="353.99" y2="319.87" stroke="#2c4a80" stroke-width="0.7"/>
<circle cx="352.89" cy="319.19" r="1.05" fill="#2c4a80"/>
<line x1="358.02" y1="319.42" x2="358.02" y2="320.33" stroke="#2c4a80" stroke-width="0.8"/>
<line x1="356.92" y1="319.42" x2="359.12" y2="319.42" stroke="#2c4a80" stroke-width="0.7"/>
<line x1="356.92" y1="320.33" x2="359.12" y2="320.33" stroke="#2c4a80" stroke-width="0.7"/>
<circle cx="358.02" cy="319.87" r="1.05" fill="#2c4a80"/>
<line x1="362.42" y1="319.42" x2="362.42" y2="320.33" stroke="#2c4a80" stroke-width="0.8"/>
<line x1="361.32" y1="319.42" x2="363.52" y2="319.42" stroke="#2c4a80" stroke-width="0.7"/>
<line x1="361.32" y1="320.33" x2="363.52" y2="320.33" stroke="#2c4a80" stroke-width="0.7"/>
<circle cx="362.42" cy="319.87" r="1.05" fill="#2c4a80"/>
<line x1="367.19" y1="283.08" x2="367.19" y2="285.83" stroke="#2c4a80" stroke-width="0.8"/>
<line x1="366.09" y1="283.08" x2="368.29" y2="283.08" stroke="#2c4a80" stroke-width="0.7"/>
<line x1="366.09" y1="285.83" x2="368.29" y2="285.83" stroke="#2c4a80" stroke-width="0.7"/>
<circle cx="367.19" cy="284.46" r="1.05" fill="#2c4a80"/>
<line x1="371.95" y1="282.63" x2="371.95" y2="285.37" stroke="#2c4a80" stroke-width="0.8"/>
<line x1="370.85" y1="282.63" x2="373.05" y2="282.63" stroke="#2c4a80" stroke-width="0.7"/>
<line x1="370.85" y1="285.37" x2="373.05" y2="285.37" stroke="#2c4a80" stroke-width="0.7"/>
<circle cx="371.95" cy="284.00" r="1.05" fill="#2c4a80"/>
<line x1="376.72" y1="283.08" x2="376.72" y2="285.83" stroke="#2c4a80" stroke-width="0.8"/>
<line x1="375.62" y1="283.08" x2="377.82" y2="283.08" stroke="#2c4a80" stroke-width="0.7"/>
<line x1="375.62" y1="285.83" x2="377.82" y2="285.83" stroke="#2c4a80" stroke-width="0.7"/>
<circle cx="376.72" cy="284.46" r="1.05" fill="#2c4a80"/>
<line x1="382.21" y1="320.56" x2="382.21" y2="321.47" stroke="#2c4a80" stroke-width="0.8"/>
<line x1="381.11" y1="320.56" x2="383.31" y2="320.56" stroke="#2c4a80" stroke-width="0.7"/>
<line x1="381.11" y1="321.47" x2="383.31" y2="321.47" stroke="#2c4a80" stroke-width="0.7"/>
<circle cx="382.21" cy="321.01" r="1.05" fill="#2c4a80"/>
<line x1="387.34" y1="321.24" x2="387.34" y2="322.16" stroke="#2c4a80" stroke-width="0.8"/>
<line x1="386.24" y1="321.24" x2="388.44" y2="321.24" stroke="#2c4a80" stroke-width="0.7"/>
<line x1="386.24" y1="322.16" x2="388.44" y2="322.16" stroke="#2c4a80" stroke-width="0.7"/>
<circle cx="387.34" cy="321.70" r="1.05" fill="#2c4a80"/>
<line x1="391.74" y1="321.47" x2="391.74" y2="322.39" stroke="#2c4a80" stroke-width="0.8"/>
<line x1="390.64" y1="321.47" x2="392.84" y2="321.47" stroke="#2c4a80" stroke-width="0.7"/>
<line x1="390.64" y1="322.39" x2="392.84" y2="322.39" stroke="#2c4a80" stroke-width="0.7"/>
<circle cx="391.74" cy="321.93" r="1.05" fill="#2c4a80"/>
<polyline points="338.23,311.42 343.36,312.33 348.13,312.79 352.89,320.10 358.02,320.56 362.42,320.56 367.19,302.05 371.95,301.59 376.72,301.82 382.21,321.93 387.34,322.16 391.74,322.39" fill="none" stroke="#a5002b" stroke-width="0.9"/>
<line x1="338.23" y1="310.50" x2="338.23" y2="312.33" stroke="#a5002b" stroke-width="0.8"/>
<line x1="337.13" y1="310.50" x2="339.33" y2="310.50" stroke="#a5002b" stroke-width="0.7"/>
<line x1="337.13" y1="312.33" x2="339.33" y2="312.33" stroke="#a5002b" stroke-width="0.7"/>
<circle cx="338.23" cy="311.42" r="1.05" fill="#a5002b"/>
<line x1="343.36" y1="311.42" x2="343.36" y2="313.25" stroke="#a5002b" stroke-width="0.8"/>
<line x1="342.26" y1="311.42" x2="344.46" y2="311.42" stroke="#a5002b" stroke-width="0.7"/>
<line x1="342.26" y1="313.25" x2="344.46" y2="313.25" stroke="#a5002b" stroke-width="0.7"/>
<circle cx="343.36" cy="312.33" r="1.05" fill="#a5002b"/>
<line x1="348.13" y1="311.88" x2="348.13" y2="313.70" stroke="#a5002b" stroke-width="0.8"/>
<line x1="347.03" y1="311.88" x2="349.23" y2="311.88" stroke="#a5002b" stroke-width="0.7"/>
<line x1="347.03" y1="313.70" x2="349.23" y2="313.70" stroke="#a5002b" stroke-width="0.7"/>
<circle cx="348.13" cy="312.79" r="1.05" fill="#a5002b"/>
<line x1="352.89" y1="319.64" x2="352.89" y2="320.56" stroke="#a5002b" stroke-width="0.8"/>
<line x1="351.79" y1="319.64" x2="353.99" y2="319.64" stroke="#a5002b" stroke-width="0.7"/>
<line x1="351.79" y1="320.56" x2="353.99" y2="320.56" stroke="#a5002b" stroke-width="0.7"/>
<circle cx="352.89" cy="320.10" r="1.05" fill="#a5002b"/>
<line x1="358.02" y1="320.10" x2="358.02" y2="321.01" stroke="#a5002b" stroke-width="0.8"/>
<line x1="356.92" y1="320.10" x2="359.12" y2="320.10" stroke="#a5002b" stroke-width="0.7"/>
<line x1="356.92" y1="321.01" x2="359.12" y2="321.01" stroke="#a5002b" stroke-width="0.7"/>
<circle cx="358.02" cy="320.56" r="1.05" fill="#a5002b"/>
<line x1="362.42" y1="320.10" x2="362.42" y2="321.01" stroke="#a5002b" stroke-width="0.8"/>
<line x1="361.32" y1="320.10" x2="363.52" y2="320.10" stroke="#a5002b" stroke-width="0.7"/>
<line x1="361.32" y1="321.01" x2="363.52" y2="321.01" stroke="#a5002b" stroke-width="0.7"/>
<circle cx="362.42" cy="320.56" r="1.05" fill="#a5002b"/>
<line x1="367.19" y1="300.22" x2="367.19" y2="303.88" stroke="#a5002b" stroke-width="0.8"/>
<line x1="366.09" y1="300.22" x2="368.29" y2="300.22" stroke="#a5002b" stroke-width="0.7"/>
<line x1="366.09" y1="303.88" x2="368.29" y2="303.88" stroke="#a5002b" stroke-width="0.7"/>
<circle cx="367.19" cy="302.05" r="1.05" fill="#a5002b"/>
<line x1="371.95" y1="299.76" x2="371.95" y2="303.42" stroke="#a5002b" stroke-width="0.8"/>
<line x1="370.85" y1="299.76" x2="373.05" y2="299.76" stroke="#a5002b" stroke-width="0.7"/>
<line x1="370.85" y1="303.42" x2="373.05" y2="303.42" stroke="#a5002b" stroke-width="0.7"/>
<circle cx="371.95" cy="301.59" r="1.05" fill="#a5002b"/>
<line x1="376.72" y1="299.99" x2="376.72" y2="303.65" stroke="#a5002b" stroke-width="0.8"/>
<line x1="375.62" y1="299.99" x2="377.82" y2="299.99" stroke="#a5002b" stroke-width="0.7"/>
<line x1="375.62" y1="303.65" x2="377.82" y2="303.65" stroke="#a5002b" stroke-width="0.7"/>
<circle cx="376.72" cy="301.82" r="1.05" fill="#a5002b"/>
<line x1="382.21" y1="321.47" x2="382.21" y2="322.39" stroke="#a5002b" stroke-width="0.8"/>
<line x1="381.11" y1="321.47" x2="383.31" y2="321.47" stroke="#a5002b" stroke-width="0.7"/>
<line x1="381.11" y1="322.39" x2="383.31" y2="322.39" stroke="#a5002b" stroke-width="0.7"/>
<circle cx="382.21" cy="321.93" r="1.05" fill="#a5002b"/>
<line x1="387.34" y1="321.70" x2="387.34" y2="322.61" stroke="#a5002b" stroke-width="0.8"/>
<line x1="386.24" y1="321.70" x2="388.44" y2="321.70" stroke="#a5002b" stroke-width="0.7"/>
<line x1="386.24" y1="322.61" x2="388.44" y2="322.61" stroke="#a5002b" stroke-width="0.7"/>
<circle cx="387.34" cy="322.16" r="1.05" fill="#a5002b"/>
<line x1="391.74" y1="321.93" x2="391.74" y2="322.84" stroke="#a5002b" stroke-width="0.8"/>
<line x1="390.64" y1="321.93" x2="392.84" y2="321.93" stroke="#a5002b" stroke-width="0.7"/>
<line x1="390.64" y1="322.84" x2="392.84" y2="322.84" stroke="#a5002b" stroke-width="0.7"/>
<circle cx="391.74" cy="322.39" r="1.05" fill="#a5002b"/>
<line x1="337.50" y1="323.75" x2="337.50" y2="276.30" stroke="#111" stroke-width="1.05"/>
<line x1="334.70" y1="323.30" x2="337.50" y2="323.30" stroke="#111" stroke-width="0.9450000000000001"/>
<text x="331.40" y="325.68" font-size="6.6" text-anchor="end" stroke-width="0.14">0</text>
<line x1="334.70" y1="311.88" x2="337.50" y2="311.88" stroke="#111" stroke-width="0.9450000000000001"/>
<text x="331.40" y="314.25" font-size="6.6" text-anchor="end" stroke-width="0.14">50</text>
<line x1="334.70" y1="300.45" x2="337.50" y2="300.45" stroke="#111" stroke-width="0.9450000000000001"/>
<text x="331.40" y="302.83" font-size="6.6" text-anchor="end" stroke-width="0.14">100</text>
<line x1="334.70" y1="289.03" x2="337.50" y2="289.03" stroke="#111" stroke-width="0.9450000000000001"/>
<text x="331.40" y="291.40" font-size="6.6" text-anchor="end" stroke-width="0.14">150</text>
<line x1="334.70" y1="277.60" x2="337.50" y2="277.60" stroke="#111" stroke-width="0.9450000000000001"/>
<text x="331.40" y="279.98" font-size="6.6" text-anchor="end" stroke-width="0.14">200</text>
<line x1="337.05" y1="323.30" x2="398.40" y2="323.30" stroke="#111" stroke-width="1.05"/>
<line x1="337.50" y1="323.30" x2="337.50" y2="325.90" stroke="#111" stroke-width="0.9450000000000001"/>
<text x="337.50" y="333.90" font-size="6.6" text-anchor="middle" stroke-width="0.14">0</text>
<line x1="352.16" y1="323.30" x2="352.16" y2="325.90" stroke="#111" stroke-width="0.9450000000000001"/>
<text x="352.16" y="333.90" font-size="6.6" text-anchor="middle" stroke-width="0.14">20</text>
<line x1="366.82" y1="323.30" x2="366.82" y2="325.90" stroke="#111" stroke-width="0.9450000000000001"/>
<text x="366.82" y="333.90" font-size="6.6" text-anchor="middle" stroke-width="0.14">40</text>
<line x1="381.48" y1="323.30" x2="381.48" y2="325.90" stroke="#111" stroke-width="0.9450000000000001"/>
<text x="381.48" y="333.90" font-size="6.6" text-anchor="middle" stroke-width="0.14">60</text>
<line x1="396.14" y1="323.30" x2="396.14" y2="325.90" stroke="#111" stroke-width="0.9450000000000001"/>
<text x="396.14" y="333.90" font-size="6.6" text-anchor="middle" stroke-width="0.14">80</text>
<text x="367.20" y="347.30" font-size="8.6" text-anchor="middle" textLength="36.5" lengthAdjust="spacingAndGlyphs" stroke-width="0.1">Time (mins)</text>
<text transform="translate(314.00,299.50) rotate(-90)" font-size="7.8" text-anchor="middle" textLength="56" lengthAdjust="spacingAndGlyphs" stroke-width="0.1">OCR (pMoles/min)</text>
<text transform="translate(349.20,273.00) rotate(-45)" font-size="5.6" textLength="28" lengthAdjust="spacingAndGlyphs" stroke-width="0.06">Oligomycin</text>
<text transform="translate(364.00,273.40) rotate(-45)" font-size="5.6" textLength="14.5" lengthAdjust="spacingAndGlyphs" stroke-width="0.06">FCCP</text>
<text transform="translate(379.00,270.00) rotate(-45)" font-size="5.6" textLength="24.5" lengthAdjust="spacingAndGlyphs" stroke-width="0.06">Rotenone</text>
<text transform="translate(384.20,274.20) rotate(-45)" font-size="5.6" textLength="25" lengthAdjust="spacingAndGlyphs" stroke-width="0.06">Antimycin</text>
<line x1="327.70" y1="354.80" x2="333.30" y2="354.80" stroke="#a5002b" stroke-width="0.8"/>
<circle cx="330.50" cy="354.8" r="0.9" fill="#a5002b"/>
<text x="336.30" y="357.00" font-size="5.6" textLength="29.5" lengthAdjust="spacingAndGlyphs" stroke-width="0.06">SoNar-high</text>
<line x1="373.80" y1="354.80" x2="379.40" y2="354.80" stroke="#2c4a80" stroke-width="0.8"/>
<circle cx="376.60" cy="354.8" r="0.9" fill="#2c4a80"/>
<text x="382.40" y="357.00" font-size="5.6" textLength="27" lengthAdjust="spacingAndGlyphs" stroke-width="0.06">SoNar-low</text>
<text x="425.94" y="245.20" font-size="11.3" font-weight="bold" fill="#000" stroke-width="0.35">I</text>
<rect x="464.50" y="297.89" width="18.10" height="25.41" fill="#a5002b"/>
<line x1="473.55" y1="297.89" x2="473.55" y2="296.28" stroke="#111" stroke-width="0.85"/>
<line x1="468.48" y1="296.28" x2="478.62" y2="296.28" stroke="#111" stroke-width="0.85"/>
<rect x="491.70" y="279.34" width="18.20" height="43.96" fill="#2c4a80"/>
<line x1="500.80" y1="279.34" x2="500.80" y2="277.32" stroke="#111" stroke-width="0.85"/>
<line x1="495.70" y1="277.32" x2="505.90" y2="277.32" stroke="#111" stroke-width="0.85"/>
<line x1="460.00" y1="323.75" x2="460.00" y2="261.70" stroke="#111" stroke-width="1.05"/>
<line x1="457.20" y1="323.30" x2="460.00" y2="323.30" stroke="#111" stroke-width="0.9450000000000001"/>
<text x="453.90" y="325.68" font-size="6.6" text-anchor="end" stroke-width="0.14">0</text>
<line x1="457.20" y1="303.13" x2="460.00" y2="303.13" stroke="#111" stroke-width="0.9450000000000001"/>
<text x="453.90" y="305.51" font-size="6.6" text-anchor="end" stroke-width="0.14">5000</text>
<line x1="457.20" y1="282.97" x2="460.00" y2="282.97" stroke="#111" stroke-width="0.9450000000000001"/>
<text x="453.90" y="285.34" font-size="6.6" text-anchor="end" stroke-width="0.14">10000</text>
<line x1="457.20" y1="262.80" x2="460.00" y2="262.80" stroke="#111" stroke-width="0.9450000000000001"/>
<text x="453.90" y="265.18" font-size="6.6" text-anchor="end" stroke-width="0.14">15000</text>
<line x1="459.55" y1="323.30" x2="513.00" y2="323.30" stroke="#111" stroke-width="1.05"/>
<line x1="473.50" y1="323.30" x2="473.50" y2="325.90" stroke="#111" stroke-width="0.9450000000000001"/>
<line x1="500.80" y1="323.30" x2="500.80" y2="325.90" stroke="#111" stroke-width="0.9450000000000001"/>
<line x1="473.40" y1="274.50" x2="500.60" y2="274.50" stroke="#111" stroke-width="1.0"/>
<line x1="473.40" y1="272.80" x2="473.40" y2="276.20" stroke="#111" stroke-width="1.0"/>
<line x1="500.60" y1="272.80" x2="500.60" y2="276.20" stroke="#111" stroke-width="1.0"/>
<circle cx="484.13" cy="271.10" r="0.92" fill="#1a1a1a"/>
<circle cx="487.10" cy="271.10" r="0.92" fill="#1a1a1a"/>
<circle cx="490.07" cy="271.10" r="0.92" fill="#1a1a1a"/>
<text transform="translate(429.60,291.50) rotate(-90)" font-size="7.8" text-anchor="middle" textLength="35.8" lengthAdjust="spacingAndGlyphs" stroke-width="0.1">TMRE (MFI)</text>
<text x="473.50" y="335.20" font-size="6.6" text-anchor="middle" stroke-width="0.14">SoNar-</text>
<text x="473.50" y="342.60" font-size="6.6" text-anchor="middle" stroke-width="0.14">high</text>
<text x="500.80" y="335.20" font-size="6.6" text-anchor="middle" stroke-width="0.14">SoNar-</text>
<text x="500.80" y="342.60" font-size="6.6" text-anchor="middle" stroke-width="0.14">low</text>
<text x="6.83" y="412.50" font-size="11.3" font-weight="bold" fill="#000" stroke-width="0.35">J</text>
<rect x="42.30" y="453.20" width="18.50" height="30.50" fill="#a5002b"/>
<rect x="69.20" y="434.90" width="18.50" height="48.80" fill="#2c4a80"/>
<line x1="78.45" y1="434.90" x2="78.45" y2="430.32" stroke="#111" stroke-width="0.85"/>
<line x1="73.27" y1="430.32" x2="83.63" y2="430.32" stroke="#111" stroke-width="0.85"/>
<line x1="38.00" y1="484.15" x2="38.00" y2="421.50" stroke="#111" stroke-width="1.05"/>
<line x1="35.20" y1="483.70" x2="38.00" y2="483.70" stroke="#111" stroke-width="0.9450000000000001"/>
<text x="31.20" y="486.08" font-size="6.6" text-anchor="end" stroke-width="0.14">0.0</text>
<line x1="35.20" y1="468.45" x2="38.00" y2="468.45" stroke="#111" stroke-width="0.9450000000000001"/>
<text x="31.20" y="470.83" font-size="6.6" text-anchor="end" stroke-width="0.14">0.5</text>
<line x1="35.20" y1="453.20" x2="38.00" y2="453.20" stroke="#111" stroke-width="0.9450000000000001"/>
<text x="31.20" y="455.58" font-size="6.6" text-anchor="end" stroke-width="0.14">1.0</text>
<line x1="35.20" y1="437.95" x2="38.00" y2="437.95" stroke="#111" stroke-width="0.9450000000000001"/>
<text x="31.20" y="440.33" font-size="6.6" text-anchor="end" stroke-width="0.14">1.5</text>
<line x1="35.20" y1="422.70" x2="38.00" y2="422.70" stroke="#111" stroke-width="0.9450000000000001"/>
<text x="31.20" y="425.08" font-size="6.6" text-anchor="end" stroke-width="0.14">2.0</text>
<line x1="37.55" y1="483.70" x2="91.00" y2="483.70" stroke="#111" stroke-width="1.05"/>
<line x1="51.50" y1="483.70" x2="51.50" y2="486.30" stroke="#111" stroke-width="0.9450000000000001"/>
<line x1="78.50" y1="483.70" x2="78.50" y2="486.30" stroke="#111" stroke-width="0.9450000000000001"/>
<line x1="51.20" y1="425.60" x2="78.60" y2="425.60" stroke="#111" stroke-width="1.0"/>
<line x1="51.20" y1="423.90" x2="51.20" y2="427.30" stroke="#111" stroke-width="1.0"/>
<line x1="78.60" y1="423.90" x2="78.60" y2="427.30" stroke="#111" stroke-width="1.0"/>
<circle cx="63.76" cy="421.90" r="0.90" fill="#1a1a1a"/>
<circle cx="66.64" cy="421.90" r="0.90" fill="#1a1a1a"/>
<text transform="translate(17.40,451.50) rotate(-90)" font-size="8.0" text-anchor="middle" textLength="52.5" lengthAdjust="spacingAndGlyphs" stroke-width="0.1">Relative ATP level</text>
<text x="51.50" y="495.60" font-size="6.6" text-anchor="middle" stroke-width="0.14">SoNar-</text>
<text x="51.50" y="503.20" font-size="6.6" text-anchor="middle" stroke-width="0.14">high</text>
<text x="78.50" y="495.60" font-size="6.6" text-anchor="middle" stroke-width="0.14">SoNar-</text>
<text x="78.50" y="503.20" font-size="6.6" text-anchor="middle" stroke-width="0.14">low</text>
<text x="107.24" y="412.90" font-size="11.3" font-weight="bold" fill="#000" stroke-width="0.35">K</text>
<rect x="148.90" y="459.62" width="18.00" height="24.28" fill="#a5002b"/>
<rect x="176.60" y="438.25" width="17.60" height="45.65" fill="#2c4a80"/>
<line x1="185.40" y1="438.25" x2="185.40" y2="436.07" stroke="#111" stroke-width="0.85"/>
<line x1="180.47" y1="436.07" x2="190.33" y2="436.07" stroke="#111" stroke-width="0.85"/>
<circle cx="182.23" cy="433.10" r="0.92" fill="#1a1a1a"/>
<circle cx="185.20" cy="433.10" r="0.92" fill="#1a1a1a"/>
<circle cx="188.17" cy="433.10" r="0.92" fill="#1a1a1a"/>
<line x1="143.80" y1="484.35" x2="143.80" y2="422.00" stroke="#111" stroke-width="1.05"/>
<line x1="141.00" y1="483.90" x2="143.80" y2="483.90" stroke="#111" stroke-width="0.9450000000000001"/>
<text x="138.70" y="486.28" font-size="6.6" text-anchor="end" stroke-width="0.14">0.0</text>
<line x1="141.00" y1="471.76" x2="143.80" y2="471.76" stroke="#111" stroke-width="0.9450000000000001"/>
<text x="138.70" y="474.14" font-size="6.6" text-anchor="end" stroke-width="0.14">0.5</text>
<line x1="141.00" y1="459.62" x2="143.80" y2="459.62" stroke="#111" stroke-width="0.9450000000000001"/>
<text x="138.70" y="462.00" font-size="6.6" text-anchor="end" stroke-width="0.14">1.0</text>
<line x1="141.00" y1="447.48" x2="143.80" y2="447.48" stroke="#111" stroke-width="0.9450000000000001"/>
<text x="138.70" y="449.86" font-size="6.6" text-anchor="end" stroke-width="0.14">1.5</text>
<line x1="141.00" y1="435.34" x2="143.80" y2="435.34" stroke="#111" stroke-width="0.9450000000000001"/>
<text x="138.70" y="437.72" font-size="6.6" text-anchor="end" stroke-width="0.14">2.0</text>
<line x1="141.00" y1="423.20" x2="143.80" y2="423.20" stroke="#111" stroke-width="0.9450000000000001"/>
<text x="138.70" y="425.58" font-size="6.6" text-anchor="end" stroke-width="0.14">2.5</text>
<line x1="143.35" y1="483.90" x2="197.00" y2="483.90" stroke="#111" stroke-width="1.05"/>
<line x1="158.20" y1="483.90" x2="158.20" y2="486.50" stroke="#111" stroke-width="0.9450000000000001"/>
<line x1="185.40" y1="483.90" x2="185.40" y2="486.50" stroke="#111" stroke-width="0.9450000000000001"/>
<text transform="translate(113.60,451.00) rotate(-90)" font-size="7.6" text-anchor="middle" textLength="47.3" lengthAdjust="spacingAndGlyphs" stroke-width="0.1">Relative mtDNA</text>
<text transform="translate(124.00,449.80) rotate(-90)" font-size="7.6" text-anchor="middle" textLength="35.7" lengthAdjust="spacingAndGlyphs" stroke-width="0.1">copy number</text>
<text x="158.20" y="496.00" font-size="6.6" text-anchor="middle" stroke-width="0.14">SoNar-</text>
<text x="158.20" y="503.60" font-size="6.6" text-anchor="middle" stroke-width="0.14">high</text>
<text x="185.90" y="496.00" font-size="6.6" text-anchor="middle" stroke-width="0.14">SoNar-</text>
<text x="185.90" y="503.60" font-size="6.6" text-anchor="middle" stroke-width="0.14">low</text>
<text x="219.64" y="412.90" font-size="11.3" font-weight="bold" fill="#000" stroke-width="0.35">L</text>
<line x1="257.80" y1="437.20" x2="257.80" y2="483.90" stroke="#111" stroke-width="0.8"/>
<line x1="271.60" y1="437.20" x2="271.60" y2="483.90" stroke="#111" stroke-width="0.8"/>
<line x1="285.50" y1="437.20" x2="285.50" y2="483.90" stroke="#111" stroke-width="0.8"/>
<polyline points="246.00,475.52 250.89,475.52 255.43,474.76 259.97,465.62 264.87,463.33 269.06,461.81 273.60,449.62 278.14,448.10 282.68,448.86 287.92,480.09 292.81,480.85 297.01,480.85" fill="none" stroke="#2c4a80" stroke-width="0.9"/>
<line x1="246.00" y1="473.24" x2="246.00" y2="477.81" stroke="#2c4a80" stroke-width="0.8"/>
<line x1="244.90" y1="473.24" x2="247.10" y2="473.24" stroke="#2c4a80" stroke-width="0.7"/>
<line x1="244.90" y1="477.81" x2="247.10" y2="477.81" stroke="#2c4a80" stroke-width="0.7"/>
<circle cx="246.00" cy="475.52" r="1.05" fill="#2c4a80"/>
<line x1="250.89" y1="473.24" x2="250.89" y2="477.81" stroke="#2c4a80" stroke-width="0.8"/>
<line x1="249.79" y1="473.24" x2="251.99" y2="473.24" stroke="#2c4a80" stroke-width="0.7"/>
<line x1="249.79" y1="477.81" x2="251.99" y2="477.81" stroke="#2c4a80" stroke-width="0.7"/>
<circle cx="250.89" cy="475.52" r="1.05" fill="#2c4a80"/>
<line x1="255.43" y1="472.47" x2="255.43" y2="477.05" stroke="#2c4a80" stroke-width="0.8"/>
<line x1="254.33" y1="472.47" x2="256.53" y2="472.47" stroke="#2c4a80" stroke-width="0.7"/>
<line x1="254.33" y1="477.05" x2="256.53" y2="477.05" stroke="#2c4a80" stroke-width="0.7"/>
<circle cx="255.43" cy="474.76" r="1.05" fill="#2c4a80"/>
<line x1="259.97" y1="463.33" x2="259.97" y2="467.91" stroke="#2c4a80" stroke-width="0.8"/>
<line x1="258.87" y1="463.33" x2="261.07" y2="463.33" stroke="#2c4a80" stroke-width="0.7"/>
<line x1="258.87" y1="467.91" x2="261.07" y2="467.91" stroke="#2c4a80" stroke-width="0.7"/>
<circle cx="259.97" cy="465.62" r="1.05" fill="#2c4a80"/>
<line x1="264.87" y1="461.05" x2="264.87" y2="465.62" stroke="#2c4a80" stroke-width="0.8"/>
<line x1="263.76" y1="461.05" x2="265.97" y2="461.05" stroke="#2c4a80" stroke-width="0.7"/>
<line x1="263.76" y1="465.62" x2="265.97" y2="465.62" stroke="#2c4a80" stroke-width="0.7"/>
<circle cx="264.87" cy="463.33" r="1.05" fill="#2c4a80"/>
<line x1="269.06" y1="459.53" x2="269.06" y2="464.10" stroke="#2c4a80" stroke-width="0.8"/>
<line x1="267.96" y1="459.53" x2="270.16" y2="459.53" stroke="#2c4a80" stroke-width="0.7"/>
<line x1="267.96" y1="464.10" x2="270.16" y2="464.10" stroke="#2c4a80" stroke-width="0.7"/>
<circle cx="269.06" cy="461.81" r="1.05" fill="#2c4a80"/>
<line x1="273.60" y1="447.34" x2="273.60" y2="451.91" stroke="#2c4a80" stroke-width="0.8"/>
<line x1="272.50" y1="447.34" x2="274.70" y2="447.34" stroke="#2c4a80" stroke-width="0.7"/>
<line x1="272.50" y1="451.91" x2="274.70" y2="451.91" stroke="#2c4a80" stroke-width="0.7"/>
<circle cx="273.60" cy="449.62" r="1.05" fill="#2c4a80"/>
<line x1="278.14" y1="445.82" x2="278.14" y2="450.39" stroke="#2c4a80" stroke-width="0.8"/>
<line x1="277.04" y1="445.82" x2="279.24" y2="445.82" stroke="#2c4a80" stroke-width="0.7"/>
<line x1="277.04" y1="450.39" x2="279.24" y2="450.39" stroke="#2c4a80" stroke-width="0.7"/>
<circle cx="278.14" cy="448.10" r="1.05" fill="#2c4a80"/>
<line x1="282.68" y1="446.58" x2="282.68" y2="451.15" stroke="#2c4a80" stroke-width="0.8"/>
<line x1="281.58" y1="446.58" x2="283.78" y2="446.58" stroke="#2c4a80" stroke-width="0.7"/>
<line x1="281.58" y1="451.15" x2="283.78" y2="451.15" stroke="#2c4a80" stroke-width="0.7"/>
<circle cx="282.68" cy="448.86" r="1.05" fill="#2c4a80"/>
<line x1="287.92" y1="478.95" x2="287.92" y2="481.23" stroke="#2c4a80" stroke-width="0.8"/>
<line x1="286.82" y1="478.95" x2="289.02" y2="478.95" stroke="#2c4a80" stroke-width="0.7"/>
<line x1="286.82" y1="481.23" x2="289.02" y2="481.23" stroke="#2c4a80" stroke-width="0.7"/>
<circle cx="287.92" cy="480.09" r="1.05" fill="#2c4a80"/>
<line x1="292.81" y1="479.71" x2="292.81" y2="482.00" stroke="#2c4a80" stroke-width="0.8"/>
<line x1="291.71" y1="479.71" x2="293.92" y2="479.71" stroke="#2c4a80" stroke-width="0.7"/>
<line x1="291.71" y1="482.00" x2="293.92" y2="482.00" stroke="#2c4a80" stroke-width="0.7"/>
<circle cx="292.81" cy="480.85" r="1.05" fill="#2c4a80"/>
<line x1="297.01" y1="480.09" x2="297.01" y2="481.61" stroke="#2c4a80" stroke-width="0.8"/>
<line x1="295.91" y1="480.09" x2="298.11" y2="480.09" stroke="#2c4a80" stroke-width="0.7"/>
<line x1="295.91" y1="481.61" x2="298.11" y2="481.61" stroke="#2c4a80" stroke-width="0.7"/>
<circle cx="297.01" cy="480.85" r="1.05" fill="#2c4a80"/>
<polyline points="246.00,472.47 250.89,473.24 255.43,471.71 259.97,462.57 264.87,461.81 269.06,460.29 273.60,446.58 278.14,445.82 282.68,446.58 287.92,478.57 292.81,480.09 297.01,480.85" fill="none" stroke="#a5002b" stroke-width="0.9"/>
<line x1="246.00" y1="470.95" x2="246.00" y2="474.00" stroke="#a5002b" stroke-width="0.8"/>
<line x1="244.90" y1="470.95" x2="247.10" y2="470.95" stroke="#a5002b" stroke-width="0.7"/>
<line x1="244.90" y1="474.00" x2="247.10" y2="474.00" stroke="#a5002b" stroke-width="0.7"/>
<circle cx="246.00" cy="472.47" r="1.05" fill="#a5002b"/>
<line x1="250.89" y1="471.71" x2="250.89" y2="474.76" stroke="#a5002b" stroke-width="0.8"/>
<line x1="249.79" y1="471.71" x2="251.99" y2="471.71" stroke="#a5002b" stroke-width="0.7"/>
<line x1="249.79" y1="474.76" x2="251.99" y2="474.76" stroke="#a5002b" stroke-width="0.7"/>
<circle cx="250.89" cy="473.24" r="1.05" fill="#a5002b"/>
<line x1="255.43" y1="470.19" x2="255.43" y2="473.24" stroke="#a5002b" stroke-width="0.8"/>
<line x1="254.33" y1="470.19" x2="256.53" y2="470.19" stroke="#a5002b" stroke-width="0.7"/>
<line x1="254.33" y1="473.24" x2="256.53" y2="473.24" stroke="#a5002b" stroke-width="0.7"/>
<circle cx="255.43" cy="471.71" r="1.05" fill="#a5002b"/>
<line x1="259.97" y1="461.05" x2="259.97" y2="464.10" stroke="#a5002b" stroke-width="0.8"/>
<line x1="258.87" y1="461.05" x2="261.07" y2="461.05" stroke="#a5002b" stroke-width="0.7"/>
<line x1="258.87" y1="464.10" x2="261.07" y2="464.10" stroke="#a5002b" stroke-width="0.7"/>
<circle cx="259.97" cy="462.57" r="1.05" fill="#a5002b"/>
<line x1="264.87" y1="460.29" x2="264.87" y2="463.33" stroke="#a5002b" stroke-width="0.8"/>
<line x1="263.76" y1="460.29" x2="265.97" y2="460.29" stroke="#a5002b" stroke-width="0.7"/>
<line x1="263.76" y1="463.33" x2="265.97" y2="463.33" stroke="#a5002b" stroke-width="0.7"/>
<circle cx="264.87" cy="461.81" r="1.05" fill="#a5002b"/>
<line x1="269.06" y1="458.76" x2="269.06" y2="461.81" stroke="#a5002b" stroke-width="0.8"/>
<line x1="267.96" y1="458.76" x2="270.16" y2="458.76" stroke="#a5002b" stroke-width="0.7"/>
<line x1="267.96" y1="461.81" x2="270.16" y2="461.81" stroke="#a5002b" stroke-width="0.7"/>
<circle cx="269.06" cy="460.29" r="1.05" fill="#a5002b"/>
<line x1="273.60" y1="445.06" x2="273.60" y2="448.10" stroke="#a5002b" stroke-width="0.8"/>
<line x1="272.50" y1="445.06" x2="274.70" y2="445.06" stroke="#a5002b" stroke-width="0.7"/>
<line x1="272.50" y1="448.10" x2="274.70" y2="448.10" stroke="#a5002b" stroke-width="0.7"/>
<circle cx="273.60" cy="446.58" r="1.05" fill="#a5002b"/>
<line x1="278.14" y1="444.29" x2="278.14" y2="447.34" stroke="#a5002b" stroke-width="0.8"/>
<line x1="277.04" y1="444.29" x2="279.24" y2="444.29" stroke="#a5002b" stroke-width="0.7"/>
<line x1="277.04" y1="447.34" x2="279.24" y2="447.34" stroke="#a5002b" stroke-width="0.7"/>
<circle cx="278.14" cy="445.82" r="1.05" fill="#a5002b"/>
<line x1="282.68" y1="445.06" x2="282.68" y2="448.10" stroke="#a5002b" stroke-width="0.8"/>
<line x1="281.58" y1="445.06" x2="283.78" y2="445.06" stroke="#a5002b" stroke-width="0.7"/>
<line x1="281.58" y1="448.10" x2="283.78" y2="448.10" stroke="#a5002b" stroke-width="0.7"/>
<circle cx="282.68" cy="446.58" r="1.05" fill="#a5002b"/>
<line x1="287.92" y1="477.81" x2="287.92" y2="479.33" stroke="#a5002b" stroke-width="0.8"/>
<line x1="286.82" y1="477.81" x2="289.02" y2="477.81" stroke="#a5002b" stroke-width="0.7"/>
<line x1="286.82" y1="479.33" x2="289.02" y2="479.33" stroke="#a5002b" stroke-width="0.7"/>
<circle cx="287.92" cy="478.57" r="1.05" fill="#a5002b"/>
<line x1="292.81" y1="479.33" x2="292.81" y2="480.85" stroke="#a5002b" stroke-width="0.8"/>
<line x1="291.71" y1="479.33" x2="293.92" y2="479.33" stroke="#a5002b" stroke-width="0.7"/>
<line x1="291.71" y1="480.85" x2="293.92" y2="480.85" stroke="#a5002b" stroke-width="0.7"/>
<circle cx="292.81" cy="480.09" r="1.05" fill="#a5002b"/>
<line x1="297.01" y1="480.09" x2="297.01" y2="481.61" stroke="#a5002b" stroke-width="0.8"/>
<line x1="295.91" y1="480.09" x2="298.11" y2="480.09" stroke="#a5002b" stroke-width="0.7"/>
<line x1="295.91" y1="481.61" x2="298.11" y2="481.61" stroke="#a5002b" stroke-width="0.7"/>
<circle cx="297.01" cy="480.85" r="1.05" fill="#a5002b"/>
<line x1="245.30" y1="484.35" x2="245.30" y2="437.10" stroke="#111" stroke-width="1.05"/>
<line x1="242.50" y1="483.90" x2="245.30" y2="483.90" stroke="#111" stroke-width="0.9450000000000001"/>
<text x="239.70" y="486.28" font-size="6.6" text-anchor="end" stroke-width="0.14">0</text>
<line x1="242.50" y1="468.67" x2="245.30" y2="468.67" stroke="#111" stroke-width="0.9450000000000001"/>
<text x="239.70" y="471.04" font-size="6.6" text-anchor="end" stroke-width="0.14">20</text>
<line x1="242.50" y1="453.43" x2="245.30" y2="453.43" stroke="#111" stroke-width="0.9450000000000001"/>
<text x="239.70" y="455.81" font-size="6.6" text-anchor="end" stroke-width="0.14">40</text>
<line x1="242.50" y1="438.20" x2="245.30" y2="438.20" stroke="#111" stroke-width="0.9450000000000001"/>
<text x="239.70" y="440.58" font-size="6.6" text-anchor="end" stroke-width="0.14">60</text>
<line x1="244.85" y1="483.90" x2="303.50" y2="483.90" stroke="#111" stroke-width="1.05"/>
<line x1="245.30" y1="483.90" x2="245.30" y2="486.50" stroke="#111" stroke-width="0.9450000000000001"/>
<text x="245.30" y="494.50" font-size="6.6" text-anchor="middle" stroke-width="0.14">0</text>
<line x1="259.27" y1="483.90" x2="259.27" y2="486.50" stroke="#111" stroke-width="0.9450000000000001"/>
<text x="259.27" y="494.50" font-size="6.6" text-anchor="middle" stroke-width="0.14">20</text>
<line x1="273.25" y1="483.90" x2="273.25" y2="486.50" stroke="#111" stroke-width="0.9450000000000001"/>
<text x="273.25" y="494.50" font-size="6.6" text-anchor="middle" stroke-width="0.14">40</text>
<line x1="287.23" y1="483.90" x2="287.23" y2="486.50" stroke="#111" stroke-width="0.9450000000000001"/>
<text x="287.23" y="494.50" font-size="6.6" text-anchor="middle" stroke-width="0.14">60</text>
<line x1="301.20" y1="483.90" x2="301.20" y2="486.50" stroke="#111" stroke-width="0.9450000000000001"/>
<text x="301.20" y="494.50" font-size="6.6" text-anchor="middle" stroke-width="0.14">80</text>
<text x="275.00" y="508.20" font-size="8.6" text-anchor="middle" textLength="35.8" lengthAdjust="spacingAndGlyphs" stroke-width="0.1">Time (mins)</text>
<text transform="translate(226.00,458.60) rotate(-90)" font-size="8.2" text-anchor="middle" textLength="50.5" lengthAdjust="spacingAndGlyphs" stroke-width="0.1">ECAR (mpH/min)</text>
<text transform="translate(257.50,433.60) rotate(-45)" font-size="5.6" textLength="21" lengthAdjust="spacingAndGlyphs" stroke-width="0.06">Glucose</text>
<text transform="translate(271.20,433.60) rotate(-45)" font-size="5.6" textLength="28" lengthAdjust="spacingAndGlyphs" stroke-width="0.06">Oligomycin</text>
<text transform="translate(285.00,433.60) rotate(-45)" font-size="5.6" textLength="13" lengthAdjust="spacingAndGlyphs" stroke-width="0.06">2-DG</text>
<line x1="235.40" y1="515.50" x2="240.60" y2="515.50" stroke="#a5002b" stroke-width="0.8"/>
<circle cx="238.00" cy="515.5" r="0.9" fill="#a5002b"/>
<text x="243.40" y="517.60" font-size="5.6" textLength="28" lengthAdjust="spacingAndGlyphs" stroke-width="0.06">SoNar-high</text>
<line x1="281.50" y1="515.50" x2="286.70" y2="515.50" stroke="#2c4a80" stroke-width="0.8"/>
<circle cx="284.10" cy="515.5" r="0.9" fill="#2c4a80"/>
<text x="289.50" y="517.60" font-size="5.6" textLength="25.3" lengthAdjust="spacingAndGlyphs" stroke-width="0.06">SoNar-low</text>
<text x="329.24" y="412.90" font-size="11.3" font-weight="bold" fill="#000" stroke-width="0.35">M</text>
<rect x="381.25" y="434.88" width="18.25" height="48.88" fill="#a5002b"/>
<line x1="390.38" y1="434.88" x2="390.38" y2="429.12" stroke="#111" stroke-width="0.85"/>
<line x1="385.26" y1="429.12" x2="395.49" y2="429.12" stroke="#111" stroke-width="0.85"/>
<rect x="408.00" y="441.10" width="18.25" height="42.65" fill="#2c4a80"/>
<line x1="417.12" y1="441.10" x2="417.12" y2="440.15" stroke="#111" stroke-width="0.85"/>
<line x1="412.01" y1="440.15" x2="422.24" y2="440.15" stroke="#111" stroke-width="0.85"/>
<line x1="377.00" y1="484.20" x2="377.00" y2="425.20" stroke="#111" stroke-width="1.05"/>
<line x1="374.20" y1="483.75" x2="377.00" y2="483.75" stroke="#111" stroke-width="0.9450000000000001"/>
<text x="369.50" y="486.13" font-size="6.6" text-anchor="end" stroke-width="0.14">0</text>
<line x1="374.20" y1="469.38" x2="377.00" y2="469.38" stroke="#111" stroke-width="0.9450000000000001"/>
<text x="369.50" y="471.75" font-size="6.6" text-anchor="end" stroke-width="0.14">15</text>
<line x1="374.20" y1="455.00" x2="377.00" y2="455.00" stroke="#111" stroke-width="0.9450000000000001"/>
<text x="369.50" y="457.38" font-size="6.6" text-anchor="end" stroke-width="0.14">30</text>
<line x1="374.20" y1="440.62" x2="377.00" y2="440.62" stroke="#111" stroke-width="0.9450000000000001"/>
<text x="369.50" y="443.00" font-size="6.6" text-anchor="end" stroke-width="0.14">45</text>
<line x1="374.20" y1="426.25" x2="377.00" y2="426.25" stroke="#111" stroke-width="0.9450000000000001"/>
<text x="369.50" y="428.63" font-size="6.6" text-anchor="end" stroke-width="0.14">60</text>
<line x1="376.55" y1="483.75" x2="430.00" y2="483.75" stroke="#111" stroke-width="1.05"/>
<line x1="390.50" y1="483.75" x2="390.50" y2="486.35" stroke="#111" stroke-width="0.9450000000000001"/>
<line x1="417.50" y1="483.75" x2="417.50" y2="486.35" stroke="#111" stroke-width="0.9450000000000001"/>
<text transform="translate(336.60,453.70) rotate(-90)" font-size="7.6" text-anchor="middle" textLength="56.3" lengthAdjust="spacingAndGlyphs" stroke-width="0.1">Lactate production</text>
<text transform="translate(346.60,454.90) rotate(-90)" font-size="7.6" text-anchor="middle" textLength="51" lengthAdjust="spacingAndGlyphs" stroke-width="0.1">(nmol lactate per</text>
<text transform="translate(357.20,453.00) rotate(-90)" font-size="7.6" text-anchor="middle" textLength="66.8" lengthAdjust="spacingAndGlyphs" stroke-width="0.1">million cells per hour)</text>
<text x="390.50" y="495.80" font-size="6.6" text-anchor="middle" stroke-width="0.14">SoNar-</text>
<text x="390.50" y="503.60" font-size="6.6" text-anchor="middle" stroke-width="0.14">high</text>
<text x="417.50" y="495.80" font-size="6.6" text-anchor="middle" stroke-width="0.14">SoNar-</text>
<text x="417.50" y="503.60" font-size="6.6" text-anchor="middle" stroke-width="0.14">low</text><rect x="0.5" y="0.5" width="519" height="526" fill="none" stroke="#000" stroke-width="1"/></svg></body></html>
